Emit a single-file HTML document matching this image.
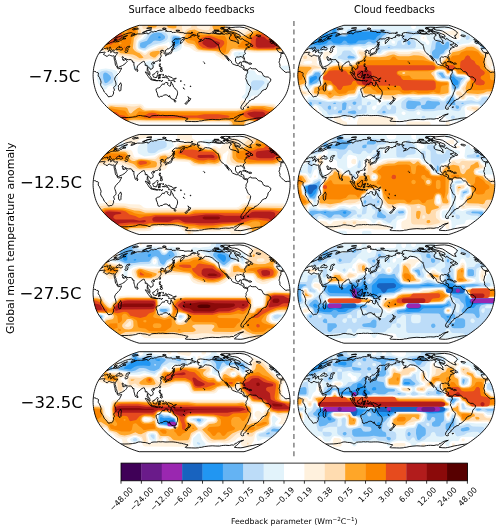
<!DOCTYPE html><html><head><meta charset="utf-8"><style>html,body{margin:0;padding:0;background:#fff;}svg{display:block;}text{font-family:"DejaVu Sans","Liberation Sans",sans-serif;fill:#000;}</style></head><body>
<svg width="500" height="530" viewBox="0 0 500 530">
<rect width="500" height="530" fill="#fff"/>
<defs>
<clipPath id="c00"><path d="M244,125.3 246.4,124.6 249,123.7 252,122.6 255.1,121.3 258.1,119.9 260.9,118.3 263.5,116.8 266,115.1 268.3,113.4 270.6,111.7 272.8,110 274.9,108.2 276.9,106.4 278.6,104.5 280.3,102.7 281.8,100.8 283.2,98.9 284.4,97.1 285.5,95.2 286.4,93.3 287.2,91.4 287.8,89.5 288.4,87.6 288.8,85.7 289.3,83.8 289.6,81.9 289.8,80 290,78.1 290.1,76.2 290.1,74.4 290,72.5 289.8,70.6 289.6,68.7 289.3,66.8 288.8,64.9 288.4,63 287.8,61.1 287.2,59.2 286.4,57.3 285.5,55.4 284.4,53.5 283.2,51.7 281.8,49.8 280.3,47.9 278.6,46.1 276.9,44.2 274.9,42.4 272.8,40.6 270.6,38.9 268.3,37.2 266,35.5 263.5,33.8 260.9,32.3 258.1,30.7 255.1,29.3 252,28 249,26.9 246.4,26 244,25.3 139.2,25.3 136.8,26 134.2,26.9 131.2,28 128.1,29.3 125.1,30.7 122.3,32.3 119.7,33.8 117.2,35.5 114.9,37.2 112.6,38.9 110.4,40.6 108.3,42.4 106.3,44.2 104.6,46.1 102.9,47.9 101.4,49.8 100,51.7 98.8,53.5 97.7,55.4 96.8,57.3 96,59.2 95.4,61.1 94.8,63 94.4,64.9 93.9,66.8 93.6,68.7 93.4,70.6 93.2,72.5 93.1,74.4 93.1,76.2 93.2,78.1 93.4,80 93.6,81.9 93.9,83.8 94.4,85.7 94.8,87.6 95.4,89.5 96,91.4 96.8,93.3 97.7,95.2 98.8,97.1 100,98.9 101.4,100.8 102.9,102.7 104.6,104.5 106.3,106.4 108.3,108.2 110.4,110 112.6,111.7 114.9,113.4 117.2,115.1 119.7,116.8 122.3,118.3 125.1,119.9 128.1,121.3 131.2,122.6 134.2,123.7 136.8,124.6 139.2,125.3Z"/></clipPath>
<clipPath id="c01"><path d="M244,234.5 246.4,233.8 249,232.9 252,231.8 255.1,230.5 258.1,229.1 260.9,227.5 263.5,226 266,224.3 268.3,222.6 270.6,220.9 272.8,219.2 274.9,217.4 276.9,215.6 278.6,213.7 280.3,211.9 281.8,210 283.2,208.1 284.4,206.3 285.5,204.4 286.4,202.5 287.2,200.6 287.8,198.7 288.4,196.8 288.8,194.9 289.3,193 289.6,191.1 289.8,189.2 290,187.3 290.1,185.4 290.1,183.6 290,181.7 289.8,179.8 289.6,177.9 289.3,176 288.8,174.1 288.4,172.2 287.8,170.3 287.2,168.4 286.4,166.5 285.5,164.6 284.4,162.7 283.2,160.9 281.8,159 280.3,157.1 278.6,155.3 276.9,153.4 274.9,151.6 272.8,149.8 270.6,148.1 268.3,146.4 266,144.7 263.5,143 260.9,141.5 258.1,139.9 255.1,138.5 252,137.2 249,136.1 246.4,135.2 244,134.5 139.2,134.5 136.8,135.2 134.2,136.1 131.2,137.2 128.1,138.5 125.1,139.9 122.3,141.5 119.7,143 117.2,144.7 114.9,146.4 112.6,148.1 110.4,149.8 108.3,151.6 106.3,153.4 104.6,155.3 102.9,157.1 101.4,159 100,160.9 98.8,162.7 97.7,164.6 96.8,166.5 96,168.4 95.4,170.3 94.8,172.2 94.4,174.1 93.9,176 93.6,177.9 93.4,179.8 93.2,181.7 93.1,183.6 93.1,185.4 93.2,187.3 93.4,189.2 93.6,191.1 93.9,193 94.4,194.9 94.8,196.8 95.4,198.7 96,200.6 96.8,202.5 97.7,204.4 98.8,206.3 100,208.1 101.4,210 102.9,211.9 104.6,213.7 106.3,215.6 108.3,217.4 110.4,219.2 112.6,220.9 114.9,222.6 117.2,224.3 119.7,226 122.3,227.5 125.1,229.1 128.1,230.5 131.2,231.8 134.2,232.9 136.8,233.8 139.2,234.5Z"/></clipPath>
<clipPath id="c02"><path d="M244,343.2 246.4,342.5 249,341.6 252,340.5 255.1,339.2 258.1,337.8 260.9,336.2 263.5,334.7 266,333 268.3,331.3 270.6,329.6 272.8,327.9 274.9,326.1 276.9,324.3 278.6,322.4 280.3,320.6 281.8,318.7 283.2,316.8 284.4,315 285.5,313.1 286.4,311.2 287.2,309.3 287.8,307.4 288.4,305.5 288.8,303.6 289.3,301.7 289.6,299.8 289.8,297.9 290,296 290.1,294.1 290.1,292.3 290,290.4 289.8,288.5 289.6,286.6 289.3,284.7 288.8,282.8 288.4,280.9 287.8,279 287.2,277.1 286.4,275.2 285.5,273.3 284.4,271.4 283.2,269.6 281.8,267.7 280.3,265.8 278.6,264 276.9,262.1 274.9,260.3 272.8,258.5 270.6,256.8 268.3,255.1 266,253.4 263.5,251.7 260.9,250.2 258.1,248.6 255.1,247.2 252,245.9 249,244.8 246.4,243.9 244,243.2 139.2,243.2 136.8,243.9 134.2,244.8 131.2,245.9 128.1,247.2 125.1,248.6 122.3,250.2 119.7,251.7 117.2,253.4 114.9,255.1 112.6,256.8 110.4,258.5 108.3,260.3 106.3,262.1 104.6,264 102.9,265.8 101.4,267.7 100,269.6 98.8,271.4 97.7,273.3 96.8,275.2 96,277.1 95.4,279 94.8,280.9 94.4,282.8 93.9,284.7 93.6,286.6 93.4,288.5 93.2,290.4 93.1,292.3 93.1,294.1 93.2,296 93.4,297.9 93.6,299.8 93.9,301.7 94.4,303.6 94.8,305.5 95.4,307.4 96,309.3 96.8,311.2 97.7,313.1 98.8,315 100,316.8 101.4,318.7 102.9,320.6 104.6,322.4 106.3,324.3 108.3,326.1 110.4,327.9 112.6,329.6 114.9,331.3 117.2,333 119.7,334.7 122.3,336.2 125.1,337.8 128.1,339.2 131.2,340.5 134.2,341.6 136.8,342.5 139.2,343.2Z"/></clipPath>
<clipPath id="c03"><path d="M244,451.7 246.4,451 249,450.1 252,449 255.1,447.7 258.1,446.3 260.9,444.7 263.5,443.2 266,441.5 268.3,439.8 270.6,438.1 272.8,436.4 274.9,434.6 276.9,432.8 278.6,430.9 280.3,429.1 281.8,427.2 283.2,425.3 284.4,423.5 285.5,421.6 286.4,419.7 287.2,417.8 287.8,415.9 288.4,414 288.8,412.1 289.3,410.2 289.6,408.3 289.8,406.4 290,404.5 290.1,402.6 290.1,400.8 290,398.9 289.8,397 289.6,395.1 289.3,393.2 288.8,391.3 288.4,389.4 287.8,387.5 287.2,385.6 286.4,383.7 285.5,381.8 284.4,379.9 283.2,378.1 281.8,376.2 280.3,374.3 278.6,372.5 276.9,370.6 274.9,368.8 272.8,367 270.6,365.3 268.3,363.6 266,361.9 263.5,360.2 260.9,358.7 258.1,357.1 255.1,355.7 252,354.4 249,353.3 246.4,352.4 244,351.7 139.2,351.7 136.8,352.4 134.2,353.3 131.2,354.4 128.1,355.7 125.1,357.1 122.3,358.7 119.7,360.2 117.2,361.9 114.9,363.6 112.6,365.3 110.4,367 108.3,368.8 106.3,370.6 104.6,372.5 102.9,374.3 101.4,376.2 100,378.1 98.8,379.9 97.7,381.8 96.8,383.7 96,385.6 95.4,387.5 94.8,389.4 94.4,391.3 93.9,393.2 93.6,395.1 93.4,397 93.2,398.9 93.1,400.8 93.1,402.6 93.2,404.5 93.4,406.4 93.6,408.3 93.9,410.2 94.4,412.1 94.8,414 95.4,415.9 96,417.8 96.8,419.7 97.7,421.6 98.8,423.5 100,425.3 101.4,427.2 102.9,429.1 104.6,430.9 106.3,432.8 108.3,434.6 110.4,436.4 112.6,438.1 114.9,439.8 117.2,441.5 119.7,443.2 122.3,444.7 125.1,446.3 128.1,447.7 131.2,449 134.2,450.1 136.8,451 139.2,451.7Z"/></clipPath>
<clipPath id="c10"><path d="M448.7,125.3 451.1,124.6 453.7,123.7 456.7,122.6 459.8,121.3 462.8,119.9 465.6,118.3 468.2,116.8 470.7,115.1 473,113.4 475.3,111.7 477.5,110 479.6,108.2 481.6,106.4 483.3,104.5 485,102.7 486.5,100.8 487.9,98.9 489.1,97.1 490.2,95.2 491.1,93.3 491.9,91.4 492.5,89.5 493.1,87.6 493.5,85.7 494,83.8 494.3,81.9 494.5,80 494.7,78.1 494.8,76.2 494.8,74.4 494.7,72.5 494.5,70.6 494.3,68.7 494,66.8 493.5,64.9 493.1,63 492.5,61.1 491.9,59.2 491.1,57.3 490.2,55.4 489.1,53.5 487.9,51.7 486.5,49.8 485,47.9 483.3,46.1 481.6,44.2 479.6,42.4 477.5,40.6 475.3,38.9 473,37.2 470.7,35.5 468.2,33.8 465.6,32.3 462.8,30.7 459.8,29.3 456.7,28 453.7,26.9 451.1,26 448.7,25.3 343.9,25.3 341.5,26 338.9,26.9 335.9,28 332.8,29.3 329.8,30.7 327,32.3 324.4,33.8 321.9,35.5 319.6,37.2 317.3,38.9 315.1,40.6 313,42.4 311,44.2 309.3,46.1 307.6,47.9 306.1,49.8 304.7,51.7 303.5,53.5 302.4,55.4 301.5,57.3 300.7,59.2 300.1,61.1 299.5,63 299.1,64.9 298.6,66.8 298.3,68.7 298.1,70.6 297.9,72.5 297.8,74.4 297.8,76.2 297.9,78.1 298.1,80 298.3,81.9 298.6,83.8 299.1,85.7 299.5,87.6 300.1,89.5 300.7,91.4 301.5,93.3 302.4,95.2 303.5,97.1 304.7,98.9 306.1,100.8 307.6,102.7 309.3,104.5 311,106.4 313,108.2 315.1,110 317.3,111.7 319.6,113.4 321.9,115.1 324.4,116.8 327,118.3 329.8,119.9 332.8,121.3 335.9,122.6 338.9,123.7 341.5,124.6 343.9,125.3Z"/></clipPath>
<clipPath id="c11"><path d="M448.7,234.5 451.1,233.8 453.7,232.9 456.7,231.8 459.8,230.5 462.8,229.1 465.6,227.5 468.2,226 470.7,224.3 473,222.6 475.3,220.9 477.5,219.2 479.6,217.4 481.6,215.6 483.3,213.7 485,211.9 486.5,210 487.9,208.1 489.1,206.3 490.2,204.4 491.1,202.5 491.9,200.6 492.5,198.7 493.1,196.8 493.5,194.9 494,193 494.3,191.1 494.5,189.2 494.7,187.3 494.8,185.4 494.8,183.6 494.7,181.7 494.5,179.8 494.3,177.9 494,176 493.5,174.1 493.1,172.2 492.5,170.3 491.9,168.4 491.1,166.5 490.2,164.6 489.1,162.7 487.9,160.9 486.5,159 485,157.1 483.3,155.3 481.6,153.4 479.6,151.6 477.5,149.8 475.3,148.1 473,146.4 470.7,144.7 468.2,143 465.6,141.5 462.8,139.9 459.8,138.5 456.7,137.2 453.7,136.1 451.1,135.2 448.7,134.5 343.9,134.5 341.5,135.2 338.9,136.1 335.9,137.2 332.8,138.5 329.8,139.9 327,141.5 324.4,143 321.9,144.7 319.6,146.4 317.3,148.1 315.1,149.8 313,151.6 311,153.4 309.3,155.3 307.6,157.1 306.1,159 304.7,160.9 303.5,162.7 302.4,164.6 301.5,166.5 300.7,168.4 300.1,170.3 299.5,172.2 299.1,174.1 298.6,176 298.3,177.9 298.1,179.8 297.9,181.7 297.8,183.6 297.8,185.4 297.9,187.3 298.1,189.2 298.3,191.1 298.6,193 299.1,194.9 299.5,196.8 300.1,198.7 300.7,200.6 301.5,202.5 302.4,204.4 303.5,206.3 304.7,208.1 306.1,210 307.6,211.9 309.3,213.7 311,215.6 313,217.4 315.1,219.2 317.3,220.9 319.6,222.6 321.9,224.3 324.4,226 327,227.5 329.8,229.1 332.8,230.5 335.9,231.8 338.9,232.9 341.5,233.8 343.9,234.5Z"/></clipPath>
<clipPath id="c12"><path d="M448.7,343.2 451.1,342.5 453.7,341.6 456.7,340.5 459.8,339.2 462.8,337.8 465.6,336.2 468.2,334.7 470.7,333 473,331.3 475.3,329.6 477.5,327.9 479.6,326.1 481.6,324.3 483.3,322.4 485,320.6 486.5,318.7 487.9,316.8 489.1,315 490.2,313.1 491.1,311.2 491.9,309.3 492.5,307.4 493.1,305.5 493.5,303.6 494,301.7 494.3,299.8 494.5,297.9 494.7,296 494.8,294.1 494.8,292.3 494.7,290.4 494.5,288.5 494.3,286.6 494,284.7 493.5,282.8 493.1,280.9 492.5,279 491.9,277.1 491.1,275.2 490.2,273.3 489.1,271.4 487.9,269.6 486.5,267.7 485,265.8 483.3,264 481.6,262.1 479.6,260.3 477.5,258.5 475.3,256.8 473,255.1 470.7,253.4 468.2,251.7 465.6,250.2 462.8,248.6 459.8,247.2 456.7,245.9 453.7,244.8 451.1,243.9 448.7,243.2 343.9,243.2 341.5,243.9 338.9,244.8 335.9,245.9 332.8,247.2 329.8,248.6 327,250.2 324.4,251.7 321.9,253.4 319.6,255.1 317.3,256.8 315.1,258.5 313,260.3 311,262.1 309.3,264 307.6,265.8 306.1,267.7 304.7,269.6 303.5,271.4 302.4,273.3 301.5,275.2 300.7,277.1 300.1,279 299.5,280.9 299.1,282.8 298.6,284.7 298.3,286.6 298.1,288.5 297.9,290.4 297.8,292.3 297.8,294.1 297.9,296 298.1,297.9 298.3,299.8 298.6,301.7 299.1,303.6 299.5,305.5 300.1,307.4 300.7,309.3 301.5,311.2 302.4,313.1 303.5,315 304.7,316.8 306.1,318.7 307.6,320.6 309.3,322.4 311,324.3 313,326.1 315.1,327.9 317.3,329.6 319.6,331.3 321.9,333 324.4,334.7 327,336.2 329.8,337.8 332.8,339.2 335.9,340.5 338.9,341.6 341.5,342.5 343.9,343.2Z"/></clipPath>
<clipPath id="c13"><path d="M448.7,451.7 451.1,451 453.7,450.1 456.7,449 459.8,447.7 462.8,446.3 465.6,444.7 468.2,443.2 470.7,441.5 473,439.8 475.3,438.1 477.5,436.4 479.6,434.6 481.6,432.8 483.3,430.9 485,429.1 486.5,427.2 487.9,425.3 489.1,423.5 490.2,421.6 491.1,419.7 491.9,417.8 492.5,415.9 493.1,414 493.5,412.1 494,410.2 494.3,408.3 494.5,406.4 494.7,404.5 494.8,402.6 494.8,400.8 494.7,398.9 494.5,397 494.3,395.1 494,393.2 493.5,391.3 493.1,389.4 492.5,387.5 491.9,385.6 491.1,383.7 490.2,381.8 489.1,379.9 487.9,378.1 486.5,376.2 485,374.3 483.3,372.5 481.6,370.6 479.6,368.8 477.5,367 475.3,365.3 473,363.6 470.7,361.9 468.2,360.2 465.6,358.7 462.8,357.1 459.8,355.7 456.7,354.4 453.7,353.3 451.1,352.4 448.7,351.7 343.9,351.7 341.5,352.4 338.9,353.3 335.9,354.4 332.8,355.7 329.8,357.1 327,358.7 324.4,360.2 321.9,361.9 319.6,363.6 317.3,365.3 315.1,367 313,368.8 311,370.6 309.3,372.5 307.6,374.3 306.1,376.2 304.7,378.1 303.5,379.9 302.4,381.8 301.5,383.7 300.7,385.6 300.1,387.5 299.5,389.4 299.1,391.3 298.6,393.2 298.3,395.1 298.1,397 297.9,398.9 297.8,400.8 297.8,402.6 297.9,404.5 298.1,406.4 298.3,408.3 298.6,410.2 299.1,412.1 299.5,414 300.1,415.9 300.7,417.8 301.5,419.7 302.4,421.6 303.5,423.5 304.7,425.3 306.1,427.2 307.6,429.1 309.3,430.9 311,432.8 313,434.6 315.1,436.4 317.3,438.1 319.6,439.8 321.9,441.5 324.4,443.2 327,444.7 329.8,446.3 332.8,447.7 335.9,449 338.9,450.1 341.5,451 343.9,451.7Z"/></clipPath>
</defs>
<g clip-path="url(#c00)">
<g transform="scale(0.1)" fill-rule="evenodd"><path fill="#fff1dd" d="M894 207l1416 0 1 50 8 17 20 8 90 16 16-7 10-17 3-67 488 0 0 270 -57 2 -9 3 -24 34 -33 10 -263 2 -74-5 -57-16 -82 2 -16 4 -9 7 -14 37 -10 9 -25 12 -25 18 -16 3 -33-25 -33-17 -26-25 -171-12 -32-16 -39-30 -52-11 -8-7 -6-16 -11-74 -8-13 -8-4 -30-9 -46-24 -88-19 -57-2 -107 10 -33 13 -33 55 -24 17 -15 17 -7 33 3 42 19 20 32 12 25 15 8 0 33-25 64-22 35-19 65-8 13 2 11 9 5 16 -5 17 -30 25 -18 33 -26 17 -21 25 -11 6 -24 2 -50-8 -98 20 -49-5 -50-12 -39-28 -59-5 -17-5 -32-36 -91-5 -24-5 -14-11 -19-29 -30-21 -19-28 -17-5 -49 0 0-217zM2421 1006l24 2 25 19 16 7 132-2 115 5 16 5 28 32 30 16 24 34 25 5 90 0 0 170 -415 0 -2-59 -10-9 -16-3 -17 2 -9 10 -2 59 -183 0 -2-59 -9-10 -16-3 -911-3 -33 1 -17 7 -4 17 -1 50 -339 0 0-117 6-25 10-14 29-19 20-31 29-19 21-31 16-8 156 0 74 6 82-4 25 12 17 25 24 6 903 2 49-8 0-8 -16-17 -5-17 4-16z"/><path fill="#e2f3fb" d="M1551 307l49-3 49 6 156 49 10 15 6 50 -1 42 -8 24 -15 13 -33 14 -24 2 -17-5 -17-24 -10-58 -6-11 -8 0 -25 13 -97 23 -67 30 -41 24 -16-1 -51-20 -9-16 -2-25 3-25 9-17 42-25 34-50 15-13 16-5zM2347 523l33-7 49 1 24 7 10 16 -11 17 -34 17 -22 21 -16 3 -17-11 -26-38 -1-17zM1477 614l24-3 21 5 37 15 2 9 -28 26 -23 29 -17 3 -13-8 -19-24 -26-26 2-8 7-4zM2823 657l123-4 0 50 -123-4 -12-9 -3-8 3-16zM1337 663l17-4 11 7 4 16 -7 12 -16 3 -12-7 -4-16zM1017 689l41-3 58 6 41 13 13 11 7 24 0 117 -3 25 -9 11 -16 0 -17-28 -25-9 -25 10 -24 28 -16 1 -56-55 -16-50 0-66 14-25zM2478 706l25-3 33 3 13 10 15 24 11 9 51 5 16 6 25 31 25 19 7 14 -7 22 -25 19 -18 25 -31 25 -25 31 -16 6 -51 5 -12 9 -15 24 -13 7 -58-15 -10-8 3-11 29-23 6-16 2-184 7-24z"/><path fill="#ffdcb0" d="M894 207l499 0 1 67 14 33 2 17 -7 21 -33 37 -13 25 -4 59 3 16 9 17 13 10 36 15 22 21 16 4 16-9 11-16 14-11 66-18 33-18 38-3 13 8 -18 25 -12 33 -29 22 -25 29 -16 3 -50-8 -90 16 -56-12 -43-24 -30-9 -76-7 -41-38 -107-6 -16-9 -21-31 -29-19 -16-27 -8-7 -17-3 -57-1 0-202zM1428 207l390 0 1 67 11 55 8 4 25-35 46-24 6-17 1-50 49 0 2 59 11 16 49 16 33 4 24-2 11-10 6-24 0-59 171 0 1 59 8 19 17 8 65 11 66 33 19-5 30-25 17-8 82-17 10-16 1-59 358 0 0 256 -68 3 -12 8 -18 29 -17 8 -16 1 -238 3 -82-5 -58-10 -98-1 -25 10 -15 31 -10 9 -41 16 -16 1 -25-11 -45-31 -20-7 -115-5 -49-7 -17-10 -26-29 -81-23 -8-7 -8-21 -8-82 -17 4 -24-2 -41-31 -115-22 -33-1 -49 9 -50 3 -65-5 -8-6 -5-16 0-59zM1116 1049l139 5 58 11 33-1 49-9 16 6 25 29 16 5 164 2 764 0 55-7 14-8 18-25 44-8 115-2 99 7 16 6 25 27 32 16 19 29 12 8 117 3 0 156 -402 0 -3-67 -13-14 -25-4 -25 2 -16 13 -4 70 -148 0 -3-67 -9-13 -17-5 -812-1 -123-4 -42 2 -14 13 -4 16 -1 59 -311 0 1-109 5-24 37-30 18-29 31-21 19-29 14-7z"/><path fill="#bcdcf8" d="M1551 315l57-1 49 14 19 21 4 17 -2 16 -11 17 -18 13 -41 18 -74 17 -41 20 -41 30 -41-5 -20-10 -5-8 -2-25 3-21 7-12 58-28 36-56 17-8zM1715 356l25-6 49 10 11 6 10 16 3 42 -4 25 -12 17 -41 32 -25-3 -12-21 -16-92 3-16zM2380 540l16-8 13 8 -21 5zM1034 707l32-2 50 16 11 11 11 34 -2 33 -9 25 -9 8 -60 26 -16-2 -16-16 -28-50 -5-16 0-34 5-16 11-9zM2528 806l32-3 66 3 16 10 4 16 -61 65 -16 5 -33 0 -21-12 -7-24 2-42z"/><path fill="#ffa628" d="M894 207l480 0 1 67 6 58 -10 17 -25 21 -7 12 -11 100 19 25 23 15 27 10 39 42 -17 8 -24 0 -35-25 -31-11 -123-13 -41-32 -107-6 -16-9 -18-29 -31-20 -12-21 -13-13 -25-6 -57 0 0-190zM1477 207l94 0 0 42 -5 17 -11 8 -21 3 -33 1 -17-4 -10-17 -1-50zM1674 207l94 0 -4 68 -8 7 -25 2 -33-3 -18-7 -7-8 -3-17 0-42zM2125 207l124 0 1 75 15 24 16 7 41-3 25 3 17 11 24 27 16 8 25 4 55-23 44-24 65-21 11-21 1-67 341 0 0 246 -74 3 -13 10 -20 29 -24 8 -238 3 -246-22 -25 10 -25 40 -41 16 -16-4 -33-25 -33-11 -123-7 -49-9 -17-12 -24-34 -17-7 -46-9 -22-16 -14-26 0-19 28-55 21-13 50-8 90 39 140 3 23-5 5-8 -1-8 -10-9 -50-6 -11-11 -6-24zM1526 514l58-6 13 8 1 8 -4 8 -42 42 -18 2 -31-19 -9-17 10-16zM1099 1064l17-2 41 7 103 5 13 8 18 42 13 10 10-2 23-23 38-27 20-6 33 25 24 6 74-4 90 6 747 0 74-8 17-7 32-25 33-8 123 0 87 13 28 21 33 15 20 30 13 10 123 3 0 146 -394 0 -4-75 -12-13 -41-7 -29 3 -20 17 -5 16 -1 59 -112 0 -2-67 -12-18 -25-10 -221 3 -99-4 -500 0 -132-6 -41 4 -15 15 -5 24 0 59 -290 0 0-100 4-25 7-8 27-17 18-30 31-20 18-29z"/><path fill="#64b3f3" d="M1543 331l41-5 31 6 31 25 5 9 -1 16 -22 17 -28 11 -49-4 -17 4 -23 22 -34 17 -21 25 -12 7 -16 0 -22-7 -7-17 4-26 11-7 55-17 31-50 21-17zM1731 365l25-3 33 8 8 6 6 14 1 34 -7 21 -49 32 -8-3 -6-8 -8-34 -4-50zM1042 728l16-3 16 7 28 25 9 17 -2 16 -7 9 -27 25 -17 9 -13-9 -13-42 -1-33 3-12z"/><path fill="#fb8600" d="M894 207l301 0 3 69 32 31 17 33 8 5 11-5 8-16 2-117 81 0 1 117 -4 9 -25 16 -12 17 -7 66 -19 34 -12 33 -16 11 -24 2 -25-6 -49-22 -99-3 -12-7 -20-30 -30-20 -15-25 -13-11 -24-5 -66-1 0-175zM1195 424l-8 8 3 9 8 4 13-5 5-8 -3-8zM2626 207l320 0 0 236 -57 1 -25 4 -12 9 -15 25 -14 9 -98 8 -156-1 -107-18 -74-6 -13-8 4-9 22-17 20-30 24-13 25-24 140-66 11-25 1-75zM1895 324l33-6 17 2 33 27 16 5 98-4 91 14 49-5 16 4 15 21 9 42 -14 92 -6 8 -12 5 -8-2 -25-19 -16-4 -115-6 -56-8 -27-8 -15-16 -33-56 -17-6 -33-4 -16-10 -4-8 0-16 12-34zM2322 329l17 0 8 6 20 39 -4 23 -16 14 -25 0 -20-21 -3-16 5-25 10-16zM2528 1074l98-1 49 16 50 5 57 24 21 31 20 12 123 2 0 136 -386 0 -1-67 -7-19 -16-11 -50-8 -98 9 -41-1 -66-9 -197 6 -115-6 -500 0 -74-10 -74-5 -25 6 -23 23 -6 25 -1 67 -266 0 1-100 5-17 28-20 20-30 29-20 24-30 91 19 49 6 10 9 23 34 16 12 17 3 46-16 28-33 8-4 49 9 82-8 90 10 756 1 73-15 41-21z"/><path fill="#2196f2" d="M1584 364l16-1 8 11 -8 9 -13-1 -6-8zM1748 379l24 0 17 11 0 34 -8 10 -17 7 -16-1 -7-16 -2-25 1-10z"/><path fill="#e64b1e" d="M894 207l283 0 2 75 7 17 28 33 7 34 -3 16 -78 38 -24 24 -17 4 -8-4 -25-34 -29-20 -20-30 -30-20 -19-29 -25-8 -57 0 0-96zM2659 207l287 0 0 222 -82 4 -24 16 -17 25 -90 16 -148 0 -45-8 -21-8 -8-8 -4-17 0-50 5-17 16-14 41-20 57-8 21-8 7-16 1-109zM2060 364l24-4 25 3 40 11 34 16 41 10 18 16 1 24 -29 34 -23 11 -99 5 -65-13 -36-28 -9-17 0-16 4-9 33-29zM1247 465l9 9 -9 7 -8-7zM2511 1098l33-5 82 1 49 18 50 5 41 10 8 5 24 34 17 7 131 4 0 122 -378 0 0-67 -8-25 -16-12 -84-21 -34-25 -5-9 4-8 33-16zM1140 1121l25 2 30 26 52 8 16 14 2 11 -12 50 -1 67 -222 0 1-59 6-24 29-20 25-36 25-14zM1485 1132l25-5 41 2 41 22 24 3 353 0 74-11 140 0 98 13 16 10 -8 8 -123 16 -123 0 -74-13 -459 2 -66-5 -6-8 6-9z"/><path fill="#b21c1c" d="M1034 207l126 0 1 75 16 67 -2 17 -10 16 -16 4 -13-4 -20-22 -30-20 -20-30 -29-20 -7-24 0-59zM2856 207l90 0 0 146 -57 0 -25 8 -19 29 -35 26 -20 29 -51 29 -146 3 -20-3 -12-8 -4-17 1-59 10-16 9-4 24-5 33 3 14 6 19 22 16 6 42 0 16-7 19-29 30-20 20-30 34-26 7-24 1-59zM2076 380l25 0 33 22 57 18 10 12 -3 8 -48 34 -41 3 -33-4 -49-33 -4-16 12-16zM2544 1115l82 2 16 7 8 8 5 25 0 142 -73 0 -2-75 -9-25 -19-16 -46-17 -33-26 0-8 12-8z"/></g>
<path transform="translate(191.6,75.3) scale(0.1)" d="M56 -414l11-9 24-5 18 2 28 4 17 2 21 4 22-6 24 3 30 3 31 5 18-3 31 4 7-6 22 2 16-5 25 16 -10 3 -2 8 -10 11 0 19 14 12 24 6 29 6 11 14 15 6 -9-17 4-12 -15-12 -6-11 -11-11 18 1 23 7 12 13 15-4 0-5 31 22 26 12 18 11 -6 12 -22 2 -11 5 15 5 7 12 21 6 -21 7 -18 4 4 12 -14 8 -2 12 1 10 7 11 -7 4 -8 8 -7 11 8 18 6 16 -4 5 -11-14 -6-13 -11-2 -16-3 -7 7 -8-1 -16-2 -13 12 0 17 1 17 12 20 9 5 16-2 3-15 16-3 2 18 -3 16 13 0 12 6 4 19 1 9 10 9 13-3 11 6 1 3 -3 5 -11-1 -3-5 -14 0 -15-11 -1-7 -11-12 -19-5 -18-13 -13 2 -20-8 -20-8 -12-11 0-11 -8-11 -15-14 -13-14 -13-19 -11-4 7 11 9 9 7 13 7 12 5 10 -14-13 -12-19 -12-14 -10-14 -9-9 -11-4 -9-12 -8-9 -6-11 -6-13 -5-26 -8-13 7-4 -11-6 -14-6 -5-9 -15-11 -16-15 -16-9 -20-7 -18-1 -16-3 -16 7 -8 13 -17 6 -18 6 -11 3 19-12 10-12 -20 0 -13-11 -5-8 4-7 13-7 -21-1 -8-5 15-5 -9-11M376 -461l2-11 17-5 42-4 45-2 45 6 33 12 29 18 17 15 7 10 -12 9 -5 13 -14 5 17 28 -28-6 -29-17 -25-16 -22-16 -32-20 -35-9 -22 0 -30-10M483 -403l5 19 -10 3 -27-11 -23 0 6-11 3-5 -36-14 -30-2 -25-15 29-1 21 6 34 10 26 10 27 11M247 -416l31 0 34-3 -5-8 -27-10 -27 0 -15 5 9 16M342 -454l22-2 -1-9 19-10 3-4 -45-2 -44 4 8 5 38 18M211 -431l20 7 16-5 -10-10 -21-4 -5 12M326 -444l45 0 -8-7 -39-3 2 10M227 -449l49 2 -8-5 -44 0 3 3M299 -461l25-2 -16-10 -21 1 12 11M316 -434l17 2 5-7 -24-3 2 8M559 -50l10-15 13-6 7-6 4 9 17 3 22 0 13 0 9 12 18 16 22 3 11 9 6 16 8 15 22 10 25 1 15 13 11 7 -2 19 -12 15 -13 13 -4 24 -9 16 -8 16 -17 3 -25 15 -7 16 -16 15 -20 19 -14 9 -14 3 -1 6 -7 11 -25 5 -7 11 -14 1 -3 9 -12 16 -16 9 2 9 -20 15 -10 10 0 5 3 11 -11 3 -12-3 -6-11 4-18 12-18 16-22 10-15 9-22 12-15 11-19 7-24 10-19 7-31 0-10 -9-9 -17-18 -7-16 -9-25 -8-12 5-12 2-6 -4-10 4-9 3-6 5-7 5-9 0-15 -1-10M894 -222l-2 30 2 9 -11 11 -3 23 -6 19 6 12 4 19 -3 8 6 13 11 10 11 12 13 13 21 15 19-4 16 1 5-3M-983 -34l11-5 16 4 8 8 11-1 6 6 -2 16 -1 12 13 17 5 14 7 16 4 16 -5 21 2 15 14 22 9 13 12 27 11 10 18 21 8 14 10 4 11-5 17-1 9-8 5-13 5-12 -3-16 11-12 -4-13 -5-12 8-12 13-10 4-12 -4-22 -7-18 -4-10 2-12 8-16 13-15 14-13 12-12 9-18 10-19 2-8 -13 4 -22 4 -8-7 -2-12 -7-7 -8-7 -3-14 -3-18 0-6 -5-12 -2-13 -2-13 0-11 2-8 -5-3 -13 4 -18-5 -13-6 -12 3 -8 11 -16-4 -10-10 -7-3 -6-2 10-14 7-7 -6-2 -14 2 -22 1 -19 6M925 -222l-7 4 -16 0 -8-4M-710 74l9 22 -3 12 -2 19 -1 22 -8 9 -9-3 -8-19 3-12 -5-19 9-7 8-11 7-13M848 -266l16 24 11 13 12 0 9 6 2-5 13 0 1-9 -2-8M-910 -245l12-9 16-6 6-8 8-1 8 2 8-4 13-3 -2 8 3 9 9 9 -7 12 6-3 6-5 1-6 9 1 -4-5 0-6 -7-4 -1-10 6-7 8-1 1 2 0 8 5 6 5 7 -8 9 1 6 -1 9 0 9 8-6 3-7 4 2 2-13 9-3 10 0 0 4 -4 4 -2 9 1 8 11 3 10 1 12-4 7 2 -6 9 -8 12 -8 10 -2 1 -1 11 -5 9 4 4 3 15 5 9 0 13 6 12 3 13 4 12 1 15 9 2 17-8 17-7 8-4 16-10 10-7 8-8 5-7 9-10 -6-7 -9-7 1-8 -5 4 -10 8 -13 0 2-10 -5 6 -1-8 -2-6 -3-9 0-8 8-1 4 5 3 8 11 8 13-3 4 9 20 3 17-1 10 0 3 5 5 8 8 4 -6 0 6 11 12-3 -1 14 0 16 5 15 2 9 4 16 4 11 6-4 8-9 3-10 5-22 8-6 6-5 12-11 12-7 4-8 11-2 8-5 7 2 2 11 7 10 -1 18 7 1 11-4 4 21 -1 19 -3 11 9 11 2 15 6 8 11 9 3-1 -3-16 -2-10 -6-3 -8-10 -2-10 -4-7 6-14 3-5 6 5 4 5 2 6 8 3 2 9 10-8 12-7 3-13 -1-12 -11-12 -4-10 6-8 8-8 9 1 4 7 3-7 11-5 9-2 11-3 9-9 9-9 7-13 9-12 -1-6 1-8 -4-8 -4-9 8-7 11-5 -5-3 -10 1 -2-5 -3-6 5-2 13-9 6 2 -7 9 7-5 9 0 3 8 5 7 -4 15 6 2 10-4 3-10 -4-11 -3-6 13-8 7-8 7-6 7 3 11-7 12-10 19-18 3-15 6-7 -1-6 -15-5 1-2 22-24 12-5 20 1 13-2 14 2 7-4 8-9 13-1 16-3 -9 18 -22 9 -9 15 0 23 10-10 8-9 11-11 7-11 6-10 9-4 17 3 12-9 17-5 9 0 -6-12 14-5 13 2 14 4 2-6 9-3 -18-5 -24-9 -16-6 -21-1 -18 2 -20 0 -3-6 -19-1 -19-2 -18-4 -18-1 -10 5 -19 0 -13 2 -2-7 -7-5 -16 2 -14-2 -18-1 -10-2 12-7 -17-9 -22 4 -10 4 -18-1 -23 4 -10 5 -3 5 -20-2 -9 5 -15 0 -6-2 -17 9 -11 13 -12-1 -2-9 -33 8 -23 2 -12 0 -28 0 -5 1 -15 5 -18 9 -23 9 -7-2 10-8 -2-6 13 1 26-5 -5-5 -16-4 -12-3 -8-5 -27 5 -31 8 -19 8 -14 8 -19 8 -24 8 -18 6 -18 14 -2 6 9 0 21-8 0 2 -7 9 -5 8 1 4 13-4 11-8 7-6 15-5 4-6 4-6 8-5 13-6 16-5 14-7 9 0 -2 4 -8 4 -19 7 -17 11 0 6 17-3 14 2 -11 4 -19 1 -7 4 -4 6 -16 3 -9 8 -15 7 -9-2 -18 5 -8-2 -8 2 1-5 13-9 10-8 -13 3 -13 10 -8 9 -10 2 -12 3 -12 8 -14 4 -8 5 -11 4M857 -306l-7-1 3 6 -12 2 17 7 13 7 8 10 3 6 -11 0 -21-2 -2 5M-757 -255l10 0 16-5 8 0 4 4 6 3 11-1 9-3 5-7 -5-5 -5-6 -2-5 -3 0 -9 3 -9 2 -1-6 8-4 -5-3 -5 0 -9 6 -4 3 -8 5 -9 8 -4 6 1 5M-634 -288l9-3 9 2 -5 9 -12 5 -7 9 6 6 -5 9 1 9 -5 10 -17 4 -6-4 0-7 9-10 4-1 -4-9 0-7 5-9 2-7 16-6M-261 -194l6-1 6-15 8 3 8-1 3-6 7 1 2-2 9-1 6-2 5-4 2-10 4-7 3-6 -1-10 -6 0 -3 7 -2 8 -7 6 -9 5 -1-2 -5 8 -3 3 -13 0 -9 6 -4 3 -6 5 1 8 -1 4M-200 -257l5-1 11-2 13-8 -4-4 -11-9 -2 2 -3 10 -5 1 -3 5 -1 6M-185 -285l8-3 0-15 7 0 -4-15 4-16 -2 0 -6 10 -1 9 -4 18 -2 12M-320 -140l3 4 7-16 -1-5 -6 5 -3 12M-384 -115l7 2 6-9 -4-3 -7 2 -2 8M-546 -50l2 13 8-8 -5-14 -4-1 -1 10M-463 -34l12 2 14 16 18 19 6 9 8 7 1 17 -8 1 -13-12 -8-13 -10-15 -7-11 -9-10 -4-10M-408 42l4-5 14 3 11 2 11 1 11 5 -1 6 -18-3 -17-3 -14-5 -1-1M-388 -9l3-3 8 2 11-9 8-10 6-4 8-10 12 10 -7 6 -1 16 6 5 -8 5 -5 10 0 11 -9 5 -10-5 -7 0 -9-2 -1-9 -5-6 0-12M-331 35l1-13 -4-10 5-12 2-5 14-1 11-3 -10 7 -14-1 5 9 11 0 -10 5 8 16 -6 4 -6-14 -2 18 -5 0M-268 8l8-6 9 4 5 14 14-11 16 7 22 8 7 9 10 6 1 11 12 14 -10-1 -11-13 -11-2 -4 8 -13 0 -11-6 -5 2 -3-4 6-5 -4-10 -15-6 -9-3 -3 1 -5-7 -6-10M-320 -115l9 0 -2 10 -4 7 1 10 12 7 -8-4 -10-3 2-8 -5-5 3-7 2-7M-317 -43l9-5 11-13 6 16 -4 6 -3 4 -8-5 -11-3M-316 -65l11-6 9-7 -4 16 -11 3 -5-6M-305 63l17-11 -12 5 -5 6M-356 136l2 19 11 25 4 18 3 15 16 5 9-7 18-1 12-10 15-4 12-1 16 7 9 14 1-8 8-6 0 12 6 0 -2 7 9 4 6 11 16 4 14 2 7-8 11-2 0-12 4-12 6-10 2-12 1-12 -3-14 -4-8 -9-12 -7-2 -6-12 -12-9 -3-12 -3-12 -9-4 -2-10 -6-13 -5 14 1 16 -5 12 -8-1 -12-8 -8-7 6-16 -7-2 -16-3 -6 5 -7 5 -3 11 -11-5 -8 1 -5 8 -7 9 -7 8 -5 8 -12 5 -12 2 -9 7 -6 1M-177 252l18 1 1 8 -5 8 -9-6 -5-11M-38 214l9 7 8 8 13 5 -5 10 -3 1 -7 13 -4-2 2-9 -6-4 4-7 -1-10 -10-12M-37 251l9 7 -6 8 -2 5 -7 4 -3 9 -7 4 -13-3 1-5 7-8 11-6 5-7 5-8M828 -309l9-3 11-3M-848 -315l7-1 12-9 -2-4 1-2M830 -331l-7-4 -12-7 -6-3 -7-1 -3-7 -13-6 -7 0 8 9 7 6 9 4 10 2 2 4 10 6 -9 0 8 4 -1 5 11 2 -2 8M813 -322l-12-11 -3-3 -11-4 -2 3 -3 3 4 4 7 9 6 3 7-1 7-3M660 -391l-15-7 2-5 22 1 13 3 9 3 0 5 -9 5 -19-2 -3-3M-589 -463l0 7 6 2 20-4 32-6 -6-6 -15-1 -27 4 -10 4M-491 -428l17 3 5-12 25-11 39-7 4 1 -37 7 -25 10 -9 1 -19 8M-290 -465l23 4 13-6 -14-6 -19 1 -3 7M-449 -470l27-2 26-1 -8-3 -31 3 -14 3M-157 -449l15 7 24-5 -6-3 -21-1 -12 2M-6 -427l10 1 8-3 -12-1 -6 3M509 -136l12-7 13 0 15 8 19 10 -18 2 -4-6 -18-6 -19-1M569 -115l7-8 16 1 10 7 -9 2 -8 4 -16-6M584 -294l7-12 -6-12 20 12 9 12 -8 5 -22-5M-173 34l9-2 8-6 4 2 -6 6 -6 4 -9-2 0-2M-111 58l6 2 0 1 -6 0 0-3M-106 52l5 5 -1 2 -4-4 0-3M-85 125l10 8 5 5 -2 0 -11-9 -2-4M-15 108l7-1 0 6 -7-1 0-4M130 -118l4-2 0-3 -5-2 0 3 1 4M117 -132l3 0 -2-3 -1 1 0 2M-328 53l17-2 -1 3 -15 1 -1-2M-345 53l12-2 0 3 -10 2 -2-3M-358 51l7 1 5 0 0 3 -11-1 -1-3M-287 -11l5 2 -3 6 5 3 -5 4 -3-7 1-8M-284 20l15 1 -2 3 -12-2 -1-2M-295 19l6 1 -2 4 -4-2 0-3M-73 92l4 2 -1 5 -3-3 0-4M559 317l14 0 -6 5 -8-1 0-4M-705 423l38 0 38-1 36-3 16-3 17-2 14-6 14-5 20-1 25 5 22 1 25 6 14 7 11-2 7-5 9-8 23-3 28 0 19-3 21 2 20-2 22 3 21 0 20-1 20 0 20 0 22 3 21 3 22 6 21 2 20 6 13 2 12 5 15 0 3 5 -9 8 -13 7 -6 7 8 4 10 1 11 0 35 1 35 1 35-2 8-4 22-1 28-7 39-5 39-3 36 2 36 1 23-5 21-2 19-1 36 2 25-6 17 2 19-18 2 6 20-16 22-11 38-9 -14 6 -17 8 -14 11 -7 11 -18 15 -15 10 0 4 -7 5 30 4 34 1 22-3 30-7 35-9 34-5 35-8 33-3 24-3" fill="none" stroke="#000" stroke-width="9" stroke-linejoin="round"/>
</g>
<path d="M244,125.3 246.4,124.6 249,123.7 252,122.6 255.1,121.3 258.1,119.9 260.9,118.3 263.5,116.8 266,115.1 268.3,113.4 270.6,111.7 272.8,110 274.9,108.2 276.9,106.4 278.6,104.5 280.3,102.7 281.8,100.8 283.2,98.9 284.4,97.1 285.5,95.2 286.4,93.3 287.2,91.4 287.8,89.5 288.4,87.6 288.8,85.7 289.3,83.8 289.6,81.9 289.8,80 290,78.1 290.1,76.2 290.1,74.4 290,72.5 289.8,70.6 289.6,68.7 289.3,66.8 288.8,64.9 288.4,63 287.8,61.1 287.2,59.2 286.4,57.3 285.5,55.4 284.4,53.5 283.2,51.7 281.8,49.8 280.3,47.9 278.6,46.1 276.9,44.2 274.9,42.4 272.8,40.6 270.6,38.9 268.3,37.2 266,35.5 263.5,33.8 260.9,32.3 258.1,30.7 255.1,29.3 252,28 249,26.9 246.4,26 244,25.3 139.2,25.3 136.8,26 134.2,26.9 131.2,28 128.1,29.3 125.1,30.7 122.3,32.3 119.7,33.8 117.2,35.5 114.9,37.2 112.6,38.9 110.4,40.6 108.3,42.4 106.3,44.2 104.6,46.1 102.9,47.9 101.4,49.8 100,51.7 98.8,53.5 97.7,55.4 96.8,57.3 96,59.2 95.4,61.1 94.8,63 94.4,64.9 93.9,66.8 93.6,68.7 93.4,70.6 93.2,72.5 93.1,74.4 93.1,76.2 93.2,78.1 93.4,80 93.6,81.9 93.9,83.8 94.4,85.7 94.8,87.6 95.4,89.5 96,91.4 96.8,93.3 97.7,95.2 98.8,97.1 100,98.9 101.4,100.8 102.9,102.7 104.6,104.5 106.3,106.4 108.3,108.2 110.4,110 112.6,111.7 114.9,113.4 117.2,115.1 119.7,116.8 122.3,118.3 125.1,119.9 128.1,121.3 131.2,122.6 134.2,123.7 136.8,124.6 139.2,125.3Z" fill="none" stroke="#000" stroke-width="0.9"/>
<g clip-path="url(#c01)">
<g transform="scale(0.1)" fill-rule="evenodd"><path fill="#fff1dd" d="M894 1299l628 0 -1 50 -6 17 -14 9 -73 11 -33 11 -15 11 -18 25 -16 10 -42 0 -49-18 -24-34 -17-9 -16 4 -8 7 -11 23 0 50 11 21 24 7 90 3 17 14 16 47 9 12 8 4 41-2 57 7 91-3 49-35 49-13 49-1 25-29 41-24 15-33 10-9 70-16 3-8 -9-9 -48-5 -21-12 -7-24 -1-59 148 0 4 77 8 11 25 14 25 20 98 57 25 0 41-19 16 4 33 23 12-4 21-30 24-14 25-37 33-17 33-5 65 16 33-6 9-7 9-16 3-67 488 0 0 270 -49 0 -17 5 -24 34 -30 16 -28 32 -16 6 -82 4 -328-4 -66-10 -25-9 -13-11 -4-16 9-58 13-34 -5-16 -8-1 -16 19 -25 15 -7 25 1 66 -10 17 -25 13 -49 3 -197-2 -25-7 -28-32 -13-5 -172-8 -17 11 -26 60 -15 12 -24 8 -74 10 -173 2 -82-20 -33-29 -57-17 -90-2 -58 10 -49 1 -25-8 -21-25 -11-5 -66-3 0-317zM2470 1954l16-3 12 7 4 16 -7 12 -17 4 -11-8 -4-16zM1091 2003l8-3 17 3 21 21 20 7 98 3 49 9 91 3 16 6 25 23 33 8 402 0 82-9 410 0 25-6 33-31 49-10 74 6 287 1 17 7 23 25 9 3 66 2 0 320 -457 0 -3-69 -15-14 -34-9 -16 5 -9 12 -4 75 -98 0 -4-69 -17-12 -32-3 -115 9 -197 0 -8 4 -7 12 -2 59 -73 0 -1-59 -7-16 -25-17 -25-25 -41-5 -197 2 -16 4 -25 24 -25 8 -41 5 -139 3 -9 4 -6 13 -2 59 -410 0 0-308 66-3 9-6 24-33 16-6 57-6 11-5z"/><path fill="#e2f3fb" d="M1526 1389l33-6 74 0 33 3 24 7 22 15 27 41 1 13 -58 35 -49 13 -49 20 -41 23 -99 12 -57-28 -9-13 -3-25 2-25 9-16 58-49zM2035 1399l25-4 74 2 16 7 5 12 -5 10 -33 15 -17 17 -16 4 -24-21 -29-17 -6-8 0-8zM1198 1405l8-3 12 6 21 30 35 20 4 8 -2 8 -13 8 -16 2 -33 0 -16-5 -8-11 -3-19 3-30z"/><path fill="#ffdcb0" d="M894 1299l295 0 -1 59 -19 58 -1 42 5 24 8 13 17 7 57 4 25 9 41 63 16 12 17 2 49-8 148 8 16-10 19-24 20-9 43-8 41 10 8-2 9-8 15-33 41-26 26-33 98-20 33-1 25 2 49 17 42 27 32 13 24 2 42-9 24 7 52 54 5 33 -4 42 -12 22 -33 10 -180 2 -49-8 -33-30 -17-6 -106-6 -83-12 -17 11 -24 46 -60 37 -46 12 -148 6 -40-9 -59-33 -98-41 -99-1 -56 16 -42 0 -36-24 -13-5 -74-2 0-302zM2552 1299l394 0 0 256 -68 3 -12 8 -18 29 -33 16 -25 27 -41 11 -271 1 -106-7 -39-11 -15-8 -11-16 -6-26 7-58 -10-66 6-42 18-16 17-2 21 10 28 33 25 4 24-6 41-38 41-7 17-10 8-26 0-59zM1091 2049l66 6 90 2 49 19 99 8 49 19 33 3 394-1 82-16 419 0 29-7 36-26 41-10 66 9 279 3 49 25 74 2 0 306 -439 0 -1-67 -8-25 -12-11 -32-16 -33-6 -82 4 -50 13 -49 2 -98 15 -205-2 -21 10 -11 16 -3 67 -21 0 -3-67 -14-25 -59-39 -41-5 -213 3 -25 6 -33 20 -33 9 -156 4 -15 11 -4 8 -3 75 -396 0 0-284 74-2 16-7 23-32 10-6z"/><path fill="#bcdcf8" d="M1559 1407l74 1 24 7 11 17 -2 34 -17 14 -63 19 -30 25 -13 6 -33 2 -25-5 -9-11 -3-17 0-58 7-17 21-10zM1206 1443l8 1 13 14 2 8 -18 0 -6-8z"/><path fill="#ffa628" d="M894 1299l271 0 0 59 -10 58 -1 42 6 33 13 16 17 7 57 4 16 6 19 25 15 42 16 13 16 5 17 1 41-16 24-2 76 7 73 17 10 16 -3 29 -8 9 -16 6 -148 11 -17-6 -32-34 -17-9 -33-10 -24-13 -50-11 -106-3 -91 5 -65-16 -74-1 0-290zM2569 1299l377 0 0 246 -76 4 -11 9 -20 30 -32 15 -33 25 -33 9 -255 2 -57-10 -49-3 -17-8 -30-27 -8-17 -2-125 7-25 9 0 7 8 19 42 23 8 49-2 41-30 58-11 16-15 13-33zM1863 1449l82-2 41 14 34 21 25 9 39 7 50-6 16 5 54 61 2 24 -7 27 -16 19 -33 9 -66-5 -49 7 -49-1 -41-10 -41-29 -58-9 -74-4 -37-12 -9-8 -3-17 4-25 13-16 30-17 27-28 25-9zM1625 1557l32-1 14 10 2 8 -16 34 -16 18 -16-3 -31-32 1-17 8-8zM2470 2066l16-2 58 12 271 3 57 15 74 1 0 296 -421 0 -1-75 -10-34 -11-16 -8-6 -33-7 -123 2 -99 10 -106 24 -140 0 -57-8 -42 8 -88-40 -43-4 -221 5 -37 8 -54 19 -131 2 -25 4 -16 13 -8 20 -2 75 -384 0 0-217 49 0 17-5 19-28 35-25 15-25 21-12 57-4 140 3 107 26 49 4 57 20 411-2 25-2 40-19 25-4 435-2 31-8z"/><path fill="#fb8600" d="M894 1299l86 0 0 100 4 27 9 12 29 20 20 30 24 14 19 22 22 8 140 5 16 11 6 10 0 24 -10 9 -12 2 -156-5 -131-13 -74-1 0-275zM2651 1299l295 0 0 236 -57 1 -25 4 -12 9 -15 25 -10 8 -78 37 -24 6 -239-1 -24-8 -33-19 -41-5 -16-9 -10-17 -2-17 2-25 10-11 65-9 49-19 50-5 41-30 41-7 16-9 8-26 1-109zM1846 1465l91-2 90 36 49 7 66 0 24 31 25 21 5 16 -3 17 -18 19 -33 13 -58-10 -41 11 -49 1 -25-6 -65-31 -58-11 -57-4 -18-7 -19-17 -7-17 8-16 60-39zM1378 1607l33-7 58 5 29 11 11 8 2 8 -6 9 -28 14 -66 17 -16-1 -17-13 -13-26 3-16zM1058 2090l132-1 49 5 73 22 34 16 49 11 33 2 131-6 320 0 25-4 33-17 24-4 427 0 41-7 57-21 239 4 98 6 49 8 74 1 0 286 -341 0 -2-159 -4-8 -13-8 -34-3 -27 3 -30 14 -25 6 -82 8 -156 8 -107 24 -139-2 -41-11 -58-3 -82-21 -33-4 -82 6 -164 1 -33 4 -49 14 -140 2 -16 3 -14 9 -15 25 -4 92 -369 0 0-202 57-1 17-3 26-36 31-20 17-28z"/><path fill="#e64b1e" d="M2667 1299l279 0 0 222 -66 1 -24 6 -16 13 -17 26 -98 37 -148 1 -91-13 -16-9 -10-17 -2-17 2-17 10-16 16-7 50-5 41-18 57-6 20-14 12-42zM1838 1498l90-2 99 18 98 3 17 8 36 41 2 8 -12 17 -26 11 -58-6 -49 9 -49-2 -58-24 -51-13 -31-19 -49-5 -13-10 -2-8 7-9zM1116 1564l106-2 19 4 -10 4 -122-4zM1387 1616l16-6 33 0 27 6 8 8 -1 8 -12 9 -55 10 -16-10 -5-9zM1050 2105l41-4 131 4 36 11 38 28 58 15 33 18 16 2 41-15 49-2 58-11 336-1 58-14 98-6 378 3 24-5 39-20 44-7 197 0 65 12 156 6 0 272 -144 0 0-59 -7-16 -38-17 -21-33 -28-17 -25-35 -16-6 -33-2 -41-9 -41-2 -44 4 -70 25 -42 9 -172 7 -99 15 -131 0 -49-9 -91-6 -57-15 -25-2 -90 10 -181-4 -57 15 -148 2 -49 10 -33 2 -18 8 -15 25 -32 23 -6 10 -3 67 -254 0 0-190 57 0 25-6 29-37 28-19 17-27z"/><path fill="#b21c1c" d="M2856 1299l90 0 0 146 -57 0 -25 8 -19 29 -35 26 -20 30 -24 13 -33 28 -25 4 -107 0 -34-9 -9-16 0-26 10-16 9-4 148-18 16-7 19-29 30-20 20-30 34-26 7-24 1-59zM1986 1549l131-2 17 5 12 14 -2 8 -10 5 -50-2 -82 4 -22-7 -5-8 1-8zM1058 2121l17-5 32 0 83 3 20 5 4 8 -9 9 -48 5 -20 12 -4 16 4 8 20 12 180 2 58 12 49-8 16 7 0 9 -24 9 -140 1 -106 10 -17 13 -14 25 -27 17 -12 17 -4 83 -230 0 0-175 66-1 24-5 14-11 19-29 30-21zM2519 2121l33-5 148 0 41 7 9 9 3 17 -4 73 -8 6 -16-3 -17-26 -25-14 -106-8 -58 1 -57 7 -33 11 -31 20 -18 4 -156 5 -99 8 -123 0 -148-9 -24-7 -33-20 -16-3 -41 3 -36 19 -30 3 -123-1 -17-4 -11-15 2-17 7-8 27-8 336-1 165-20 123 1 65 11 181 0 25-2 32-11zM2774 2255l8-3 9 6 3 8 -4 7 -8 2 -8-6z"/><path fill="#8b0a0a" d="M2043 2165l140 0 17 9 0 8 -9 8 -16 4 -124 0 -16-3 -9-9 0-8z"/></g>
<path transform="translate(191.6,184.5) scale(0.1)" d="M56 -414l11-9 24-5 18 2 28 4 17 2 21 4 22-6 24 3 30 3 31 5 18-3 31 4 7-6 22 2 16-5 25 16 -10 3 -2 8 -10 11 0 19 14 12 24 6 29 6 11 14 15 6 -9-17 4-12 -15-12 -6-11 -11-11 18 1 23 7 12 13 15-4 0-5 31 22 26 12 18 11 -6 12 -22 2 -11 5 15 5 7 12 21 6 -21 7 -18 4 4 12 -14 8 -2 12 1 10 7 11 -7 4 -8 8 -7 11 8 18 6 16 -4 5 -11-14 -6-13 -11-2 -16-3 -7 7 -8-1 -16-2 -13 12 0 17 1 17 12 20 9 5 16-2 3-15 16-3 2 18 -3 16 13 0 12 6 4 19 1 9 10 9 13-3 11 6 1 3 -3 5 -11-1 -3-5 -14 0 -15-11 -1-7 -11-12 -19-5 -18-13 -13 2 -20-8 -20-8 -12-11 0-11 -8-11 -15-14 -13-14 -13-19 -11-4 7 11 9 9 7 13 7 12 5 10 -14-13 -12-19 -12-14 -10-14 -9-9 -11-4 -9-12 -8-9 -6-11 -6-13 -5-26 -8-13 7-4 -11-6 -14-6 -5-9 -15-11 -16-15 -16-9 -20-7 -18-1 -16-3 -16 7 -8 13 -17 6 -18 6 -11 3 19-12 10-12 -20 0 -13-11 -5-8 4-7 13-7 -21-1 -8-5 15-5 -9-11M376 -461l2-11 17-5 42-4 45-2 45 6 33 12 29 18 17 15 7 10 -12 9 -5 13 -14 5 17 28 -28-6 -29-17 -25-16 -22-16 -32-20 -35-9 -22 0 -30-10M483 -403l5 19 -10 3 -27-11 -23 0 6-11 3-5 -36-14 -30-2 -25-15 29-1 21 6 34 10 26 10 27 11M247 -416l31 0 34-3 -5-8 -27-10 -27 0 -15 5 9 16M342 -454l22-2 -1-9 19-10 3-4 -45-2 -44 4 8 5 38 18M211 -431l20 7 16-5 -10-10 -21-4 -5 12M326 -444l45 0 -8-7 -39-3 2 10M227 -449l49 2 -8-5 -44 0 3 3M299 -461l25-2 -16-10 -21 1 12 11M316 -434l17 2 5-7 -24-3 2 8M559 -50l10-15 13-6 7-6 4 9 17 3 22 0 13 0 9 12 18 16 22 3 11 9 6 16 8 15 22 10 25 1 15 13 11 7 -2 19 -12 15 -13 13 -4 24 -9 16 -8 16 -17 3 -25 15 -7 16 -16 15 -20 19 -14 9 -14 3 -1 6 -7 11 -25 5 -7 11 -14 1 -3 9 -12 16 -16 9 2 9 -20 15 -10 10 0 5 3 11 -11 3 -12-3 -6-11 4-18 12-18 16-22 10-15 9-22 12-15 11-19 7-24 10-19 7-31 0-10 -9-9 -17-18 -7-16 -9-25 -8-12 5-12 2-6 -4-10 4-9 3-6 5-7 5-9 0-15 -1-10M894 -222l-2 30 2 9 -11 11 -3 23 -6 19 6 12 4 19 -3 8 6 13 11 10 11 12 13 13 21 15 19-4 16 1 5-3M-983 -34l11-5 16 4 8 8 11-1 6 6 -2 16 -1 12 13 17 5 14 7 16 4 16 -5 21 2 15 14 22 9 13 12 27 11 10 18 21 8 14 10 4 11-5 17-1 9-8 5-13 5-12 -3-16 11-12 -4-13 -5-12 8-12 13-10 4-12 -4-22 -7-18 -4-10 2-12 8-16 13-15 14-13 12-12 9-18 10-19 2-8 -13 4 -22 4 -8-7 -2-12 -7-7 -8-7 -3-14 -3-18 0-6 -5-12 -2-13 -2-13 0-11 2-8 -5-3 -13 4 -18-5 -13-6 -12 3 -8 11 -16-4 -10-10 -7-3 -6-2 10-14 7-7 -6-2 -14 2 -22 1 -19 6M925 -222l-7 4 -16 0 -8-4M-710 74l9 22 -3 12 -2 19 -1 22 -8 9 -9-3 -8-19 3-12 -5-19 9-7 8-11 7-13M848 -266l16 24 11 13 12 0 9 6 2-5 13 0 1-9 -2-8M-910 -245l12-9 16-6 6-8 8-1 8 2 8-4 13-3 -2 8 3 9 9 9 -7 12 6-3 6-5 1-6 9 1 -4-5 0-6 -7-4 -1-10 6-7 8-1 1 2 0 8 5 6 5 7 -8 9 1 6 -1 9 0 9 8-6 3-7 4 2 2-13 9-3 10 0 0 4 -4 4 -2 9 1 8 11 3 10 1 12-4 7 2 -6 9 -8 12 -8 10 -2 1 -1 11 -5 9 4 4 3 15 5 9 0 13 6 12 3 13 4 12 1 15 9 2 17-8 17-7 8-4 16-10 10-7 8-8 5-7 9-10 -6-7 -9-7 1-8 -5 4 -10 8 -13 0 2-10 -5 6 -1-8 -2-6 -3-9 0-8 8-1 4 5 3 8 11 8 13-3 4 9 20 3 17-1 10 0 3 5 5 8 8 4 -6 0 6 11 12-3 -1 14 0 16 5 15 2 9 4 16 4 11 6-4 8-9 3-10 5-22 8-6 6-5 12-11 12-7 4-8 11-2 8-5 7 2 2 11 7 10 -1 18 7 1 11-4 4 21 -1 19 -3 11 9 11 2 15 6 8 11 9 3-1 -3-16 -2-10 -6-3 -8-10 -2-10 -4-7 6-14 3-5 6 5 4 5 2 6 8 3 2 9 10-8 12-7 3-13 -1-12 -11-12 -4-10 6-8 8-8 9 1 4 7 3-7 11-5 9-2 11-3 9-9 9-9 7-13 9-12 -1-6 1-8 -4-8 -4-9 8-7 11-5 -5-3 -10 1 -2-5 -3-6 5-2 13-9 6 2 -7 9 7-5 9 0 3 8 5 7 -4 15 6 2 10-4 3-10 -4-11 -3-6 13-8 7-8 7-6 7 3 11-7 12-10 19-18 3-15 6-7 -1-6 -15-5 1-2 22-24 12-5 20 1 13-2 14 2 7-4 8-9 13-1 16-3 -9 18 -22 9 -9 15 0 23 10-10 8-9 11-11 7-11 6-10 9-4 17 3 12-9 17-5 9 0 -6-12 14-5 13 2 14 4 2-6 9-3 -18-5 -24-9 -16-6 -21-1 -18 2 -20 0 -3-6 -19-1 -19-2 -18-4 -18-1 -10 5 -19 0 -13 2 -2-7 -7-5 -16 2 -14-2 -18-1 -10-2 12-7 -17-9 -22 4 -10 4 -18-1 -23 4 -10 5 -3 5 -20-2 -9 5 -15 0 -6-2 -17 9 -11 13 -12-1 -2-9 -33 8 -23 2 -12 0 -28 0 -5 1 -15 5 -18 9 -23 9 -7-2 10-8 -2-6 13 1 26-5 -5-5 -16-4 -12-3 -8-5 -27 5 -31 8 -19 8 -14 8 -19 8 -24 8 -18 6 -18 14 -2 6 9 0 21-8 0 2 -7 9 -5 8 1 4 13-4 11-8 7-6 15-5 4-6 4-6 8-5 13-6 16-5 14-7 9 0 -2 4 -8 4 -19 7 -17 11 0 6 17-3 14 2 -11 4 -19 1 -7 4 -4 6 -16 3 -9 8 -15 7 -9-2 -18 5 -8-2 -8 2 1-5 13-9 10-8 -13 3 -13 10 -8 9 -10 2 -12 3 -12 8 -14 4 -8 5 -11 4M857 -306l-7-1 3 6 -12 2 17 7 13 7 8 10 3 6 -11 0 -21-2 -2 5M-757 -255l10 0 16-5 8 0 4 4 6 3 11-1 9-3 5-7 -5-5 -5-6 -2-5 -3 0 -9 3 -9 2 -1-6 8-4 -5-3 -5 0 -9 6 -4 3 -8 5 -9 8 -4 6 1 5M-634 -288l9-3 9 2 -5 9 -12 5 -7 9 6 6 -5 9 1 9 -5 10 -17 4 -6-4 0-7 9-10 4-1 -4-9 0-7 5-9 2-7 16-6M-261 -194l6-1 6-15 8 3 8-1 3-6 7 1 2-2 9-1 6-2 5-4 2-10 4-7 3-6 -1-10 -6 0 -3 7 -2 8 -7 6 -9 5 -1-2 -5 8 -3 3 -13 0 -9 6 -4 3 -6 5 1 8 -1 4M-200 -257l5-1 11-2 13-8 -4-4 -11-9 -2 2 -3 10 -5 1 -3 5 -1 6M-185 -285l8-3 0-15 7 0 -4-15 4-16 -2 0 -6 10 -1 9 -4 18 -2 12M-320 -140l3 4 7-16 -1-5 -6 5 -3 12M-384 -115l7 2 6-9 -4-3 -7 2 -2 8M-546 -50l2 13 8-8 -5-14 -4-1 -1 10M-463 -34l12 2 14 16 18 19 6 9 8 7 1 17 -8 1 -13-12 -8-13 -10-15 -7-11 -9-10 -4-10M-408 42l4-5 14 3 11 2 11 1 11 5 -1 6 -18-3 -17-3 -14-5 -1-1M-388 -9l3-3 8 2 11-9 8-10 6-4 8-10 12 10 -7 6 -1 16 6 5 -8 5 -5 10 0 11 -9 5 -10-5 -7 0 -9-2 -1-9 -5-6 0-12M-331 35l1-13 -4-10 5-12 2-5 14-1 11-3 -10 7 -14-1 5 9 11 0 -10 5 8 16 -6 4 -6-14 -2 18 -5 0M-268 8l8-6 9 4 5 14 14-11 16 7 22 8 7 9 10 6 1 11 12 14 -10-1 -11-13 -11-2 -4 8 -13 0 -11-6 -5 2 -3-4 6-5 -4-10 -15-6 -9-3 -3 1 -5-7 -6-10M-320 -115l9 0 -2 10 -4 7 1 10 12 7 -8-4 -10-3 2-8 -5-5 3-7 2-7M-317 -43l9-5 11-13 6 16 -4 6 -3 4 -8-5 -11-3M-316 -65l11-6 9-7 -4 16 -11 3 -5-6M-305 63l17-11 -12 5 -5 6M-356 136l2 19 11 25 4 18 3 15 16 5 9-7 18-1 12-10 15-4 12-1 16 7 9 14 1-8 8-6 0 12 6 0 -2 7 9 4 6 11 16 4 14 2 7-8 11-2 0-12 4-12 6-10 2-12 1-12 -3-14 -4-8 -9-12 -7-2 -6-12 -12-9 -3-12 -3-12 -9-4 -2-10 -6-13 -5 14 1 16 -5 12 -8-1 -12-8 -8-7 6-16 -7-2 -16-3 -6 5 -7 5 -3 11 -11-5 -8 1 -5 8 -7 9 -7 8 -5 8 -12 5 -12 2 -9 7 -6 1M-177 252l18 1 1 8 -5 8 -9-6 -5-11M-38 214l9 7 8 8 13 5 -5 10 -3 1 -7 13 -4-2 2-9 -6-4 4-7 -1-10 -10-12M-37 251l9 7 -6 8 -2 5 -7 4 -3 9 -7 4 -13-3 1-5 7-8 11-6 5-7 5-8M828 -309l9-3 11-3M-848 -315l7-1 12-9 -2-4 1-2M830 -331l-7-4 -12-7 -6-3 -7-1 -3-7 -13-6 -7 0 8 9 7 6 9 4 10 2 2 4 10 6 -9 0 8 4 -1 5 11 2 -2 8M813 -322l-12-11 -3-3 -11-4 -2 3 -3 3 4 4 7 9 6 3 7-1 7-3M660 -391l-15-7 2-5 22 1 13 3 9 3 0 5 -9 5 -19-2 -3-3M-589 -463l0 7 6 2 20-4 32-6 -6-6 -15-1 -27 4 -10 4M-491 -428l17 3 5-12 25-11 39-7 4 1 -37 7 -25 10 -9 1 -19 8M-290 -465l23 4 13-6 -14-6 -19 1 -3 7M-449 -470l27-2 26-1 -8-3 -31 3 -14 3M-157 -449l15 7 24-5 -6-3 -21-1 -12 2M-6 -427l10 1 8-3 -12-1 -6 3M509 -136l12-7 13 0 15 8 19 10 -18 2 -4-6 -18-6 -19-1M569 -115l7-8 16 1 10 7 -9 2 -8 4 -16-6M584 -294l7-12 -6-12 20 12 9 12 -8 5 -22-5M-173 34l9-2 8-6 4 2 -6 6 -6 4 -9-2 0-2M-111 58l6 2 0 1 -6 0 0-3M-106 52l5 5 -1 2 -4-4 0-3M-85 125l10 8 5 5 -2 0 -11-9 -2-4M-15 108l7-1 0 6 -7-1 0-4M130 -118l4-2 0-3 -5-2 0 3 1 4M117 -132l3 0 -2-3 -1 1 0 2M-328 53l17-2 -1 3 -15 1 -1-2M-345 53l12-2 0 3 -10 2 -2-3M-358 51l7 1 5 0 0 3 -11-1 -1-3M-287 -11l5 2 -3 6 5 3 -5 4 -3-7 1-8M-284 20l15 1 -2 3 -12-2 -1-2M-295 19l6 1 -2 4 -4-2 0-3M-73 92l4 2 -1 5 -3-3 0-4M559 317l14 0 -6 5 -8-1 0-4M-705 423l38 0 38-1 36-3 16-3 17-2 14-6 14-5 20-1 25 5 22 1 25 6 14 7 11-2 7-5 9-8 23-3 28 0 19-3 21 2 20-2 22 3 21 0 20-1 20 0 20 0 22 3 21 3 22 6 21 2 20 6 13 2 12 5 15 0 3 5 -9 8 -13 7 -6 7 8 4 10 1 11 0 35 1 35 1 35-2 8-4 22-1 28-7 39-5 39-3 36 2 36 1 23-5 21-2 19-1 36 2 25-6 17 2 19-18 2 6 20-16 22-11 38-9 -14 6 -17 8 -14 11 -7 11 -18 15 -15 10 0 4 -7 5 30 4 34 1 22-3 30-7 35-9 34-5 35-8 33-3 24-3" fill="none" stroke="#000" stroke-width="9" stroke-linejoin="round"/>
</g>
<path d="M244,234.5 246.4,233.8 249,232.9 252,231.8 255.1,230.5 258.1,229.1 260.9,227.5 263.5,226 266,224.3 268.3,222.6 270.6,220.9 272.8,219.2 274.9,217.4 276.9,215.6 278.6,213.7 280.3,211.9 281.8,210 283.2,208.1 284.4,206.3 285.5,204.4 286.4,202.5 287.2,200.6 287.8,198.7 288.4,196.8 288.8,194.9 289.3,193 289.6,191.1 289.8,189.2 290,187.3 290.1,185.4 290.1,183.6 290,181.7 289.8,179.8 289.6,177.9 289.3,176 288.8,174.1 288.4,172.2 287.8,170.3 287.2,168.4 286.4,166.5 285.5,164.6 284.4,162.7 283.2,160.9 281.8,159 280.3,157.1 278.6,155.3 276.9,153.4 274.9,151.6 272.8,149.8 270.6,148.1 268.3,146.4 266,144.7 263.5,143 260.9,141.5 258.1,139.9 255.1,138.5 252,137.2 249,136.1 246.4,135.2 244,134.5 139.2,134.5 136.8,135.2 134.2,136.1 131.2,137.2 128.1,138.5 125.1,139.9 122.3,141.5 119.7,143 117.2,144.7 114.9,146.4 112.6,148.1 110.4,149.8 108.3,151.6 106.3,153.4 104.6,155.3 102.9,157.1 101.4,159 100,160.9 98.8,162.7 97.7,164.6 96.8,166.5 96,168.4 95.4,170.3 94.8,172.2 94.4,174.1 93.9,176 93.6,177.9 93.4,179.8 93.2,181.7 93.1,183.6 93.1,185.4 93.2,187.3 93.4,189.2 93.6,191.1 93.9,193 94.4,194.9 94.8,196.8 95.4,198.7 96,200.6 96.8,202.5 97.7,204.4 98.8,206.3 100,208.1 101.4,210 102.9,211.9 104.6,213.7 106.3,215.6 108.3,217.4 110.4,219.2 112.6,220.9 114.9,222.6 117.2,224.3 119.7,226 122.3,227.5 125.1,229.1 128.1,230.5 131.2,231.8 134.2,232.9 136.8,233.8 139.2,234.5Z" fill="none" stroke="#000" stroke-width="0.9"/>
<g clip-path="url(#c02)">
<g transform="scale(0.1)" fill-rule="evenodd"><path fill="#fff1dd" d="M1025 2386l148 0 0 152 -8 32 -16 8 -17-6 -20-28 -29-18 -21-32 -28-18 -9-23zM1395 2386l28 0 -1 50 -11 18 -8 1 -9-11zM2552 2386l394 0 0 136 -66 1 -24 9 -18 29 -31 25 -17 33 -34 25 -1 17 3 9 16 13 27 11 9 9 8 17 -5 41 -15 25 -82 25 -41 23 -33 8 -24 0 -49-16 -17-20 -21-45 -12-6 -123-3 -16 4 -17 22 -16 12 -66 10 -33 28 -41 18 -49 6 -74 1 -106-10 -41-12 -22-20 -25-50 -19-7 -181-7 -49 11 -25 28 -16 7 -99 12 -65 1 -41-1 -25-7 -32-20 -15-25 -6-25 0-17 11-17 18-10 32-11 25-2 98 11 148-2 15-10 12-26 14-12 50-18 41-31 69-22 29-22 16-4 91-1 16 4 33 24 58 24 27 25 38 20 44 39 55 16 24 15 8 1 5-8 20-48 25-13 49-3 16 11 17 21 16 4 8-5 9-16 22-101 22-50 13-16 25-15 5-10 3-67zM894 2476l58 1 22 9 19 29 31 21 18 29 31 21 26 36 50 14 57 3 16 11 7 20 -15 45 -41 55 -16 11 -33 10 -25 1 -16-6 -21-25 -42-25 -10-25 -2-50 -32-25 -16-26 -17-9 -57-1 0-124zM1641 2480l8 0 7 14 -7 17 -8 0 -6-8 0-9zM1543 2606l8-1 0 13 -8 1zM2683 2911l58-5 205 2 0 218 -172-1 -58 17 -11 11 -4 17 2 24 8 17 14 9 32 4 25-2 25-28 24-11 115-1 0 296 -402 0 -1-58 -7-19 -50-16 -49-5 -33-35 -16-4 -25 6 -29 31 -28 4 -837 0 -28-4 -38-26 -49-1 -17 5 -54 38 -7 26 0 58 -390 0 0-189 57-1 25-5 8-6 22-33 27-17 25-44 43-22 -7-8 -70-17 -130-2 0-176 82 1 49 5 22 14 19 32 41 29 25-23 25-14 24-33 25-9 82-4 279 3 16 8 11 11 10 33 0 33 -20 50 0 26 16 16 57 13 49-17 12-12 3-26 -15-50 4-41 13-25 25-13 106-9 640 2 25 9 15 19 5 17 5 73 24-12 58-9 8-7 6-20 3-75 5-17 19-19zM1790 3136l-9 5 -9 12 0 41 9 21 8 6 16 0 41-28 11-15 2-17 -13-17 -33-8z"/><path fill="#e2f3fb" d="M894 2386l115 0 4 92 12 15 28 18 22 32 24 15 15 20 18 11 17 1 16-6 14-23 2-175 193 0 2 67 11 21 24 4 49-14 132 1 16 6 6 7 11 35 16 13 19-6 14-37 8-12 25-6 41 6 24 15 16 34 19 24 -2 9 -10 8 -47 32 -29 18 -37 15 -10 10 -15 28 -16 9 -57-2 -41-9 -50 3 -90-5 -66 11 -55 32 -6 17 -4 42 -9 11 -16 4 -8-4 -8-12 13-83 -1-17 -11-17 -26-14 -57-6 -38-13 -21-33 -32-22 -17-28 -32-22 -18-28 -15-11 -24-5 -66-1 0-75zM1532 2594l-7 17 1 19 8 13 9 3 8-2 14-16 2-25 -8-12 -8-3zM2117 2386l144 0 1 58 5 17 54 50 59 17 49-6 16 6 10 16 1 26 -7 50 -12 24 -8 1 -33-26 -24-4 -58 17 -13 12 -20 30 -49-1 -26-12 -40-34 -37-24 -28-28 -91-50 -24-8 -49 7 -16-4 -9-9 -3-8 3-14 16-15 25-2 41 7 33-7 57-4 17-6 11-18 1-58zM2872 2535l74-3 0 118 -66 3 -24 33 -17 9 -16-2 -49-20 -10-12 4-17 25-16 22-37 24-16 20-31zM1600 3068l25-7 57 4 21 21 3 25 -16 16 -41 12 -57-11 -9-8 -3-17 5-17zM2766 3135l180 4 0 33 -115 1 -24 9 -33 27 -17 2 -24-4 -8-4 -9-15 -2-27 5-8 14-8zM894 3139l115 2 25 7 16 13 -28 59 -29 19 -25 35 -25 8 -57 0 0-143zM1797 3142l33 6 12 5 5 8 -1 10 -8 10 -33 22 -8 2 -12-11 -7-24 3-17z"/><path fill="#ffdcb0" d="M1042 2386l123 0 -1 150 -7 26 -8 2 -9-3 -18-25 -31-21 -18-29 -31-21 -6-21 -1-41 0-17zM2569 2386l377 0 0 122 -66 1 -32 10 -24 34 -26 21 -15 37 -34 27 -4 15 4 17 17 17 26 16 7 17 -11 41 -31 23 -115 33 -16 1 -57-27 -25-41 -16-10 -140-6 -25 7 -32 27 -33 2 -17 7 -82 51 -49 9 -66 0 -57-7 -49-13 -50-27 -24-40 -9-7 -16-4 -189-14 -65 19 -31 26 -27 8 -66 13 -90 0 -24-3 -18-10 -12-17 -15-41 4-17 9-9 40-14 131 18 131-12 13-8 10-25 10-12 58-17 41-32 76-14 63-24 50-4 16 3 33 23 57 22 30 22 36 15 33 35 70 24 28 38 17 3 9-15 11-59 17-17 28-4 25 3 22 27 14 8 13 1 17-9 47-126 17-33 10-12 24-13 12-16zM2582 2586l-12 8 -3 9 3 8 15 6 41 0 16-6 4-8 -1-9 -11-8 -24-3zM894 2488l49 1 20 5 21 32 29 18 21 32 28 18 29 38 49 15 50 0 19 6 6 8 -1 11 -29 56 -20 18 -58 20 -71-38 -11-25 0-51 -8-13 -30-19 -14-26 -21-11 -66-1 0-94zM2683 2926l58-6 205 2 0 191 -172 2 -66 22 -16 16 -6 25 4 25 11 17 24 10 41 6 24-4 25-30 16-9 115-1 0 286 -378 0 -1-75 -15-24 -66-32 -57-16 -33-4 -24 2 -58 15 -172-1 -58-10 -65-1 -74 11 -148 5 -82-4 -74 5 -140 0 -98-16 -57 0 -50 10 -41 3 -16 7 -7 8 -5 25 -1 92 -340 0 0-181 66-1 24-7 26-36 32-22 20-37 53-15 12-9 2-9 -5-12 -17-9 -98-10 -115 0 0-158 82 1 49 9 13 12 14 26 22 18 20 23 13 7 12-7 21-33 25-14 24-32 17-8 65-4 288 2 24 14 8 25 1 42 -15 50 3 25 12 13 49 20 16 2 49-21 16-14 6-25 -9-59 7-33 13-22 33-12 90-7 632 2 17 6 12 16 4 59 -7 50 3 8 13 6 12-6 16-25 13-9 49-7 18-9 10-33 5-75 10-17zM1775 3136l-10 17 -3 17 1 33 9 23 17 9 16 0 41-17 13-15 8-25 1-17 -9-17 -16-8 -38-7 -16 0zM1287 3220l-36 33 4 11 25 5 25-8 6-17 -2-24 -5-7 -8-2z"/><path fill="#bcdcf8" d="M1190 2386l167 0 4 84 10 16 16 9 16 1 57-14 124 1 16 5 21 40 20 10 16-3 10-7 23-39 25-3 25 8 12 9 18 33 2 17 -16 20 -82 47 -25 39 -8 5 -38-3 -20-8 -7-59 -9-11 -16-7 -17 4 -9 6 -10 17 -6 25 -16 13 -115 3 -41 7 -33 14 -16 1 -66-39 -55-16 -3-8 19-25 6-25zM2166 2386l45 0 1 58 11 26 47 41 69 35 17 15 2 25 -10 17 -42 21 -49 39 -17 2 -16-4 -99-81 -33-44 -58-25 -1-8 10-5 66-7 25-9 16-11 10-18 3-67zM2880 2544l66-2 0 90 -74 3 -13 9 -15 26 -13 8 -16-1 -33-12 -5-12 29-25 17-30 25-16 18-29zM2421 2554l8-1 8 15 -2 26 -6 16 -13-7 -6-17 3-23zM1616 3077l66 5 13 12 0 17 -13 10 -33 9 -49-7 -12-12 1-17 11-13zM894 3144l107 1 24 7 8 9 -16 53 -32 22 -25 35 -17 4 -57 0 0-131zM2774 3144l33 6 7 3 0 8 -40 27 -25-1 -13-9 -4-8 2-9 11-8zM1797 3152l15 1 10 5 4 3 -2 9 -11 8 -16 3 -9-11 1-9z"/><path fill="#ffa628" d="M1058 2386l94 0 -3 138 -9 3 -33-20 -19-29 -33-25 -4-17 -1-50zM894 2503l41 0 17 5 24 35 25 15 18 28 31 22 19 28 10 8 61 20 39 6 5 8 -2 16 -9 28 -24 15 -42 4 -60-21 -9-17 6-59 -9-16 -26-17 -23-33 -18-11 -82-3 0-61zM2536 2542l8 2 5 9 -5 13 -8 5 -8-3 -3-7 3-11zM1928 2577l25-5 33 1 156 66 38 39 68 26 21 40 1 17 -14 17 -73 39 -41 8 -66-1 -49-11 -90-35 -25-37 -17-11 -155-17 -50-21 -4-6 1-25 11-13 58-15 41-30 90-10zM2725 2585l32-1 9 3 3 7 -2 9 -30 25 -5 25 12 25 27 25 9 17 -16 41 -23 17 -115 20 -49-20 -25-37 -16-11 -107-6 -49-8 -41 7 -8-9 0-38 7-15 9-4 33 1 24 27 33 5 26-12 23-36 9-7 33-2 57 10 66-3 41-15 19-31zM1378 2694l17-6 24 3 140 41 8 4 0 8 -13 17 -44 18 -115 0 -17-9 -6-9 -8-33 -1-17zM1616 2702l33-3 22 4 -2 8 -20 12 -70 5 0-8 8-9zM2692 2935l49-7 205 4 0 165 -131 1 -49 7 -58 22 -26 17 -14 17 -8 33 4 17 24 17 28 11 58 12 16-1 17-8 23-31 9-4 107-1 0 272 -291 0 -1-108 -7-17 -13-6 -106-6 -58-26 -25-21 -16-6 -41 21 -57 10 -189-1 -16-7 -5-8 1-9 22-24 -3-17 -24-8 -74-1 -90 1 -25 7 -5 9 2 9 28 21 4 12 -5 8 -24 8 -82 2 -49 9 -57-9 -33-1 -50 10 -41 2 -123-1 -98-16 -140 5 -65 29 -25 26 -29 19 -8 26 0 58 -242 0 0-169 74-1 24-9 29-38 29-19 17-31 13-8 52-11 8-6 8-16 -4-17 -6-9 -14-10 -17-5 -41 2 -57-6 -115 0 0-143 82 1 41 9 8 6 25 37 34 35 23 12 17-8 21-38 29-16 24-31 16-6 66-5 279 3 18 13 6 26 1 33 -14 58 5 30 8 9 50 24 24 5 17-5 41-24 13-14 7-25 -6-58 9-33 18-23 33-13 73-6 624 1 17 5 8 8 7 19 0 50 -16 50 1 16 24 4 25-7 19-30 11-8 52-9 16-8 8-16 7-33 8-67 10-12zM1773 3128l-14 16 -6 26 -3 41 9 25 13 10 25 5 33-4 33-11 12-16 3-17 -1-42 -8-17 -15-10 -49-12 -16-1zM2474 3153l4 3 3-3 -3-5zM1267 3194l-9 17 -34 33 -3 17 3 9 15 16 16 7 33 3 25-5 15-13 7-17 -2-50 -12-14 -17-7 -24-1z"/><path fill="#64b3f3" d="M1206 2386l119 0 1 117 7 17 13 9 32 3 25-3 33-22 16-6 123 0 17 6 24 38 25 7 25-9 28-32 13-4 10 4 23 21 8 21 -17 17 -63 33 -27 41 -8 3 -11-3 -20-16 -18-50 -17-14 -16-2 -25 9 -33 43 -8 4 -82 3 -57 10 -74 1 -25-4 -49-24 -5-10 8-41 2-167zM2175 2494l8-4 16 4 25 21 62 29 19 17 4 25 -6 17 -55 45 -8 3 -16-7 -91-83 -2-17 3-8zM2880 2561l17-5 49 0 0 58 -82 3 -19 11 -15 25 -15 3 -4-3 20-39 27-20zM1608 3091l49 0 13 3 8 9 -5 8 -16 7 -32 1 -25-8 0-14zM894 3151l115 3 10 7 3 9 -9 33 -5 8 -27 17 -21 31 -8 5 -66 3 0-116z"/><path fill="#fb8600" d="M1961 2594l33 4 40 22 108 30 33 35 47 18 18 11 15 30 -2 17 -13 12 -41 21 -41 14 -24 5 -50-1 -129-42 -13-9 -26-33 -21-13 -57-5 -121-40 -1-9 40-13 41-24 98-5 42-21zM2593 2669l90-4 25 3 17 7 32 36 1 17 -7 25 -10 12 -16 7 -42 9 -57 4 -37-15 -29-39 -16-13 -16-7 -61-8 28-18zM1075 2684l81 2 9 8 0 17 -8 9 -17 4 -68-13 -12-8 -1-9zM1387 2702l16-4 16 4 33 20 58 15 10 7 3 9 -5 9 -25 9 -94-1 -13-9 -6-17 -3-24zM2741 2936l205 6 0 140 -115 0 -57 7 -105 47 -20 17 -32 41 -3 17 4 9 24 16 91 25 6 9 -14 10 -50 5 -27 26 -14 6 -82 3 -33-8 -55-51 -6-25 4-28 8-9 26-13 16-33 7-7 33-14 25-35 70-19 10-17 13-50 7-50 19-17zM1255 2986l263 0 33 4 8 6 8 15 3 42 -19 78 -17 22 -2 17 19 11 41 4 49 14 57-14 17 1 3 58 -7 26 -62 42 -156 0 -41-27 -49-5 -16-6 -9-13 -5-41 -8-17 -29-17 -48-15 -20-27 -13-7 -16 0 -12 7 -10 17 4 33 -4 17 -19 16 -17 3 -8-69 -66-46 -49 9 -172-4 0-128 74 0 41 10 49 61 49 35 17-8 25-46 32-20 25-28zM1438 3203l-6 8 4 10 16 5 10-6 3-9 -4-8 -9-3zM1541 3236l-10 8 -4 17 4 9 12 9 49 2 16-7 7-13 -3-17 -12-9 -33-3zM1846 2986l624 0 16 4 13 13 4 50 -7 25 -10 14 -32 37 -17 11 -16 2 -41-6 -82 14 -107 2 -16 9 0 10 16 9 181 2 24 8 8 13 -4 17 -28 19 -20 31 -13 9 -140 2 -16-7 -17-38 -24-14 -189-3 -25-4 -12-12 -43-67 -19-10 -49-13 -24 0 -17 10 -21 21 -12 24 -2-7 6-41 -4-67 9-23 26-27 15-8zM1099 3236l74-3 3 45 -36 12 -24 35 -30 19 -20 31 -29 19 -7 26 0 58 -144 0 0-96 57 0 25-8 19-30 30-19 20-31 29-19 20-31zM1181 3285l25 8 6 10 -4 8 -20 0 -6-8zM1789 3289l16 5 -1 9 -15 4 -8-4 0-9z"/><path fill="#2196f2" d="M1239 2541l16-4 8 4 9 12 2 41 -11 13 -16 1 -16-14 -2-33zM1485 2542l16-4 10 6 -4 17 -14 10 -8-1 -6-9 -1-8zM2183 2540l16-2 50 15 10 17 1 16 -3 17 -9 12 -16 4 -54-49 -6-17zM1690 2551l8-4 6 6 -6 8 -8 1zM1337 2594l17-5 8 5 -1 9 -15 4 -9-4zM894 3162l99 2 10 6 1 16 -8 17 -26 17 -26 33 -58 2 0-93z"/><path fill="#e64b1e" d="M1994 2636l116 17 24 7 32 33 53 27 15 16 3 17 -15 17 -23 12 -74 15 -49-4 -93-32 -55-50 -9-25 34-12 20-30zM1797 2649l33-4 65 3 12 5 5 8 2 17 -35 3 -45-3 -45-15 1-10zM2610 2686l73-3 39 11 11 10 5 16 -5 30 -14 11 -27 9 -50 5 -27-5 -18-17 -27-42 1-8 6-5zM1403 2719l36 25 5 9 -25 3 -16-3 -7-17zM2741 2944l82 1 57 8 66 1 0 111 -115 1 -74 14 -49 19 -86 45 -41 34 -29 3 -16-6 -1-14 27-17 23-35 16-8 50-11 8-7 27-72 12-50 18-12zM1255 2994l279 1 17 6 6 10 5 50 -19 49 -9 9 -45 17 -29 29 -57 14 -99-21 -24-30 -17-9 -24-1 -58 14 -24-2 -21-10 -9-17 22-53 32-21 25-24zM1846 2994l617 0 25 9 6 17 1 24 -9 29 -41 35 -16 7 -33-14 -16-2 -42 21 -49 11 -98 2 -66 17 -188-1 -33-6 -33-19 -44-13 -30-15 -16-1 -25 9 -8-8 -2-43 28-33 26-17zM894 3004l66 2 33 13 24 20 19 31 33 24 4 9 -5 8 -18 4 -164-2 0-109zM2569 3242l8-3 16 7 6 15 -6 11 -16 4 -11-6 -4-17z"/><path fill="#b21c1c" d="M2035 2685l33-3 57 3 41 28 33 16 14 15 0 9 -14 17 -49 10 -58 1 -40-11 -30-17 -7-17 3-33zM2626 2703l41-3 25 7 9 13 -2 24 -8 9 -24 5 -25 1 -16-5 -8-10 -6-24 2-9zM2725 2960l24-4 74 2 14 3 43 21 66 1 0 48 -107 1 -16 5 -41 23 -90 14 -8-13 2-8 14-26 10-49zM1239 3010l41-4 254 2 9 4 8 13 2 36 -10 22 -9 7 -16 3 -296 1 -24 1 -33 13 -15-5 -2-17 9-25 49-37zM1830 3010l164-5 460 2 16 2 8 7 4 28 -4 15 -8 9 -33 19 -16 0 -41-13 -91 39 -98 3 -66 16 -180 0 -27-4 -80-26 -57-40 -2-9 10-14zM894 3033l58 1 41 10 16 14 18 36 -26 7 -115 1 0-69z"/><path fill="#8b0a0a" d="M2092 2734l50 1 28 9 8 9 -22 8 -66 0 -14-8 -1-9zM2741 2985l41 1 11 8 2 17 -5 9 -16 9 -39-1 -8-8 -2-17 8-13zM1961 3027l33-5 82 0 74 11 172 1 17 2 10 8 1 9 -11 12 -45 13 -103 5 -16 5 -33 23 -41 4 -164-3 -38-26 -53-8 -18-17 3-17 15-9 82-2zM1247 3035l271-1 16 6 5 13 -5 10 -24 6 -279 0 -25-3 -10-5 4-8 14-8zM2421 3043l16-4 9 5 0 9 -9 8 -10 0 -8-8z"/><path fill="#570000" d="M1986 3049l24-4 66 1 24 7 5 8 -4 11 -17 8 -82 1 -16-3 -11-8 -1-9z"/></g>
<path transform="translate(191.6,293.2) scale(0.1)" d="M56 -414l11-9 24-5 18 2 28 4 17 2 21 4 22-6 24 3 30 3 31 5 18-3 31 4 7-6 22 2 16-5 25 16 -10 3 -2 8 -10 11 0 19 14 12 24 6 29 6 11 14 15 6 -9-17 4-12 -15-12 -6-11 -11-11 18 1 23 7 12 13 15-4 0-5 31 22 26 12 18 11 -6 12 -22 2 -11 5 15 5 7 12 21 6 -21 7 -18 4 4 12 -14 8 -2 12 1 10 7 11 -7 4 -8 8 -7 11 8 18 6 16 -4 5 -11-14 -6-13 -11-2 -16-3 -7 7 -8-1 -16-2 -13 12 0 17 1 17 12 20 9 5 16-2 3-15 16-3 2 18 -3 16 13 0 12 6 4 19 1 9 10 9 13-3 11 6 1 3 -3 5 -11-1 -3-5 -14 0 -15-11 -1-7 -11-12 -19-5 -18-13 -13 2 -20-8 -20-8 -12-11 0-11 -8-11 -15-14 -13-14 -13-19 -11-4 7 11 9 9 7 13 7 12 5 10 -14-13 -12-19 -12-14 -10-14 -9-9 -11-4 -9-12 -8-9 -6-11 -6-13 -5-26 -8-13 7-4 -11-6 -14-6 -5-9 -15-11 -16-15 -16-9 -20-7 -18-1 -16-3 -16 7 -8 13 -17 6 -18 6 -11 3 19-12 10-12 -20 0 -13-11 -5-8 4-7 13-7 -21-1 -8-5 15-5 -9-11M376 -461l2-11 17-5 42-4 45-2 45 6 33 12 29 18 17 15 7 10 -12 9 -5 13 -14 5 17 28 -28-6 -29-17 -25-16 -22-16 -32-20 -35-9 -22 0 -30-10M483 -403l5 19 -10 3 -27-11 -23 0 6-11 3-5 -36-14 -30-2 -25-15 29-1 21 6 34 10 26 10 27 11M247 -416l31 0 34-3 -5-8 -27-10 -27 0 -15 5 9 16M342 -454l22-2 -1-9 19-10 3-4 -45-2 -44 4 8 5 38 18M211 -431l20 7 16-5 -10-10 -21-4 -5 12M326 -444l45 0 -8-7 -39-3 2 10M227 -449l49 2 -8-5 -44 0 3 3M299 -461l25-2 -16-10 -21 1 12 11M316 -434l17 2 5-7 -24-3 2 8M559 -50l10-15 13-6 7-6 4 9 17 3 22 0 13 0 9 12 18 16 22 3 11 9 6 16 8 15 22 10 25 1 15 13 11 7 -2 19 -12 15 -13 13 -4 24 -9 16 -8 16 -17 3 -25 15 -7 16 -16 15 -20 19 -14 9 -14 3 -1 6 -7 11 -25 5 -7 11 -14 1 -3 9 -12 16 -16 9 2 9 -20 15 -10 10 0 5 3 11 -11 3 -12-3 -6-11 4-18 12-18 16-22 10-15 9-22 12-15 11-19 7-24 10-19 7-31 0-10 -9-9 -17-18 -7-16 -9-25 -8-12 5-12 2-6 -4-10 4-9 3-6 5-7 5-9 0-15 -1-10M894 -222l-2 30 2 9 -11 11 -3 23 -6 19 6 12 4 19 -3 8 6 13 11 10 11 12 13 13 21 15 19-4 16 1 5-3M-983 -34l11-5 16 4 8 8 11-1 6 6 -2 16 -1 12 13 17 5 14 7 16 4 16 -5 21 2 15 14 22 9 13 12 27 11 10 18 21 8 14 10 4 11-5 17-1 9-8 5-13 5-12 -3-16 11-12 -4-13 -5-12 8-12 13-10 4-12 -4-22 -7-18 -4-10 2-12 8-16 13-15 14-13 12-12 9-18 10-19 2-8 -13 4 -22 4 -8-7 -2-12 -7-7 -8-7 -3-14 -3-18 0-6 -5-12 -2-13 -2-13 0-11 2-8 -5-3 -13 4 -18-5 -13-6 -12 3 -8 11 -16-4 -10-10 -7-3 -6-2 10-14 7-7 -6-2 -14 2 -22 1 -19 6M925 -222l-7 4 -16 0 -8-4M-710 74l9 22 -3 12 -2 19 -1 22 -8 9 -9-3 -8-19 3-12 -5-19 9-7 8-11 7-13M848 -266l16 24 11 13 12 0 9 6 2-5 13 0 1-9 -2-8M-910 -245l12-9 16-6 6-8 8-1 8 2 8-4 13-3 -2 8 3 9 9 9 -7 12 6-3 6-5 1-6 9 1 -4-5 0-6 -7-4 -1-10 6-7 8-1 1 2 0 8 5 6 5 7 -8 9 1 6 -1 9 0 9 8-6 3-7 4 2 2-13 9-3 10 0 0 4 -4 4 -2 9 1 8 11 3 10 1 12-4 7 2 -6 9 -8 12 -8 10 -2 1 -1 11 -5 9 4 4 3 15 5 9 0 13 6 12 3 13 4 12 1 15 9 2 17-8 17-7 8-4 16-10 10-7 8-8 5-7 9-10 -6-7 -9-7 1-8 -5 4 -10 8 -13 0 2-10 -5 6 -1-8 -2-6 -3-9 0-8 8-1 4 5 3 8 11 8 13-3 4 9 20 3 17-1 10 0 3 5 5 8 8 4 -6 0 6 11 12-3 -1 14 0 16 5 15 2 9 4 16 4 11 6-4 8-9 3-10 5-22 8-6 6-5 12-11 12-7 4-8 11-2 8-5 7 2 2 11 7 10 -1 18 7 1 11-4 4 21 -1 19 -3 11 9 11 2 15 6 8 11 9 3-1 -3-16 -2-10 -6-3 -8-10 -2-10 -4-7 6-14 3-5 6 5 4 5 2 6 8 3 2 9 10-8 12-7 3-13 -1-12 -11-12 -4-10 6-8 8-8 9 1 4 7 3-7 11-5 9-2 11-3 9-9 9-9 7-13 9-12 -1-6 1-8 -4-8 -4-9 8-7 11-5 -5-3 -10 1 -2-5 -3-6 5-2 13-9 6 2 -7 9 7-5 9 0 3 8 5 7 -4 15 6 2 10-4 3-10 -4-11 -3-6 13-8 7-8 7-6 7 3 11-7 12-10 19-18 3-15 6-7 -1-6 -15-5 1-2 22-24 12-5 20 1 13-2 14 2 7-4 8-9 13-1 16-3 -9 18 -22 9 -9 15 0 23 10-10 8-9 11-11 7-11 6-10 9-4 17 3 12-9 17-5 9 0 -6-12 14-5 13 2 14 4 2-6 9-3 -18-5 -24-9 -16-6 -21-1 -18 2 -20 0 -3-6 -19-1 -19-2 -18-4 -18-1 -10 5 -19 0 -13 2 -2-7 -7-5 -16 2 -14-2 -18-1 -10-2 12-7 -17-9 -22 4 -10 4 -18-1 -23 4 -10 5 -3 5 -20-2 -9 5 -15 0 -6-2 -17 9 -11 13 -12-1 -2-9 -33 8 -23 2 -12 0 -28 0 -5 1 -15 5 -18 9 -23 9 -7-2 10-8 -2-6 13 1 26-5 -5-5 -16-4 -12-3 -8-5 -27 5 -31 8 -19 8 -14 8 -19 8 -24 8 -18 6 -18 14 -2 6 9 0 21-8 0 2 -7 9 -5 8 1 4 13-4 11-8 7-6 15-5 4-6 4-6 8-5 13-6 16-5 14-7 9 0 -2 4 -8 4 -19 7 -17 11 0 6 17-3 14 2 -11 4 -19 1 -7 4 -4 6 -16 3 -9 8 -15 7 -9-2 -18 5 -8-2 -8 2 1-5 13-9 10-8 -13 3 -13 10 -8 9 -10 2 -12 3 -12 8 -14 4 -8 5 -11 4M857 -306l-7-1 3 6 -12 2 17 7 13 7 8 10 3 6 -11 0 -21-2 -2 5M-757 -255l10 0 16-5 8 0 4 4 6 3 11-1 9-3 5-7 -5-5 -5-6 -2-5 -3 0 -9 3 -9 2 -1-6 8-4 -5-3 -5 0 -9 6 -4 3 -8 5 -9 8 -4 6 1 5M-634 -288l9-3 9 2 -5 9 -12 5 -7 9 6 6 -5 9 1 9 -5 10 -17 4 -6-4 0-7 9-10 4-1 -4-9 0-7 5-9 2-7 16-6M-261 -194l6-1 6-15 8 3 8-1 3-6 7 1 2-2 9-1 6-2 5-4 2-10 4-7 3-6 -1-10 -6 0 -3 7 -2 8 -7 6 -9 5 -1-2 -5 8 -3 3 -13 0 -9 6 -4 3 -6 5 1 8 -1 4M-200 -257l5-1 11-2 13-8 -4-4 -11-9 -2 2 -3 10 -5 1 -3 5 -1 6M-185 -285l8-3 0-15 7 0 -4-15 4-16 -2 0 -6 10 -1 9 -4 18 -2 12M-320 -140l3 4 7-16 -1-5 -6 5 -3 12M-384 -115l7 2 6-9 -4-3 -7 2 -2 8M-546 -50l2 13 8-8 -5-14 -4-1 -1 10M-463 -34l12 2 14 16 18 19 6 9 8 7 1 17 -8 1 -13-12 -8-13 -10-15 -7-11 -9-10 -4-10M-408 42l4-5 14 3 11 2 11 1 11 5 -1 6 -18-3 -17-3 -14-5 -1-1M-388 -9l3-3 8 2 11-9 8-10 6-4 8-10 12 10 -7 6 -1 16 6 5 -8 5 -5 10 0 11 -9 5 -10-5 -7 0 -9-2 -1-9 -5-6 0-12M-331 35l1-13 -4-10 5-12 2-5 14-1 11-3 -10 7 -14-1 5 9 11 0 -10 5 8 16 -6 4 -6-14 -2 18 -5 0M-268 8l8-6 9 4 5 14 14-11 16 7 22 8 7 9 10 6 1 11 12 14 -10-1 -11-13 -11-2 -4 8 -13 0 -11-6 -5 2 -3-4 6-5 -4-10 -15-6 -9-3 -3 1 -5-7 -6-10M-320 -115l9 0 -2 10 -4 7 1 10 12 7 -8-4 -10-3 2-8 -5-5 3-7 2-7M-317 -43l9-5 11-13 6 16 -4 6 -3 4 -8-5 -11-3M-316 -65l11-6 9-7 -4 16 -11 3 -5-6M-305 63l17-11 -12 5 -5 6M-356 136l2 19 11 25 4 18 3 15 16 5 9-7 18-1 12-10 15-4 12-1 16 7 9 14 1-8 8-6 0 12 6 0 -2 7 9 4 6 11 16 4 14 2 7-8 11-2 0-12 4-12 6-10 2-12 1-12 -3-14 -4-8 -9-12 -7-2 -6-12 -12-9 -3-12 -3-12 -9-4 -2-10 -6-13 -5 14 1 16 -5 12 -8-1 -12-8 -8-7 6-16 -7-2 -16-3 -6 5 -7 5 -3 11 -11-5 -8 1 -5 8 -7 9 -7 8 -5 8 -12 5 -12 2 -9 7 -6 1M-177 252l18 1 1 8 -5 8 -9-6 -5-11M-38 214l9 7 8 8 13 5 -5 10 -3 1 -7 13 -4-2 2-9 -6-4 4-7 -1-10 -10-12M-37 251l9 7 -6 8 -2 5 -7 4 -3 9 -7 4 -13-3 1-5 7-8 11-6 5-7 5-8M828 -309l9-3 11-3M-848 -315l7-1 12-9 -2-4 1-2M830 -331l-7-4 -12-7 -6-3 -7-1 -3-7 -13-6 -7 0 8 9 7 6 9 4 10 2 2 4 10 6 -9 0 8 4 -1 5 11 2 -2 8M813 -322l-12-11 -3-3 -11-4 -2 3 -3 3 4 4 7 9 6 3 7-1 7-3M660 -391l-15-7 2-5 22 1 13 3 9 3 0 5 -9 5 -19-2 -3-3M-589 -463l0 7 6 2 20-4 32-6 -6-6 -15-1 -27 4 -10 4M-491 -428l17 3 5-12 25-11 39-7 4 1 -37 7 -25 10 -9 1 -19 8M-290 -465l23 4 13-6 -14-6 -19 1 -3 7M-449 -470l27-2 26-1 -8-3 -31 3 -14 3M-157 -449l15 7 24-5 -6-3 -21-1 -12 2M-6 -427l10 1 8-3 -12-1 -6 3M509 -136l12-7 13 0 15 8 19 10 -18 2 -4-6 -18-6 -19-1M569 -115l7-8 16 1 10 7 -9 2 -8 4 -16-6M584 -294l7-12 -6-12 20 12 9 12 -8 5 -22-5M-173 34l9-2 8-6 4 2 -6 6 -6 4 -9-2 0-2M-111 58l6 2 0 1 -6 0 0-3M-106 52l5 5 -1 2 -4-4 0-3M-85 125l10 8 5 5 -2 0 -11-9 -2-4M-15 108l7-1 0 6 -7-1 0-4M130 -118l4-2 0-3 -5-2 0 3 1 4M117 -132l3 0 -2-3 -1 1 0 2M-328 53l17-2 -1 3 -15 1 -1-2M-345 53l12-2 0 3 -10 2 -2-3M-358 51l7 1 5 0 0 3 -11-1 -1-3M-287 -11l5 2 -3 6 5 3 -5 4 -3-7 1-8M-284 20l15 1 -2 3 -12-2 -1-2M-295 19l6 1 -2 4 -4-2 0-3M-73 92l4 2 -1 5 -3-3 0-4M559 317l14 0 -6 5 -8-1 0-4M-705 423l38 0 38-1 36-3 16-3 17-2 14-6 14-5 20-1 25 5 22 1 25 6 14 7 11-2 7-5 9-8 23-3 28 0 19-3 21 2 20-2 22 3 21 0 20-1 20 0 20 0 22 3 21 3 22 6 21 2 20 6 13 2 12 5 15 0 3 5 -9 8 -13 7 -6 7 8 4 10 1 11 0 35 1 35 1 35-2 8-4 22-1 28-7 39-5 39-3 36 2 36 1 23-5 21-2 19-1 36 2 25-6 17 2 19-18 2 6 20-16 22-11 38-9 -14 6 -17 8 -14 11 -7 11 -18 15 -15 10 0 4 -7 5 30 4 34 1 22-3 30-7 35-9 34-5 35-8 33-3 24-3" fill="none" stroke="#000" stroke-width="9" stroke-linejoin="round"/>
</g>
<path d="M244,343.2 246.4,342.5 249,341.6 252,340.5 255.1,339.2 258.1,337.8 260.9,336.2 263.5,334.7 266,333 268.3,331.3 270.6,329.6 272.8,327.9 274.9,326.1 276.9,324.3 278.6,322.4 280.3,320.6 281.8,318.7 283.2,316.8 284.4,315 285.5,313.1 286.4,311.2 287.2,309.3 287.8,307.4 288.4,305.5 288.8,303.6 289.3,301.7 289.6,299.8 289.8,297.9 290,296 290.1,294.1 290.1,292.3 290,290.4 289.8,288.5 289.6,286.6 289.3,284.7 288.8,282.8 288.4,280.9 287.8,279 287.2,277.1 286.4,275.2 285.5,273.3 284.4,271.4 283.2,269.6 281.8,267.7 280.3,265.8 278.6,264 276.9,262.1 274.9,260.3 272.8,258.5 270.6,256.8 268.3,255.1 266,253.4 263.5,251.7 260.9,250.2 258.1,248.6 255.1,247.2 252,245.9 249,244.8 246.4,243.9 244,243.2 139.2,243.2 136.8,243.9 134.2,244.8 131.2,245.9 128.1,247.2 125.1,248.6 122.3,250.2 119.7,251.7 117.2,253.4 114.9,255.1 112.6,256.8 110.4,258.5 108.3,260.3 106.3,262.1 104.6,264 102.9,265.8 101.4,267.7 100,269.6 98.8,271.4 97.7,273.3 96.8,275.2 96,277.1 95.4,279 94.8,280.9 94.4,282.8 93.9,284.7 93.6,286.6 93.4,288.5 93.2,290.4 93.1,292.3 93.1,294.1 93.2,296 93.4,297.9 93.6,299.8 93.9,301.7 94.4,303.6 94.8,305.5 95.4,307.4 96,309.3 96.8,311.2 97.7,313.1 98.8,315 100,316.8 101.4,318.7 102.9,320.6 104.6,322.4 106.3,324.3 108.3,326.1 110.4,327.9 112.6,329.6 114.9,331.3 117.2,333 119.7,334.7 122.3,336.2 125.1,337.8 128.1,339.2 131.2,340.5 134.2,341.6 136.8,342.5 139.2,343.2Z" fill="none" stroke="#000" stroke-width="0.9"/>
<g clip-path="url(#c03)">
<g transform="scale(0.1)" fill-rule="evenodd"><path fill="#fff1dd" d="M1042 3471l222 0 -1 83 -4 26 -12 7 -25-23 -16-3 -8 4 -13 23 -8 58 -12 12 -16 1 -9-7 -16-31 -27-17 -22-33 -34-25 -4-16 -1-59zM1674 3471l45 0 -1 50 -11 20 -17 3 -12-6 -5-8 -3-59zM1772 3471l144 0 -4 67 -12 16 -13 5 -106-20 -12-18 -1-50zM2019 3471l44 0 -2 59 -4 8 -14 8 -19 0 -8-8 -1-67zM1986 3561l16 0 4 10 -2 25 -10 12 -8 1 -11-13 1-25zM894 3574l49 0 18 6 23 33 28 17 22 33 27 17 22 32 8 6 16 5 91 1 46 6 20 8 16 19 16 4 99 4 49-12 25-1 41 4 49 15 15-8 10-26 32-24 25-32 16 2 17 17 16 6 17-4 22-31 19-8 90 1 90-7 107 9 49-9 17 8 9 23 -3 25 -16 25 2 8 57 16 12 9 21 25 8 0 8-9 8-41 7-16 33-26 18-21 24-9 33-5 25 4 15 15 10 19 24 15 25 32 8 3 13-3 27-33 26-13 12-12 4-16 -4-59 3-33 9-13 17-3 37 24 61 10 17 7 41 52 16 43 30 22 28 35 16 6 49 4 23 13 4 8 -3 17 -24 21 -7 20 -1 121 8 12 8 2 107 4 0 253 -123 0 -33-5 -5-3 4-8 21-26 1-16 -4-8 -41-21 -25-21 -16 0 -9 11 -9 31 4 58 -7 16 -12 11 -31 15 -27 24 -57 16 -16 10 -9 16 -12 58 -17 26 -12 32 -16 13 -17 3 -41-9 -21-15 -6-16 -2-58 -4-10 -24 4 -33 37 -41 15 -58 8 -65-9 -66 8 -33-7 -16-12 -41-50 -16-34 -17-9 -16 2 -13 7 -37 34 -8 16 -8 41 -12 33 -13 11 -16 2 -419-1 -16-6 -11-14 -8-50 -9-16 -46-19 -25 0 -49 16 -14 11 -5 8 4 17 36 25 6 8 0 8 -27 20 -9 14 -3 75 -49 0 -1-142 -6-25 -12-8 -43-14 -16-12 -20-24 -46-21 -25-36 -16-1 -25 30 -30 20 -14 24 -11 9 -76 4 0-321 115 1 24 5 14 11 8 17 11 63 41 30 5-27 -2-66 8-50 9-17 13-11 33-7 1272 2 25 8 29 33 18 0 -18-17 -15-25 -22-14 -24-36 -34-25 -16-39 -8 3 -17 19 -16 9 -17-2 -33-18 -65-6 -38 9 -20 26 -24 12 -173 4 -41-3 -16-9 -11-13 -12-33 -10-14 -21-20 -28-8 -82 2 -20 6 -30 20 -49 12 -106 7 -115 0 -41-2 -41-12 -50 6 -16-6 -13-17 2-66 -6-16 -8-3 -24 5 -22 14 -1 8 29 34 7 16 -3 58 -19 24 -16 4 -16-1 -23-18 -6-17 -3-42 -9-10 -107-11 -49-15 -107-1 0-243zM2324 3721l-13 9 -4 8 6 16 18 9 16-4 13-21 -5-17zM2509 4046l14 17 8 25 -1 100 12 8 18-1 13-7 -26-34 -2-16 7-17 17-12 16-1 16 6 17 17 8 2 29-37 -1-8 -28-39 -8-5 -107-4zM1583 4130l-10 16 -8 50 6 50 12 17 17 6 98 8 42-3 24-11 8-17 1-25 -6-33 -11-14 -33-16 -18-20 -15-8 -41 1 -49-7zM1924 4171l-37 9 -6 8 3 16 15 9 46 11 9 6 24 28 16 6 37-10 45-37 58-9 8-4 5-8 -5-10 -17-5 -131-13zM1443 4180l-8 8 -1 8 5 8 13 6 41-4 12-10 -1-8 -17-8 -27-4zM1512 4321l-27 6 -11 11 -3 16 12 59 10 13 8 3 50 4 16-9 8-20 -5-58 -10-16 -9-6zM2420 4346l-5 8 2 9 12-2 6-7 -2-8zM1629 4388l-5 16 9 17 16 4 8-4 9-17 -5-16 -20-6z"/><path fill="#e2f3fb" d="M894 3471l136 0 0 59 7 24 35 26 19 30 30 20 19 35 17 6 16-7 17-18 16-50 25 11 16 2 18-5 18-16 3-25 1-92 97 0 2 67 9 15 8 3 16-6 12-12 4-17 1-50 86 0 3 59 6 8 12 5 90 6 57 15 58-11 90 14 25 9 24 26 8 1 25-32 17-10 8 1 10 9 12 50 11 13 8 2 24-19 15-37 8-9 55-17 20-16 5-17 0-50 49 0 1 50 3 12 9 9 16 6 57 2 58 8 33 10 41 26 82 12 16 10 8 11 11 44 0 17 -11 13 -24 15 -25 29 -8 1 -25-30 -49-47 -24-7 -58 7 -23 11 -42 41 -25 42 -58-25 -4-8 -3-59 -9-19 -17-16 -8-1 -33 18 -16 2 -16-2 -33-13 -82 3 -66 14 -98-7 -17 6 -7 7 -18 31 -8 1 -8-4 -15-20 -10-5 -24 5 -22 33 -36 25 -16 23 -8 4 -17-1 -82-23 -16 1 -41 15 -91-1 -32-19 -25-7 -90-9 -50 3 -16-6 -25-35 -29-20 -20-30 -30-20 -19-29 -25-8 -57 0 0-96zM2848 3471l98 0 0 308 -57 0 -50-15 -65-8 -25-33 -34-27 -2-16 3-14 19-20 14-25 35-25 23-33 26-17 6-16 1-59zM2331 3729l9 1 8 8 -1 8 -8 7 -8 0 -11-7 0-8zM1600 4129l49 10 41-1 30 25 36 17 8 14 4 19 1 25 -5 16 -16 12 -50 5 -98-8 -16-8 -10-25 0-59 8-33zM2733 4154l8 3 37 31 2 8 -23 25 -8 17 13 16 28 7 156 0 0 302 -205 0 -3-67 -5-10 -25-15 -12-17 -6-50 -7-13 -16-5 -41 1 -41 23 -8-3 -7-11 -6-33 5-25 16-11 57-15 25-24 33-18 16-16 8-16 -8-53 9-24zM1920 4179l82-5 63 14 10 8 -58 50 -23 7 -15-7 -26-27 -50-15 -10-8 2-9zM1460 4188l8 8 -15 0zM1050 4307l25 23 33 16 10 17 6 33 -8 13 -30 21 -20 30 -29 20 -7 24 0 59 -144 0 0-178 66-1 24-6 32-40zM1493 4334l33-4 28 8 7 16 3 34 -5 16 -8 8 -17 2 -16-3 -22-15 -13-42 2-11zM1978 4336l16-2 8 5 16 57 37 42 0 16 -12 11 -33 11 -32 1 -33-10 -13-13 -5-33 2-33 8-13 17-12zM1337 4371l25 0 33 17 4 16 -4 12 -17 12 -24 4 -17-4 -25-15 -13-17 5-8zM2183 4446l9 0 5 8 -14 5 -6-5z"/><path fill="#ffdcb0" d="M1050 3471l139 0 -2 67 -13 42 -4 50 -11 16 -10-2 -17-27 -32-21 -17-28 -33-24 -5-14 -1-42 0-17zM894 3582l49 1 15 5 18 28 32 22 17 28 32 22 18 28 16 11 58 8 57-1 21 4 11 8 -6 8 -34 17 -9 17 4 25 24 17 8 16 0 42 -7 16 -12 8 -20-8 -7-16 -4-50 -9-8 -108-13 -29-13 -9-16 -4-34 -5-16 -35-25 -16-27 -17-6 -57-1 0-97zM2544 3618l49 1 35 11 48 50 24 37 26 21 27 33 21 12 33 6 16 7 -14 42 -1 150 15 11 25 5 98 3 0 134 -107 0 -49 8 -16-3 -33-18 -25 1 -8 14 -9 37 2 58 -9 16 -35 17 -31 24 -66 22 -13 13 -19 30 -9 5 -33 0 -8-5 -24-31 -17-8 -16-1 -49 16 -69 60 -16 8 -47 12 -49-4 -66 3 -41-15 -41-46 -23-33 -18-10 -16-1 -25 9 -33 22 -14 22 -15 50 -12 12 -24 4 -115-1 -25-2 -25-10 -22-36 -19-10 -32 3 -25 19 -8-7 -14-47 -11-15 -16-8 -41-2 -33 7 -17 18 -3 16 8 42 -5 19 -8 6 -8-2 -8-8 -17-42 -57-20 -25 0 -90 26 -57-12 -45-33 -54-21 -25-38 -24-7 -19 7 -21 25 -26 17 -24 33 -66 3 0-288 107 0 24 6 16 21 11 66 28 26 19 24 16 1 9-6 4-11 -5-100 9-50 16-21 41-8 698 2 82 6 476-3 17 9 17 23 32 17 12 17 3 24 -9 84 4 16 6 7 17 4 49-7 15-12 14-25 25-17 16-33 28-22 -1-11 -23-17 -23-33 -10-6 -90-6 -25-9 -25-35 -28-19 -15-25 -34-25 -8-17 -6-42 -7-16 -11 0 -21 33 -17 12 -107-14 -50 11 -13 8 -19 22 -16 7 -50 6 -123 0 -24-3 -15-7 -35-73 -41-15 -98-1 -99 30 -49 1 -49 11 -132 1 -32-5 -30-24 -11-4 -33 14 -17-1 -8-11 -5-23 2-25 11-12 50-2 57 7 49-15 41-4 33 9 27 17 31 32 16 1 6-8 3-17 -12-50 44-46 8-2 33 16 16 0 17-8 22-26 11-6 164-7 115 9 57-4 11 8 4 16 -7 14 -27 20 -4 8 7 16 24 12 50 4 13 10 19 24 17 5 11-5 6-8 16-60 33-21 19-27 25-8 38-1 11 9 3 8 -6 10 -33 9 -18 15 -1 16 19 20 17 5 16-3 16-14 17-23 8 1 33 32 24-1 26-33 34-17 16-17 7-63 8-12zM1588 4121l-18 17 -12 50 6 58 11 20 25 9 98 9 50-6 24-15 6-17 -1-33 -5-25 -11-17 -34-17 -29-28 -90-7zM1970 4163l-83 8 -15 17 2 16 13 13 58 17 24 30 25 11 49-11 41-38 58-6 13-7 6-9 0-16 -19-14zM1441 4171l-12 9 -5 16 10 17 10 5 25 1 32-5 16-10 4-8 -8-16 -12-6 -32-5zM2470 4429l8-3 7 4 1 10 -8 6 -8-4z"/><path fill="#bcdcf8" d="M894 3471l129 0 0 59 5 24 6 9 32 22 17 28 33 22 16 35 17 16 16-3 60-53 47-15 30-19 7-25 0-100 65 0 3 75 9 17 9 5 16 0 49-17 74 9 91 4 65 18 50-13 57 5 49 14 14 16 10 26 -3 8 -12 8 -25 3 -90-21 -33-6 -17 2 -24 18 -33 13 -9 8 -24 38 -25 13 -32 26 -99-32 -82 18 -49 5 -50-15 -73-8 -33-11 -50 10 -16-9 -17-27 -27-17 -22-33 -27-17 -22-32 -8-6 -25-5 -57-1 0-89zM2864 3471l82 0 0 284 -57-1 -99-10 -12-6 -15-25 -26-25 35-50 26-17 23-33 35-26 7-24zM2125 3561l17-3 41 8 65 3 41 11 50 25 106 16 20 17 14 33 0 17 -42 37 -8 1 -33-38 -49-31 -16-3 -74 7 -25 10 -41 48 -16 6 -17-3 -16-10 -20-74 -21-24 -25-5 -33 26 -8 1 -6-6 6-27 8-13 49-13zM1592 4138l16-3 41 16 41-2 25 18 33 13 8 8 7 25 1 25 -7 16 -17 9 -42 3 -106-14 -10-14 -3-42 3-42zM1978 4179l24 2 23 7 12 8 -1 8 -26 27 -16 7 -41-30 -29-12 6-8zM2716 4271l17-8 49 9 164 1 0 290 -181 0 -4-83 -12-17 -26-17 -14-66 -17-11 -91-3 -16-9 0-11 10-8 56-18 26-24zM1510 4346l24-1 9 5 4 21 -4 18 -14-1 -19-20 -6-14zM1337 4384l17-3 15 7 5 8 -3 8 -17 9 -17-4 -10-13zM1978 4420l21 10 4 8 -5 8 -12 2 -14-10 -3-13z"/><path fill="#ffa628" d="M1058 3471l107 0 -1 67 -9 58 -6 12 -37-20 -21-31 -33-27zM894 3594l41 1 17 7 16 26 26 18 23 33 26 17 17 25 15 13 98 24 4 13 -4 34 -8 8 -25 2 -57-8 -31-11 -9-16 -3-42 -6-17 -35-25 -22-33 -25-8 -66 0 0-61zM2569 3641l16-2 16 7 39 34 27 33 71 67 52 36 7 38 -4 134 14 15 16 6 57 7 66 1 0 110 -115 0 -49 5 -41-12 -41-6 -8-32 -28-19 -22-33 -8-5 -33-6 -65-3 -17-7 -24-34 -30-21 -20-29 -29-21 -7-16 -7-50 -6-11 -8-5 -16 2 -25 39 -16 7 -50-4 -49-11 -59 16 -32 25 -32 12 -148 3 -16-1 -17-9 -25-63 -8-10 -16-7 -41-9 -82 0 -58 13 -49 6 -16-4 -11-23 -6-58 11-16 14-12 8-3 41 7 17-3 41-31 24-7 66-5 90 1 139 19 -32 25 -5 17 10 16 44 26 51 0 13 8 21 25 14 5 16 0 12-5 6-9 15-53 16-10 17 4 37 26 20 7 25-2 33-24 8-1 33 23 24-1 14-10 19-27 41-19 29-21 8-16 3-26zM2306 3694l16-6 9 8 -25 4 -8-4zM1477 3771l24-1 23 10 14 16 19 42 -14 9 -50 4 -82-4 -17-9 1-17 44-33zM1313 3794l35 2 -14 8 -21 3 -5-3 0-8zM1173 4020l205-3 91 6 410 0 90 9 394 0 66-7 16 8 20 21 32 17 11 17 0 25 -19 91 -19 28 0 14 16 3 25-11 90-23 47-44 15-41 12-9 17-3 7 3 0 9 -3 24 -11 34 5 50 -15 15 -106 47 -50 27 -33 0 -57-26 -33 2 -74 31 -62 54 -15 8 -103 2 -28-10 -93-92 39-25 32-31 50-4 24-10 12-22 -8-24 -12-9 -24-7 -148-7 -91 4 -16 6 -12 13 -3 16 5 17 18 14 39 11 14 8 38 42 -1 8 -67 34 -19 58 -12 14 -90 3 -49-4 -12-5 -23-25 -23-10 -74-2 -8-4 -25-39 -16-8 -16-3 -66 5 -66 33 -24-4 -33-17 -56 24 -51 8 -33-4 -16-5 -33-24 -66-19 -24-41 -66-40 -49 7 -74 1 0-156 98 0 25 4 14 19 9 67 10 16 30 34 11 6 24 2 17-7 6-10 2-16 -10-92 5-33 13-30 9-7zM1577 4121l-13 17 -13 39 -8 11 -24-17 -18-6 -57-2 -16 7 -9 10 -4 16 5 17 24 14 41 0 29-6 29-18 19 60 13 13 17 6 57 3 49 9 58-11 18-12 9-17 2-16 -10-58 -11-13 -33-16 -24-28 -17-5 -82-4z"/><path fill="#64b3f3" d="M894 3471l121 0 1 67 7 25 35 26 21 32 28 19 17 40 0 10 -8 7 -17-4 -20-30 -29-18 -21-32 -28-18 -14-24 -11-11 -24-7 -66-1 0-81zM1329 3471l35 0 4 83 10 18 17 10 16 0 41-13 49 8 99-3 49 14 8 8 -1 8 -42 42 -22 42 -49 23 -42-7 -41-20 -24-5 -41 2 -41 23 -41 10 -124-18 -5-8 14-15 49-34 57-24 14-11 7-24 0-109zM1549 3638l-8 8 3 8 7 4 9-4 1-8zM2134 3586l16-4 82 5 99 42 49-5 35 6 20 8 7 8 8 25 -2 17 -11 10 -8-2 -25-25 -65-32 -41 10 -25 0 -11-3 -22-23 -8-1 -16 12 -21 54 -12 9 -8-2 -11-15 -2-34 -6-16 -30-34zM1748 3592l41 0 15 4 6 8 -3 9 -18 0 -47-17zM1600 4145l12 1 29 18 49-1 58 24 10 26 -2 34 -16 11 -33 3 -109-15 -10-16 -2-34 5-42zM1986 4188l24 8 1 8 -9 11 -16 1 -17-12 -5-8zM2725 4288l16-3 41 4 164-1 0 129 -57 0 -25-8 -25-35 -29-20 -20-30 -16-6 -64-5 5-17zM2675 4328l17-6 8 8 -8 12 -26 4 -7-8z"/><path fill="#fb8600" d="M1805 3688l49-4 99 10 41 27 25 43 49 31 24 8 42-8 32 28 44 15 -3 8 -15 8 -26 8 -74 33 -131 3 -16-3 -9-7 -32-68 -50-19 -98-3 -49 15 -33 4 -25-2 -13-11 -5-41 10-25 16-7 50-4 49-27zM2577 3720l16 4 33 27 57 20 33 25 33 14 25 18 8 18 1 75 -12 67 18 16 26 10 65 12 66 1 0 90 -164 4 -66-15 -16-28 -33-24 -25-35 -41-9 -65-5 -15-9 -17-25 -26-18 -23-32 -32-25 -13-66 -12-17 -18-4 -17 4 -24 41 -17 5 -41-4 -16-6 -13-11 -14-25 0-25 10-12 83 15 24-6 25-16 8 0 33 17 16 0 25-12 23-28 10-5zM1107 3769l45 2 9 9 0 16 -21 8 -32-8 -15-8 -2-8zM1485 3778l25 3 13 15 0 17 -13 15 -25 1 -15-8 -7-8 -1-17 5-8zM1181 4029l197-3 91 9 410 1 82 12 411 0 49-7 16 4 23 18 33 17 7 24 -22 57 -26 35 -15 13 -16-1 -20-28 -13-9 -41-3 -25 11 -11 25 2 42 9 14 25 16 3 12 -11 12 -63 21 -28 33 -16 7 -12-7 -16-24 -13-8 -16 3 -25 33 -16 1 -9-5 -24-31 -24-19 -3-8 8-16 13-9 88-5 21-12 7-24 -3-34 -27-25 -23-11 -24-4 -156-6 -74 3 -25 5 -21 22 -2 24 15 25 26 17 12 17 -22 15 -12 26 -12 17 -39 17 -19 21 -16 3 -13-8 -15-24 -20-17 -1-9 32-15 20-26 3-25 -10-50 -17-25 -33-17 -21-25 -24-8 -98-3 -25 12 -24 42 -42-8 -49-2 -24 5 -16 12 -8 17 -1 16 5 17 11 12 17 7 24 2 74-8 9 10 15 44 -65 4 -41 8 -16-1 -25-25 -24-14 -20-22 -13-5 -17 4 -8 9 -10 50 -6 9 -17 9 -82 2 -106-28 -15-34 1-8 5-4 25 3 25 17 16-4 7-12 -3-16 -14-17 -6-16 -18-84 -1-25 6-25 13-20zM1247 4188l-11 8 2 8 9 4 7-4 2-8zM960 4088l33 1 16 11 10 38 -2 21 -6 12 -51 31 -74 3 0-117zM2675 4138l8 1 2 7 -2 9 -8 7 -5-8zM2634 4221l29 0 7 9 -3 8 -47 16 -35 9 -20 0 -2-9 7-8zM2528 4271l21 0 -3 17 -10 9 -33 6 -26-7 -2-8 3-3zM1920 4279l8-5 11 6 3 8 -14 2zM1625 4296l16 0 21 8 6 17 -9 17 -30 0 -35-34 6-4z"/><path fill="#2196f2" d="M894 3471l109 0 -2 83 -41-13 -74-1 0-69zM1354 3571l24 33 17 9 16-2 33-21 16 2 42 29 5 17 -4 16 -10 7 -57-6 -58 3 -32 10 -42 28 -61-8 -6-8 51-38 42-21 10-17 6-29zM1551 3595l41-3 10 4 1 8 -19 6 -22-6 -15-8zM1608 4170l33 13 49-2 50 10 8 9 4 13 1 17 -5 16 -17 8 -41 1 -41-13 -41-7 -8-11 -2-20 2-24z"/><path fill="#e64b1e" d="M1838 3696l16 1 41 19 50 7 38 40 44 36 57 27 50-1 20 13 -1 8 -93 29 -58 6 -33-1 -16-3 -16-11 -18-45 -15-17 -50-24 -106-1 -41 23 -17 4 -24-3 -17-10 1-22 24-23 41-13 33-16zM2503 3762l33-6 49 2 57 26 33 20 58 16 16 9 8 9 4 16 -16 117 6 25 30 17 91 23 74 3 0 68 -164 3 -49-8 -11-6 -22-30 -27-20 -23-33 -16-7 -90-13 -12-5 -21-25 -30-25 -19-25 -29-25 -10-34 -1-24 4-17 32-17zM1485 3794l8-6 8 3 5 5 -1 8 -12 6 -8-5zM2298 3819l25 2 6 9 -3 8 -12 4 -26-4 -5-8 6-8zM1181 4044l33-6 164 0 91 14 402 0 90 9 460-2 57 23 12 14 -4 17 -16 14 -139 9 -42 26 -16 4 -33 0 -106-22 -148-3 -99 4 -24 13 -19 30 0 25 16 41 -8 34 -6 8 -8 3 -11-3 -6-8 -4-50 -30-67 -15-14 -32-17 -17-20 -16-10 -123-4 -17 8 -33 34 -74-5 -32 4 -32 16 -34 37 -58 12 -10-8 -15-33 -16-11 -24-2 -58 9 -16-4 -8-7 -18-43 0-33 18-25z"/><path fill="#1863bf" d="M1707 4203l16-3 17 7 5 23 -5 12 -9 4 -33 1 -26-9 -5-8 7-15z"/><path fill="#b21c1c" d="M1805 3729l25-6 16 2 11 13 -2 8 -33 7 -66-2 -14-5 11-8zM1928 3777l9-3 16 5 25 23 59 28 10 8 1 8 -11 8 -35 10 -24 0 -25-7 -10-11 -17-50 -2-8zM2552 3779l33 4 49 35 25 8 64 12 9 8 -1 8 -6 8 -50 8 -12 10 -3 8 3 16 29 20 8 12 6 52 10 13 41 17 88 20 35 28 66 3 0 22 -164 5 -41-5 -9-3 -49-49 -13-26 -11-12 -40-13 -34-19 -41-5 -16-9 -66-67 -17-21 -7-21 7-15 47-18 27-27zM1181 4062l33-5 164 0 82 10 920 7 47 6 33 16 -64 19 -65 3 -58 10 -378-1 -24 8 -41 29 -17 2 -65-32 -33-29 -25-6 -106-1 -58 29 -353 1 -16-7 -6-8 -5-25 11-17z"/><path fill="#8b0a0a" d="M2569 3827l16-2 8 6 6 15 -6 11 -16 4 -11-7 -4-16zM2725 4035l16-1 74 12 11 8 -11 10 -66 1 -16-6 -8-9 -4-12zM1173 4087l41-6 173 0 57 6 92 1 9 8 -27 5 -320 2 -25-3 -6-4zM1740 4087l131 0 82 7 345 2 -361 3 -50 4 -49 12 -49 1 -25-1 -16-7 -14-12z"/><path fill="#9a27b0" d="M1690 4219l41-2 21 4 13 17 -3 16 -10 9 -12 3 -54-3 -10-9 -3-16 3-8z"/></g>
<path transform="translate(191.6,401.7) scale(0.1)" d="M56 -414l11-9 24-5 18 2 28 4 17 2 21 4 22-6 24 3 30 3 31 5 18-3 31 4 7-6 22 2 16-5 25 16 -10 3 -2 8 -10 11 0 19 14 12 24 6 29 6 11 14 15 6 -9-17 4-12 -15-12 -6-11 -11-11 18 1 23 7 12 13 15-4 0-5 31 22 26 12 18 11 -6 12 -22 2 -11 5 15 5 7 12 21 6 -21 7 -18 4 4 12 -14 8 -2 12 1 10 7 11 -7 4 -8 8 -7 11 8 18 6 16 -4 5 -11-14 -6-13 -11-2 -16-3 -7 7 -8-1 -16-2 -13 12 0 17 1 17 12 20 9 5 16-2 3-15 16-3 2 18 -3 16 13 0 12 6 4 19 1 9 10 9 13-3 11 6 1 3 -3 5 -11-1 -3-5 -14 0 -15-11 -1-7 -11-12 -19-5 -18-13 -13 2 -20-8 -20-8 -12-11 0-11 -8-11 -15-14 -13-14 -13-19 -11-4 7 11 9 9 7 13 7 12 5 10 -14-13 -12-19 -12-14 -10-14 -9-9 -11-4 -9-12 -8-9 -6-11 -6-13 -5-26 -8-13 7-4 -11-6 -14-6 -5-9 -15-11 -16-15 -16-9 -20-7 -18-1 -16-3 -16 7 -8 13 -17 6 -18 6 -11 3 19-12 10-12 -20 0 -13-11 -5-8 4-7 13-7 -21-1 -8-5 15-5 -9-11M376 -461l2-11 17-5 42-4 45-2 45 6 33 12 29 18 17 15 7 10 -12 9 -5 13 -14 5 17 28 -28-6 -29-17 -25-16 -22-16 -32-20 -35-9 -22 0 -30-10M483 -403l5 19 -10 3 -27-11 -23 0 6-11 3-5 -36-14 -30-2 -25-15 29-1 21 6 34 10 26 10 27 11M247 -416l31 0 34-3 -5-8 -27-10 -27 0 -15 5 9 16M342 -454l22-2 -1-9 19-10 3-4 -45-2 -44 4 8 5 38 18M211 -431l20 7 16-5 -10-10 -21-4 -5 12M326 -444l45 0 -8-7 -39-3 2 10M227 -449l49 2 -8-5 -44 0 3 3M299 -461l25-2 -16-10 -21 1 12 11M316 -434l17 2 5-7 -24-3 2 8M559 -50l10-15 13-6 7-6 4 9 17 3 22 0 13 0 9 12 18 16 22 3 11 9 6 16 8 15 22 10 25 1 15 13 11 7 -2 19 -12 15 -13 13 -4 24 -9 16 -8 16 -17 3 -25 15 -7 16 -16 15 -20 19 -14 9 -14 3 -1 6 -7 11 -25 5 -7 11 -14 1 -3 9 -12 16 -16 9 2 9 -20 15 -10 10 0 5 3 11 -11 3 -12-3 -6-11 4-18 12-18 16-22 10-15 9-22 12-15 11-19 7-24 10-19 7-31 0-10 -9-9 -17-18 -7-16 -9-25 -8-12 5-12 2-6 -4-10 4-9 3-6 5-7 5-9 0-15 -1-10M894 -222l-2 30 2 9 -11 11 -3 23 -6 19 6 12 4 19 -3 8 6 13 11 10 11 12 13 13 21 15 19-4 16 1 5-3M-983 -34l11-5 16 4 8 8 11-1 6 6 -2 16 -1 12 13 17 5 14 7 16 4 16 -5 21 2 15 14 22 9 13 12 27 11 10 18 21 8 14 10 4 11-5 17-1 9-8 5-13 5-12 -3-16 11-12 -4-13 -5-12 8-12 13-10 4-12 -4-22 -7-18 -4-10 2-12 8-16 13-15 14-13 12-12 9-18 10-19 2-8 -13 4 -22 4 -8-7 -2-12 -7-7 -8-7 -3-14 -3-18 0-6 -5-12 -2-13 -2-13 0-11 2-8 -5-3 -13 4 -18-5 -13-6 -12 3 -8 11 -16-4 -10-10 -7-3 -6-2 10-14 7-7 -6-2 -14 2 -22 1 -19 6M925 -222l-7 4 -16 0 -8-4M-710 74l9 22 -3 12 -2 19 -1 22 -8 9 -9-3 -8-19 3-12 -5-19 9-7 8-11 7-13M848 -266l16 24 11 13 12 0 9 6 2-5 13 0 1-9 -2-8M-910 -245l12-9 16-6 6-8 8-1 8 2 8-4 13-3 -2 8 3 9 9 9 -7 12 6-3 6-5 1-6 9 1 -4-5 0-6 -7-4 -1-10 6-7 8-1 1 2 0 8 5 6 5 7 -8 9 1 6 -1 9 0 9 8-6 3-7 4 2 2-13 9-3 10 0 0 4 -4 4 -2 9 1 8 11 3 10 1 12-4 7 2 -6 9 -8 12 -8 10 -2 1 -1 11 -5 9 4 4 3 15 5 9 0 13 6 12 3 13 4 12 1 15 9 2 17-8 17-7 8-4 16-10 10-7 8-8 5-7 9-10 -6-7 -9-7 1-8 -5 4 -10 8 -13 0 2-10 -5 6 -1-8 -2-6 -3-9 0-8 8-1 4 5 3 8 11 8 13-3 4 9 20 3 17-1 10 0 3 5 5 8 8 4 -6 0 6 11 12-3 -1 14 0 16 5 15 2 9 4 16 4 11 6-4 8-9 3-10 5-22 8-6 6-5 12-11 12-7 4-8 11-2 8-5 7 2 2 11 7 10 -1 18 7 1 11-4 4 21 -1 19 -3 11 9 11 2 15 6 8 11 9 3-1 -3-16 -2-10 -6-3 -8-10 -2-10 -4-7 6-14 3-5 6 5 4 5 2 6 8 3 2 9 10-8 12-7 3-13 -1-12 -11-12 -4-10 6-8 8-8 9 1 4 7 3-7 11-5 9-2 11-3 9-9 9-9 7-13 9-12 -1-6 1-8 -4-8 -4-9 8-7 11-5 -5-3 -10 1 -2-5 -3-6 5-2 13-9 6 2 -7 9 7-5 9 0 3 8 5 7 -4 15 6 2 10-4 3-10 -4-11 -3-6 13-8 7-8 7-6 7 3 11-7 12-10 19-18 3-15 6-7 -1-6 -15-5 1-2 22-24 12-5 20 1 13-2 14 2 7-4 8-9 13-1 16-3 -9 18 -22 9 -9 15 0 23 10-10 8-9 11-11 7-11 6-10 9-4 17 3 12-9 17-5 9 0 -6-12 14-5 13 2 14 4 2-6 9-3 -18-5 -24-9 -16-6 -21-1 -18 2 -20 0 -3-6 -19-1 -19-2 -18-4 -18-1 -10 5 -19 0 -13 2 -2-7 -7-5 -16 2 -14-2 -18-1 -10-2 12-7 -17-9 -22 4 -10 4 -18-1 -23 4 -10 5 -3 5 -20-2 -9 5 -15 0 -6-2 -17 9 -11 13 -12-1 -2-9 -33 8 -23 2 -12 0 -28 0 -5 1 -15 5 -18 9 -23 9 -7-2 10-8 -2-6 13 1 26-5 -5-5 -16-4 -12-3 -8-5 -27 5 -31 8 -19 8 -14 8 -19 8 -24 8 -18 6 -18 14 -2 6 9 0 21-8 0 2 -7 9 -5 8 1 4 13-4 11-8 7-6 15-5 4-6 4-6 8-5 13-6 16-5 14-7 9 0 -2 4 -8 4 -19 7 -17 11 0 6 17-3 14 2 -11 4 -19 1 -7 4 -4 6 -16 3 -9 8 -15 7 -9-2 -18 5 -8-2 -8 2 1-5 13-9 10-8 -13 3 -13 10 -8 9 -10 2 -12 3 -12 8 -14 4 -8 5 -11 4M857 -306l-7-1 3 6 -12 2 17 7 13 7 8 10 3 6 -11 0 -21-2 -2 5M-757 -255l10 0 16-5 8 0 4 4 6 3 11-1 9-3 5-7 -5-5 -5-6 -2-5 -3 0 -9 3 -9 2 -1-6 8-4 -5-3 -5 0 -9 6 -4 3 -8 5 -9 8 -4 6 1 5M-634 -288l9-3 9 2 -5 9 -12 5 -7 9 6 6 -5 9 1 9 -5 10 -17 4 -6-4 0-7 9-10 4-1 -4-9 0-7 5-9 2-7 16-6M-261 -194l6-1 6-15 8 3 8-1 3-6 7 1 2-2 9-1 6-2 5-4 2-10 4-7 3-6 -1-10 -6 0 -3 7 -2 8 -7 6 -9 5 -1-2 -5 8 -3 3 -13 0 -9 6 -4 3 -6 5 1 8 -1 4M-200 -257l5-1 11-2 13-8 -4-4 -11-9 -2 2 -3 10 -5 1 -3 5 -1 6M-185 -285l8-3 0-15 7 0 -4-15 4-16 -2 0 -6 10 -1 9 -4 18 -2 12M-320 -140l3 4 7-16 -1-5 -6 5 -3 12M-384 -115l7 2 6-9 -4-3 -7 2 -2 8M-546 -50l2 13 8-8 -5-14 -4-1 -1 10M-463 -34l12 2 14 16 18 19 6 9 8 7 1 17 -8 1 -13-12 -8-13 -10-15 -7-11 -9-10 -4-10M-408 42l4-5 14 3 11 2 11 1 11 5 -1 6 -18-3 -17-3 -14-5 -1-1M-388 -9l3-3 8 2 11-9 8-10 6-4 8-10 12 10 -7 6 -1 16 6 5 -8 5 -5 10 0 11 -9 5 -10-5 -7 0 -9-2 -1-9 -5-6 0-12M-331 35l1-13 -4-10 5-12 2-5 14-1 11-3 -10 7 -14-1 5 9 11 0 -10 5 8 16 -6 4 -6-14 -2 18 -5 0M-268 8l8-6 9 4 5 14 14-11 16 7 22 8 7 9 10 6 1 11 12 14 -10-1 -11-13 -11-2 -4 8 -13 0 -11-6 -5 2 -3-4 6-5 -4-10 -15-6 -9-3 -3 1 -5-7 -6-10M-320 -115l9 0 -2 10 -4 7 1 10 12 7 -8-4 -10-3 2-8 -5-5 3-7 2-7M-317 -43l9-5 11-13 6 16 -4 6 -3 4 -8-5 -11-3M-316 -65l11-6 9-7 -4 16 -11 3 -5-6M-305 63l17-11 -12 5 -5 6M-356 136l2 19 11 25 4 18 3 15 16 5 9-7 18-1 12-10 15-4 12-1 16 7 9 14 1-8 8-6 0 12 6 0 -2 7 9 4 6 11 16 4 14 2 7-8 11-2 0-12 4-12 6-10 2-12 1-12 -3-14 -4-8 -9-12 -7-2 -6-12 -12-9 -3-12 -3-12 -9-4 -2-10 -6-13 -5 14 1 16 -5 12 -8-1 -12-8 -8-7 6-16 -7-2 -16-3 -6 5 -7 5 -3 11 -11-5 -8 1 -5 8 -7 9 -7 8 -5 8 -12 5 -12 2 -9 7 -6 1M-177 252l18 1 1 8 -5 8 -9-6 -5-11M-38 214l9 7 8 8 13 5 -5 10 -3 1 -7 13 -4-2 2-9 -6-4 4-7 -1-10 -10-12M-37 251l9 7 -6 8 -2 5 -7 4 -3 9 -7 4 -13-3 1-5 7-8 11-6 5-7 5-8M828 -309l9-3 11-3M-848 -315l7-1 12-9 -2-4 1-2M830 -331l-7-4 -12-7 -6-3 -7-1 -3-7 -13-6 -7 0 8 9 7 6 9 4 10 2 2 4 10 6 -9 0 8 4 -1 5 11 2 -2 8M813 -322l-12-11 -3-3 -11-4 -2 3 -3 3 4 4 7 9 6 3 7-1 7-3M660 -391l-15-7 2-5 22 1 13 3 9 3 0 5 -9 5 -19-2 -3-3M-589 -463l0 7 6 2 20-4 32-6 -6-6 -15-1 -27 4 -10 4M-491 -428l17 3 5-12 25-11 39-7 4 1 -37 7 -25 10 -9 1 -19 8M-290 -465l23 4 13-6 -14-6 -19 1 -3 7M-449 -470l27-2 26-1 -8-3 -31 3 -14 3M-157 -449l15 7 24-5 -6-3 -21-1 -12 2M-6 -427l10 1 8-3 -12-1 -6 3M509 -136l12-7 13 0 15 8 19 10 -18 2 -4-6 -18-6 -19-1M569 -115l7-8 16 1 10 7 -9 2 -8 4 -16-6M584 -294l7-12 -6-12 20 12 9 12 -8 5 -22-5M-173 34l9-2 8-6 4 2 -6 6 -6 4 -9-2 0-2M-111 58l6 2 0 1 -6 0 0-3M-106 52l5 5 -1 2 -4-4 0-3M-85 125l10 8 5 5 -2 0 -11-9 -2-4M-15 108l7-1 0 6 -7-1 0-4M130 -118l4-2 0-3 -5-2 0 3 1 4M117 -132l3 0 -2-3 -1 1 0 2M-328 53l17-2 -1 3 -15 1 -1-2M-345 53l12-2 0 3 -10 2 -2-3M-358 51l7 1 5 0 0 3 -11-1 -1-3M-287 -11l5 2 -3 6 5 3 -5 4 -3-7 1-8M-284 20l15 1 -2 3 -12-2 -1-2M-295 19l6 1 -2 4 -4-2 0-3M-73 92l4 2 -1 5 -3-3 0-4M559 317l14 0 -6 5 -8-1 0-4M-705 423l38 0 38-1 36-3 16-3 17-2 14-6 14-5 20-1 25 5 22 1 25 6 14 7 11-2 7-5 9-8 23-3 28 0 19-3 21 2 20-2 22 3 21 0 20-1 20 0 20 0 22 3 21 3 22 6 21 2 20 6 13 2 12 5 15 0 3 5 -9 8 -13 7 -6 7 8 4 10 1 11 0 35 1 35 1 35-2 8-4 22-1 28-7 39-5 39-3 36 2 36 1 23-5 21-2 19-1 36 2 25-6 17 2 19-18 2 6 20-16 22-11 38-9 -14 6 -17 8 -14 11 -7 11 -18 15 -15 10 0 4 -7 5 30 4 34 1 22-3 30-7 35-9 34-5 35-8 33-3 24-3" fill="none" stroke="#000" stroke-width="9" stroke-linejoin="round"/>
</g>
<path d="M244,451.7 246.4,451 249,450.1 252,449 255.1,447.7 258.1,446.3 260.9,444.7 263.5,443.2 266,441.5 268.3,439.8 270.6,438.1 272.8,436.4 274.9,434.6 276.9,432.8 278.6,430.9 280.3,429.1 281.8,427.2 283.2,425.3 284.4,423.5 285.5,421.6 286.4,419.7 287.2,417.8 287.8,415.9 288.4,414 288.8,412.1 289.3,410.2 289.6,408.3 289.8,406.4 290,404.5 290.1,402.6 290.1,400.8 290,398.9 289.8,397 289.6,395.1 289.3,393.2 288.8,391.3 288.4,389.4 287.8,387.5 287.2,385.6 286.4,383.7 285.5,381.8 284.4,379.9 283.2,378.1 281.8,376.2 280.3,374.3 278.6,372.5 276.9,370.6 274.9,368.8 272.8,367 270.6,365.3 268.3,363.6 266,361.9 263.5,360.2 260.9,358.7 258.1,357.1 255.1,355.7 252,354.4 249,353.3 246.4,352.4 244,351.7 139.2,351.7 136.8,352.4 134.2,353.3 131.2,354.4 128.1,355.7 125.1,357.1 122.3,358.7 119.7,360.2 117.2,361.9 114.9,363.6 112.6,365.3 110.4,367 108.3,368.8 106.3,370.6 104.6,372.5 102.9,374.3 101.4,376.2 100,378.1 98.8,379.9 97.7,381.8 96.8,383.7 96,385.6 95.4,387.5 94.8,389.4 94.4,391.3 93.9,393.2 93.6,395.1 93.4,397 93.2,398.9 93.1,400.8 93.1,402.6 93.2,404.5 93.4,406.4 93.6,408.3 93.9,410.2 94.4,412.1 94.8,414 95.4,415.9 96,417.8 96.8,419.7 97.7,421.6 98.8,423.5 100,425.3 101.4,427.2 102.9,429.1 104.6,430.9 106.3,432.8 108.3,434.6 110.4,436.4 112.6,438.1 114.9,439.8 117.2,441.5 119.7,443.2 122.3,444.7 125.1,446.3 128.1,447.7 131.2,449 134.2,450.1 136.8,451 139.2,451.7Z" fill="none" stroke="#000" stroke-width="0.9"/>
<g clip-path="url(#c10)">
<g transform="scale(0.1)" fill-rule="evenodd"><path fill="#fff1dd" d="M4517 306l41-3 25 5 10 24 0 34 -6 16 -12 4 -14-4 -11-17 -17-11 -41-10 -57-2 -14-10 0-8 9-8 62-4zM4230 369l8 0 5 5 0 8 -5 6 -13-6zM2941 421l61 3 21 36 33 18 16 32 17 9 25 5 24 25 25 12 10 21 -7 42 7 17 14 9 34 7 16 21 8 5 8-3 14-23 11-6 82-9 33-21 14 3 27 20 16 3 57-12 50-23 41-30 2-8 -29-42 2-25 17-12 73 12 25 28 49 4 50 13 24-2 25-10 33-24 16-4 57-4 50 9 82 0 98-13 33 2 33 10 20 24 37 25 17 30 41 16 16 24 17 7 13-10 28-58 57-38 23-29 18-15 41-22 50-15 114-14 57 25 17 33 17 10 65 3 41 8 66 1 0 132 -66 1 -8 3 -7 17 4 8 11 5 66 1 0 310 -74-2 -9-6 -15-33 -25-8 -57 7 -18 10 -15 17 -8 1 -33-23 -66-2 -11 7 -12 24 -10 7 -16 2 -17-4 -48-46 -6-25 13-14 38-11 12-33 24-21 17-34 28-21 3-16 -8-8 -32-10 -79-7 -10-9 -11-24 -15-9 -16 3 -8 9 -9 21 -11 9 -13 2 -16-11 -9-23 -8-9 -24-5 -41 1 -21 12 -6 16 10 42 8 14 17 7 33 7 57 2 16 5 9 15 7 100 -7 19 -41 16 -25 24 -13-1 -28-19 -49-4 -107-3 -57 5 -99-5 -90 11 -14 7 -19 22 -17 6 -57-3 -41 3 -16-5 -15-31 -18-9 -82 10 -74-11 -17-14 -10-35 -14-13 -8 0 -14 13 -10 33 -9 12 -17 5 -57 4 -33 23 -49 13 -50-2 -65 6 -49-16 -25-14 -82-17 -25-8 -16 1 -41 16 -115 0 0-542zM3086 607l-43 9 -9 8 4 8 18 5 41 1 20-6 5-10 -9-14zM3140 699l-12 8 -15 27 -35 23 -6 17 -4 66 -7 9 -30 13 -6 12 1 16 14 14 49 7 16-3 8-7 17-35 16-9 58-9 11-8 4-8 5-100 -4-30 -8-5 -16-2zM3293 866l-8 8 0 8 7 8 10 1 8-7 1-10 -9-9zM3278 515l32 2 8 7 1 8 -9 13 -32 21 -17 29 -16 4 -17-17 7-50 10-11zM4689 1065l33-7 58 2 9 6 15 33 34 17 16 33 33 17 16 33 24 8 66 1 0 91 -154 0 -3-75 -39-25 -10-25 -7-8 -24-9 -8-8 -10-25 -8-8 -57-17 -7-17 3-8zM3154 1073l9 9 9 34 -1 23 -8 9 -24 9 -9 9 -8 24 -9 8 -23 9 -9 9 -4 16 0 67 -144 0 0-78 74-1 24-10 17-32 33-18 16-32 33-18 16-32zM3672 1165l65-2 91 7 90-2 24 3 10 11 10 42 1 75 -394 0 1-75 16-50 12-5zM3343 1172l17-3 41 4 24 33 41 14 4 12 0 67 -98 0 -2-75 -10-17 -17-9 -5-8 -2-8zM3491 1175l8 0 6 7 -6 16 -8 1 -8-9 1-8zM4082 1215l208 1 13 8 3 8 2 67 -246 0 1-67 3-8zM4476 1215l16 4 11 13 2 67 -49 0 0-67 4-9z"/><path fill="#e2f3fb" d="M2941 207l727 0 0 59 4 9 16 9 16-2 9-8 4-67 394 0 1 67 11 14 16 3 16-9 4-8 1-67 345 0 -1 59 -4 16 -16 9 -57 3 -17 6 -11 16 0 24 4 9 16 11 69 6 37 33 33 4 41-4 13-17 1-58 -9-50 -1-67 390 0 0 301 -172-7 -15-11 -13-33 -38-17 -17-24 -8-8 -8-1 -33 26 -57 5 -41 12 -61 7 -20 33 -34 30 -16 20 -43 26 -15 36 -16 24 -8 0 -25-23 -36-13 -22-42 -21-16 -20-32 -16-6 -49-5 -99 14 -98 0 -50-4 -65 5 -41 11 -25 24 -24 5 -25-12 -6-16 -1-34 -10-12 -57-5 -25 18 -16 4 -16-2 -25-14 -25-3 -41 4 -14 10 2 8 20 18 31 66 -8 16 -14 12 -74 18 -33 14 -10-2 -28-25 -19-3 -17 3 -28 25 -54 2 -10-2 -5-8 3-8 28-17 20-33 30-21 9-13 3-25 -3-25 -10-8 -24-1 -25 17 -73 17 -13 9 -20 31 -8 2 -33-28 -66-14 -16-8 -16-33 -34-17 -15-33 -9-6 -74-2 0-201zM3427 316l0 8 7 6 8 2 8-8 0-9 -8-8zM4222 349l-11 8 -9 17 4 25 16 12 32 9 9 20 8 8 16-1 8-13 0-15 -7-12 -17-14 -9-36 -16-11zM3893 366l-14 8 -2 17 8 10 25 2 3-4 -3-25zM3914 407l2 17 10 12 16 2 7-6 0-16 -7-9 -24-4zM3836 416l-13 8 0 8 5 5 16 3 13-8 3-8 -7-8zM3196 609l8-1 12 8 3 8 -3 8 -12 4 -11-4 -4-8zM3146 705l50-2 13 4 7 9 0 74 -5 42 -9 8 -72 17 -33 35 -25 5 -24-1 -9-6 -3-16 7-8 21-8 9-9 7-83 9-11 30-15 12-24zM4369 714l25-5 41 2 8 5 16 33 17 8 24-8 17-31 16-5 9 4 11 23 13 14 74 7 32 13 2 8 -25 25 -17 27 -22 23 -12 33 -43 17 -14 17 2 16 26 42 22 17 25 6 24-1 17-6 19-24 30-4 24 3 25 23 25 5 16-11 17-25 57-6 17 7 10 24 14 14 82 4 0 190 -66 0 -16-7 -16-34 -34-17 -16-33 -33-17 -16-33 -16-8 -58 0 -57 8 -12 9 -9 16 8 58 0 159 -49 0 0-67 -4-16 -8-8 -16-3 -42 7 -16-3 -49-19 -9-8 -8-17 -16-10 -41-2 -23 4 -9 9 -10 24 -16 11 -49-7 -57 8 -49-9 -83 0 -90 10 -24-5 -15-32 -18-11 -123 2 -107-14 -140 14 -12 9 -21 31 -8 1 -23-32 -18-7 -29 7 -20 23 -8 0 -21-23 -12-6 -49-6 -25 2 -15 10 -6 16 8 50 1 67 -148 0 2-75 10-16 24-9 9-9 4-16 -1-42 -7-16 -21-17 -20-33 -21-11 -16 7 -16 37 -34 17 -16 33 -33 17 -16 33 -24 8 -66 1 0-120 57 0 17-5 18-34 32-17 19-50 5-8 16-9 66 8 24 13 99 24 57-6 58 3 65-14 25-20 49-3 17-5 14-16 11-33 8-7 8-1 8 8 16 42 34 16 24 17 65 10 25-32 17-4 16 5 6 12 -2 25 -37 13 -4 20 4 13 26-4 11-9 9-16 12-6 57-9 49 7 25-2 33-13 33-26 49-11 98 8 58-8 65 0 91 10 33 25 16 1 15-9 17-25 34-13 18-21 -10-46 -3-62 -8-17 -14-8 -65-3 -39-14 -11-15 -9-27 0-16zM3735 1057l-10 9 -6 16 10 16 16 1 18-17 3-25 -4-4zM4029 1116l-13 8 1 16 16 11 16-3 8-13 -3-11 -13-8zM4167 1124l-2 16 16 10 16-6 7-12 -2-8 -13-8 -8 0z"/><path fill="#ffdcb0" d="M4689 457l50 0 38 17 19 27 25 18 57 5 14 8 1 8 -23 19 -5 15 0 50 5 21 16 20 13 25 12 9 82 4 0 282 -66-1 -8-6 -16-32 -25-9 -65 10 -41 13 -42-11 -73 1 -7 7 -10 29 -8 5 -16-3 -8-6 -12-25 -30-15 -2-18 11-9 24 0 8 3 17 22 9 0 7-7 -3-17 -13-22 0-13 27-32 14-33 26-17 6-17 -5-16 -11-8 -41-9 -65-4 -9-5 -16-32 -17-6 -21 5 -20 33 -16 4 -8-4 -17-33 -16-8 -16-1 -41 1 -17 5 -14 12 -7 16 14 50 15 17 50 9 57 1 14 7 5 8 1 108 -12 11 -49 16 -107-10 -336 4 -25 7 -25 25 -90 2 -16-5 -17-24 -16-6 -107 1 -57-8 -11-13 -14-43 -16-16 -8 1 -9 8 -14 25 -10 31 -9 7 -65 6 -82 34 -50-1 -41 9 -24-1 -33-26 -41-12 -74-9 -17-13 0-17 17-45 8-5 66-13 12-12 6-116 7-21 27-13 16-24 14-7 66-8 33-9 41 13 32 1 41-5 41-16 25-25 33-16 9-12 -1-25 -26-25 2-12 8-5 49 5 18 20 15 10 107 10 65-10 25-21 16-6 49-2 50 21 82 1 24-4 33-18 58-2 90 49 26 31 40 14 24 34 17 4 16-7 25-45 32-33 33-19 21-31 10-9 63-17 38-21zM3288 857l-12 17 2 16 16 11 16-2 11-17 -4-16 -15-10zM3048 555l16 3 8 12 -1 12 -13 8 -14 0 -13-8 1-16zM2941 643l58 0 49 9 98 2 59 20 -9 8 -50 3 -16 8 -25 33 -24 16 -12 15 -7 75 -6 9 -34 16 -11 25 4 17 8 11 41 17 3 5 -11 8 -123 3 0-300zM4722 1073l53 1 18 33 32 17 17 33 32 17 18 33 11 8 24 5 66 1 0 78 -133 0 -1-67 -6-25 -40-25 -9-24 -8-9 -24-9 -8-8 -9-24 -8-9 -33-13 -3-4z"/><path fill="#bcdcf8" d="M2941 207l446 0 1 117 3 8 10 6 33 9 24-6 15-42 10-7 16-3 140 0 49 8 57-8 58 0 49 5 41 10 16 12 2 8 -1 8 -9 8 -32 15 -24 35 -58 26 -9 12 -2 21 -6 4 -82-8 -41 16 -57-7 -99 13 -41-3 -49 3 -41-8 -33 0 -36 7 -30 19 -65 26 -91-13 -16-7 -17-34 -32-15 -11-26 -14-14 -82-4 0-191zM4903 207l90 0 0 291 -172-6 -10-10 -9-33 -14-11 -17-6 -6-8 5-17 26-17 9-24 8-9 24-9 8-8 9-24 40-26 4-16 1-67zM4082 305l57 8 50-8 15 11 1 16 -16 17 -58 6 -16 13 -1 14 5 8 29 17 10 17 1 42 -11 16 -66 6 -140-3 -49 9 -57 0 -17 6 -16 24 -8 6 -16-6 -1-71 58 9 57-17 41 17 17-1 15-12 9-31 8-11 25-4 4-4 5-33 9-9 23-9 8-8 9-24zM4012 407l5 33 8 8 16 1 8-12 -1-21 -15-12 -17-1zM4673 355l16 3 10 16 -5 16 -21 10 -8-2 -10-16 2-16zM4353 398l33-5 49 8 33-7 16 1 19 12 9 17 -8 50 -7 16 -29 17 -22 33 -36 17 -16 40 -8 8 -8 1 -58-23 -21-59 22-108 7-10zM4566 423l17-3 10 4 -2 8 -16 3 -10-3zM3442 505l49-1 16 7 17 22 33 22 8 15 -1 12 -7 10 -17 6 -65 5 -33-3 -63-18 -2-8 3-8 29-17 8-9 9-24zM3146 714l50-2 9 4 5 8 1 58 -7 41 -9 9 -57 14 -33 17 -16 1 -6-15 1-75 13-16 25-9 16-29zM4394 715l41 4 16 32 9 8 16 5 25-7 21-33 11-2 17 27 16 12 66 5 19 8 3 8 -36 42 -27 61 -8 6 -50 16 -8-3 -8-14 -6-66 -10-23 -17-9 -65-4 -14-6 -27-26 -10-16 1-15 9-7zM3590 937l8 0 19 45 1 67 4 4 41 0 4 4 0 59 -2 8 -10 10 -65 6 -42 20 -49-11 -57 3 -99-13 -49 12 -16-11 -12-24 -29-21 -25-29 -49-23 -17-2 -16 11 -17 39 -32 16 -17 35 -33 15 -16 34 -16 7 -66 0 0-95 66 0 16-5 25-40 23-9 9-9 11-33 14-11 107 8 74 17 24 0 49-9 50 7 33-9 49-5 74-15 16-16zM3588 1057l-11 9 -4 16 17 17 16-1 11-16 1-25 -4-4zM3349 1066l-13 8 -1 8 8 16 8 1 17-17 -1-8 -7-7zM3486 1066l-2 16 7 7 8 1 15-8 1-8 -8-12 -8-4zM4517 953l16-3 9 7 19 42 22 14 57 0 41-9 33-1 49 14 17 0 23-10 14-25 10-8 35-3 16 7 14 29 19 12 82 2 0 164 -69-3 -18-33 -32-17 -17-33 -33-17 -17-33 -27-14 -74 1 -41 7 -43 23 -7 8 -8 25 -8 7 -16 6 -25-1 -40-12 -18-25 -16-9 -16 1 -9 8 -8 16 -16 11 -49 2 -58 10 -90 0 -49-18 -17 2 -33 15 -49 1 -65-23 -12-16 0-42 7-16 44-34 18-7 16 2 33 15 41 1 25-2 33-16 54-1 39 16 55 4 41 19 16 2 16-8 25-32zM3688 1015l16 3 8 14 -16 18 -24 3 -4-4 3-25zM3885 1023l14 1 11 8 3 17 -3 4 -41 0 -4-4 3-17zM3836 1056l24-3 13 37 20 10 16-10 5-33 4-4 33 5 7 8 5 16 -4 47 -17 8 -49 1 -49 9 -25-2 -43-13 -5-8 3-8 29-21 20-29zM4230 1157l13 0 10 9 1 8 -5 8 -11 4 -19-4 -4-8 3-8zM4525 1155l17 3 8 12 -2 12 -14 8 -17-3 -9-13 2-8z"/><path fill="#ffa628" d="M4665 473l49-5 25 4 49 34 32 34 19 9 9 17 4 83 10 32 8 9 49 26 74 2 0 195 -123 1 -37 18 -53 9 -107-8 -9-9 -9-42 18-55 28-28 2-25 -8-17 -55-14 -57-3 -13-8 -12-25 -25-10 -24 5 -21 30 -12 3 -17-28 -16-12 -49-4 -25 3 -16 8 -37 22 -4 8 1 8 23 26 11 24 22 17 41 7 62 2 12 4 6 20 -5 34 1 42 -2 10 -8 7 -74 11 -74-7 -41 5 -106 2 -50-7 -90 8 -57-6 -50 13 -82 1 -41-9 -164-10 -8-9 -16-51 -9-9 -16-5 -17 2 -8 7 -25 58 -8 7 -49 3 -33 13 -57 12 -58-6 -24 20 -17 6 -16-6 -17-21 -16-10 -99-10 -9-3 -6-8 7-44 8-6 58-13 16-12 5-17 -1-58 5-50 8-13 26-12 22-25 34-10 66-10 49 15 41-1 65-17 15-11 18-26 38-15 8-9 12-30 7-3 42 10 107 5 65-8 66-20 16 1 33 14 25 4 90 0 49-10 50 1 50 12 32 24 32 17 33 10 9 7 16 27 25 9 25-11 21-33 22-17 17-25 30-17 24-34 66-14 49-20zM4023 724l-2 8 12 8 8 0 12-8 -2-8 -10-3zM3285 849l-16 17 -2 16 3 17 16 10 33-3 10-16 -3-24 -16-16zM2941 663l156 5 19 6 -3 13 -32 28 -20 34 -7 67 -8 16 -47 19 -66 2 0-190z"/><path fill="#64b3f3" d="M2941 207l431 0 2 125 10 16 17 5 41 4 16-3 14-14 11-30 24-7 132 0 49 4 107-3 53 12 10 8 1 8 -7 11 -30 23 -12 16 -40 23 -16 25 -9 5 -16-1 -25-17 -16-2 -16 8 -17 15 -16 4 -41-3 -99 13 -49-8 -57 8 -91-8 -65 23 -33 24 -91-6 -16-7 -16-32 -33-18 -14-29 -11-8 -24-5 -66-1 0-178zM4919 355l74-2 0 132 -164-4 -6-7 -1-8 23-26 9-24 9-9 23-9 9-8 8-24zM4090 407l12 9 6 16 -10 16 -8 2 -8-1 -9-17 2-16 7-8zM4378 415l16 3 17 22 16 11 16-3 17-24 16-8 14 8 3 16 -8 42 -32 17 -20 33 -31 14 -16 37 -8 5 -33-6 -16-8 -10-42 1-11 8-13 24-18 6-58 4-8zM3877 472l16-5 9 7 -17 6zM3491 555l49 10 8 9 -4 8 -12 3 -49-1 -9-10 2-8zM3154 724l33-1 13 9 2 42 -6 25 -33 30 -50 18 -16 1 -8-17 3-57 8-8 30-13zM4386 730l24-4 17 3 15 28 17 17 -24 5 -15-5 -18-25 -15-9zM4525 739l8 0 17 21 16 11 66 11 -25 24 -16 52 -8 17 -11 7 -30 7 -9-1 -5-6 -15-75 -12-16 -13-9 0-8 21-14zM4517 972l8-3 10 5 18 58 1 17 -4 4 -80-13 -9-8 6-16 26-17zM4082 1006l112 10 12 8 3 25 -4 4 -33 5 -18 24 -13 8 -60 0 -13-8 -5-8 -1-25 2-25zM4279 1005l41 7 66 3 12 9 3 16 -8 9 -24 9 -16 24 -17 9 -90 2 -24-6 -11-13 -1-17 3-4 33-5 8-8 9-24zM3540 1015l17 2 7 7 -3 16 -13 9 -16-5 -8-12 2-8zM3097 1020l8-3 8 2 8 13 -16 46 -36 21 -13 29 -33 18 -16 32 -17 7 -57 0 0-67 66 0 24-6 14-13 11-26 33-17zM3187 1023l25 0 5 9 -12 8 -9-1 -11-7zM3442 1022l17 2 8 8 -8 58 -9 11 -25 2 -4-4 1-59 3-8zM3335 1030l16-4 11 6 -8 8 -11 1 -8-2 -4-7zM4616 1030l16-2 8 4 -19 8 -9-8zM3294 1055l11 2 6 9 -1 21 -8 11 -16-4 -9-12 2-16zM4558 1053l28 4 6 17 -9 14 -8 2 -16-8 -4-16zM3393 1106l24-3 4 4 -3 17 -9 8 -25-1 -5-7 2-8zM3532 1106l16 0 9 5 7 13 -3 8 -13 8 -16 1 -49-9 -7-8 6-8zM3836 1107l8 0 12 9 2 8 -6 6 -22 2 -8-8 2-8z"/><path fill="#fb8600" d="M4665 506l57-2 50 10 13 10 19 32 25 13 5 13 8 100 12 19 32 19 9 9 8 61 8 8 16 5 66 0 0 90 -123 0 -57 10 -74 0 -24-4 -9-10 -4-23 9-92 -6-17 -7-7 -58-16 -57-6 -18-29 -15-7 -41 2 -25 23 -8 0 -16-21 -17-11 -51-11 18-6 33-22 22-31 27-16 33-41 65-9 26-30zM3934 565l17 4 16 22 17 10 246 2 57 12 41 11 33 37 23 11 -48 26 -57 13 -181 0 -49-9 -24 0 -41 12 -7 8 0 8 7 8 49 21 49-6 15 2 18 25 16 9 189 2 16 5 42 23 90 6 9 5 -1 13 -8 6 -49 7 -11 16 -5 50 -17 8 -17-2 -33-16 -57 18 -98 1 -33-16 -17-2 -41 17 -57 1 -17-7 -24-20 -33-3 -123 2 -8 3 -17 17 -24 6 -18-7 -15-17 -25-9 -25-27 -57-4 -41-16 -16-2 -27 8 -14 33 -9 9 -56 8 -24 25 -10 4 -57 5 -17-9 -30-33 -9-33 -10-15 -17-13 -16-3 -16 3 -15 11 -7 17 -3 24 -8 11 -49 0 -14-11 1-8 37-12 21-21 3-25 -6-50 12-50 85-49 66-5 35 20 63 10 29-26 37-17 25-32 49-18 24-4 230-2 16-11 9-16zM2941 703l66 2 16 11 4 16 0 42 -4 16 -8 8 -16 5 -66 0 0-100zM3294 923l16 2 7 7 -3 8 -12 8 -16-6 -5-10z"/><path fill="#2196f2" d="M2941 207l136 0 0 67 4 16 9 9 23 9 9 8 8 24 9 9 24 9 8 8 9 24 16 11 16-3 8-9 6-65 11-16 24 0 8 8 9 24 10 9 14 2 16-11 5-24 0-109 34 0 1 125 10 24 16 9 50 5 24-1 20-12 14-33 15-6 271 0 25 4 7 10 -7 13 -33 21 -16 27 -17 7 -49-7 -41 9 -57 3 -9 3 -24 24 -50 5 -28-5 -13-17 -16-10 -16 3 -21 24 -20 5 -58-4 -25-25 -16-3 -8 3 -18 24 -15 9 -57 11 -50-1 -16-11 -8-24 -9-8 -23-9 -9-9 -9-24 -8-8 -24-9 -8-9 -9-24 -8-8 -16-5 -66 0 0-96zM3154 757l16 9 1 16 -4 8 -29 17 -25 24 -8 1 -6-16 2-34 10-8zM4525 764l11 2 22 25 25 18 3 23 -11 17 -25 4 -17-7 -19-64 1-8z"/><path fill="#e64b1e" d="M4673 555l16 3 9 8 8 24 9 9 24 9 8 8 9 24 8 9 24 9 8 8 9 24 32 23 8 11 -1 16 -8 9 -23 9 -11 16 3 16 8 8 23 9 9 9 2 16 -10 16 -33 5 -41-5 -8-8 -8-24 -18-17 -11-42 -12-16 -41-13 -25-21 -23-8 -9-9 -5-33 5-41 8-9 24-9 8-8 9-24zM3598 655l730 1 14 10 5 8 -2 5 -9 6 -29 5 -209 3 -65-5 -49 5 -17 7 -7 7 -6 25 6 17 7 7 33 13 16 22 17 10 57 3 41 9 205 3 18 16 2 42 -3 9 -10 7 -64 12 -90 0 -50-9 -57 9 -41 0 -16-7 -17-29 -16-11 -345-2 -69-21 -21-24 -17-3 -16 11 -8 24 -9 8 -73 10 -9 8 -8 24 -16 10 -21-10 -12-24 -31-26 -27-33 -49-6 -10-11 -2-16 4-15 28-35 13-8 49-12 50 0 57 11 16 9 17 24 23 1 9-9 17-29 25-15 24-31zM4476 656l57-1 15 11 -1 8 -38 9 -25 11 -8-1 -14-19 2-8z"/><path fill="#b21c1c" d="M3590 706l98-3 16 5 8 8 4 16 1 75 -2 17 -6 8 -37 6 -25 0 -18-6 -10-16 -5-50 -9-9 -24-9 -8-10 0-15z"/><path fill="#e64b1e" d="M4673 556l16 4 19 30 31 19 18 31 31 19 18 31 37 26 3 8 -3 16 -30 19 -9 15 3 16 30 19 8 13 -2 18 -10 9 -45 4 -25-6 -24-38 -31-19 -19-31 -31-19 -18-31 -31-19 -6-24 4-47 9-10 24-12 19-31zM3590 655l746 0 14 11 4 8 -4 16 -14 11 -344 3 -22 12 -4 16 9 15 31 19 12 24 15 11 303 4 15 11 4 8 0 58 -10 15 -25 6 -279-1 -16-5 -19-31 -14-11 -394-3 -23-12 -18-30 -17-4 -14 10 -19 31 -16 5 -54 5 -10 9 -18 30 -16 4 -15-10 -18-31 -31-19 -19-31 -16-5 -49-3 -8-5 -9-12 3-18 37-26 18-31 16-5 148 1 15 11 18 30 18 3 13-9 12-24 31-19 18-31zM4476 655l41-2 21 4 13 17 -4 16 -22 12 -53-3 -10-9 -3-16 3-8z"/><path fill="#b21c1c" d="M3590 705l98-1 23 12 6 24 0 76 -3 16 -10 15 -16 5 -41 0 -23-12 -5-16 -5-55 -8-10 -25-12 -9-15 4-16z"/></g>
<path transform="translate(396.3,75.3) scale(0.1)" d="M56 -414l11-9 24-5 18 2 28 4 17 2 21 4 22-6 24 3 30 3 31 5 18-3 31 4 7-6 22 2 16-5 25 16 -10 3 -2 8 -10 11 0 19 14 12 24 6 29 6 11 14 15 6 -9-17 4-12 -15-12 -6-11 -11-11 18 1 23 7 12 13 15-4 0-5 31 22 26 12 18 11 -6 12 -22 2 -11 5 15 5 7 12 21 6 -21 7 -18 4 4 12 -14 8 -2 12 1 10 7 11 -7 4 -8 8 -7 11 8 18 6 16 -4 5 -11-14 -6-13 -11-2 -16-3 -7 7 -8-1 -16-2 -13 12 0 17 1 17 12 20 9 5 16-2 3-15 16-3 2 18 -3 16 13 0 12 6 4 19 1 9 10 9 13-3 11 6 1 3 -3 5 -11-1 -3-5 -14 0 -15-11 -1-7 -11-12 -19-5 -18-13 -13 2 -20-8 -20-8 -12-11 0-11 -8-11 -15-14 -13-14 -13-19 -11-4 7 11 9 9 7 13 7 12 5 10 -14-13 -12-19 -12-14 -10-14 -9-9 -11-4 -9-12 -8-9 -6-11 -6-13 -5-26 -8-13 7-4 -11-6 -14-6 -5-9 -15-11 -16-15 -16-9 -20-7 -18-1 -16-3 -16 7 -8 13 -17 6 -18 6 -11 3 19-12 10-12 -20 0 -13-11 -5-8 4-7 13-7 -21-1 -8-5 15-5 -9-11M376 -461l2-11 17-5 42-4 45-2 45 6 33 12 29 18 17 15 7 10 -12 9 -5 13 -14 5 17 28 -28-6 -29-17 -25-16 -22-16 -32-20 -35-9 -22 0 -30-10M483 -403l5 19 -10 3 -27-11 -23 0 6-11 3-5 -36-14 -30-2 -25-15 29-1 21 6 34 10 26 10 27 11M247 -416l31 0 34-3 -5-8 -27-10 -27 0 -15 5 9 16M342 -454l22-2 -1-9 19-10 3-4 -45-2 -44 4 8 5 38 18M211 -431l20 7 16-5 -10-10 -21-4 -5 12M326 -444l45 0 -8-7 -39-3 2 10M227 -449l49 2 -8-5 -44 0 3 3M299 -461l25-2 -16-10 -21 1 12 11M316 -434l17 2 5-7 -24-3 2 8M559 -50l10-15 13-6 7-6 4 9 17 3 22 0 13 0 9 12 18 16 22 3 11 9 6 16 8 15 22 10 25 1 15 13 11 7 -2 19 -12 15 -13 13 -4 24 -9 16 -8 16 -17 3 -25 15 -7 16 -16 15 -20 19 -14 9 -14 3 -1 6 -7 11 -25 5 -7 11 -14 1 -3 9 -12 16 -16 9 2 9 -20 15 -10 10 0 5 3 11 -11 3 -12-3 -6-11 4-18 12-18 16-22 10-15 9-22 12-15 11-19 7-24 10-19 7-31 0-10 -9-9 -17-18 -7-16 -9-25 -8-12 5-12 2-6 -4-10 4-9 3-6 5-7 5-9 0-15 -1-10M894 -222l-2 30 2 9 -11 11 -3 23 -6 19 6 12 4 19 -3 8 6 13 11 10 11 12 13 13 21 15 19-4 16 1 5-3M-983 -34l11-5 16 4 8 8 11-1 6 6 -2 16 -1 12 13 17 5 14 7 16 4 16 -5 21 2 15 14 22 9 13 12 27 11 10 18 21 8 14 10 4 11-5 17-1 9-8 5-13 5-12 -3-16 11-12 -4-13 -5-12 8-12 13-10 4-12 -4-22 -7-18 -4-10 2-12 8-16 13-15 14-13 12-12 9-18 10-19 2-8 -13 4 -22 4 -8-7 -2-12 -7-7 -8-7 -3-14 -3-18 0-6 -5-12 -2-13 -2-13 0-11 2-8 -5-3 -13 4 -18-5 -13-6 -12 3 -8 11 -16-4 -10-10 -7-3 -6-2 10-14 7-7 -6-2 -14 2 -22 1 -19 6M925 -222l-7 4 -16 0 -8-4M-710 74l9 22 -3 12 -2 19 -1 22 -8 9 -9-3 -8-19 3-12 -5-19 9-7 8-11 7-13M848 -266l16 24 11 13 12 0 9 6 2-5 13 0 1-9 -2-8M-910 -245l12-9 16-6 6-8 8-1 8 2 8-4 13-3 -2 8 3 9 9 9 -7 12 6-3 6-5 1-6 9 1 -4-5 0-6 -7-4 -1-10 6-7 8-1 1 2 0 8 5 6 5 7 -8 9 1 6 -1 9 0 9 8-6 3-7 4 2 2-13 9-3 10 0 0 4 -4 4 -2 9 1 8 11 3 10 1 12-4 7 2 -6 9 -8 12 -8 10 -2 1 -1 11 -5 9 4 4 3 15 5 9 0 13 6 12 3 13 4 12 1 15 9 2 17-8 17-7 8-4 16-10 10-7 8-8 5-7 9-10 -6-7 -9-7 1-8 -5 4 -10 8 -13 0 2-10 -5 6 -1-8 -2-6 -3-9 0-8 8-1 4 5 3 8 11 8 13-3 4 9 20 3 17-1 10 0 3 5 5 8 8 4 -6 0 6 11 12-3 -1 14 0 16 5 15 2 9 4 16 4 11 6-4 8-9 3-10 5-22 8-6 6-5 12-11 12-7 4-8 11-2 8-5 7 2 2 11 7 10 -1 18 7 1 11-4 4 21 -1 19 -3 11 9 11 2 15 6 8 11 9 3-1 -3-16 -2-10 -6-3 -8-10 -2-10 -4-7 6-14 3-5 6 5 4 5 2 6 8 3 2 9 10-8 12-7 3-13 -1-12 -11-12 -4-10 6-8 8-8 9 1 4 7 3-7 11-5 9-2 11-3 9-9 9-9 7-13 9-12 -1-6 1-8 -4-8 -4-9 8-7 11-5 -5-3 -10 1 -2-5 -3-6 5-2 13-9 6 2 -7 9 7-5 9 0 3 8 5 7 -4 15 6 2 10-4 3-10 -4-11 -3-6 13-8 7-8 7-6 7 3 11-7 12-10 19-18 3-15 6-7 -1-6 -15-5 1-2 22-24 12-5 20 1 13-2 14 2 7-4 8-9 13-1 16-3 -9 18 -22 9 -9 15 0 23 10-10 8-9 11-11 7-11 6-10 9-4 17 3 12-9 17-5 9 0 -6-12 14-5 13 2 14 4 2-6 9-3 -18-5 -24-9 -16-6 -21-1 -18 2 -20 0 -3-6 -19-1 -19-2 -18-4 -18-1 -10 5 -19 0 -13 2 -2-7 -7-5 -16 2 -14-2 -18-1 -10-2 12-7 -17-9 -22 4 -10 4 -18-1 -23 4 -10 5 -3 5 -20-2 -9 5 -15 0 -6-2 -17 9 -11 13 -12-1 -2-9 -33 8 -23 2 -12 0 -28 0 -5 1 -15 5 -18 9 -23 9 -7-2 10-8 -2-6 13 1 26-5 -5-5 -16-4 -12-3 -8-5 -27 5 -31 8 -19 8 -14 8 -19 8 -24 8 -18 6 -18 14 -2 6 9 0 21-8 0 2 -7 9 -5 8 1 4 13-4 11-8 7-6 15-5 4-6 4-6 8-5 13-6 16-5 14-7 9 0 -2 4 -8 4 -19 7 -17 11 0 6 17-3 14 2 -11 4 -19 1 -7 4 -4 6 -16 3 -9 8 -15 7 -9-2 -18 5 -8-2 -8 2 1-5 13-9 10-8 -13 3 -13 10 -8 9 -10 2 -12 3 -12 8 -14 4 -8 5 -11 4M857 -306l-7-1 3 6 -12 2 17 7 13 7 8 10 3 6 -11 0 -21-2 -2 5M-757 -255l10 0 16-5 8 0 4 4 6 3 11-1 9-3 5-7 -5-5 -5-6 -2-5 -3 0 -9 3 -9 2 -1-6 8-4 -5-3 -5 0 -9 6 -4 3 -8 5 -9 8 -4 6 1 5M-634 -288l9-3 9 2 -5 9 -12 5 -7 9 6 6 -5 9 1 9 -5 10 -17 4 -6-4 0-7 9-10 4-1 -4-9 0-7 5-9 2-7 16-6M-261 -194l6-1 6-15 8 3 8-1 3-6 7 1 2-2 9-1 6-2 5-4 2-10 4-7 3-6 -1-10 -6 0 -3 7 -2 8 -7 6 -9 5 -1-2 -5 8 -3 3 -13 0 -9 6 -4 3 -6 5 1 8 -1 4M-200 -257l5-1 11-2 13-8 -4-4 -11-9 -2 2 -3 10 -5 1 -3 5 -1 6M-185 -285l8-3 0-15 7 0 -4-15 4-16 -2 0 -6 10 -1 9 -4 18 -2 12M-320 -140l3 4 7-16 -1-5 -6 5 -3 12M-384 -115l7 2 6-9 -4-3 -7 2 -2 8M-546 -50l2 13 8-8 -5-14 -4-1 -1 10M-463 -34l12 2 14 16 18 19 6 9 8 7 1 17 -8 1 -13-12 -8-13 -10-15 -7-11 -9-10 -4-10M-408 42l4-5 14 3 11 2 11 1 11 5 -1 6 -18-3 -17-3 -14-5 -1-1M-388 -9l3-3 8 2 11-9 8-10 6-4 8-10 12 10 -7 6 -1 16 6 5 -8 5 -5 10 0 11 -9 5 -10-5 -7 0 -9-2 -1-9 -5-6 0-12M-331 35l1-13 -4-10 5-12 2-5 14-1 11-3 -10 7 -14-1 5 9 11 0 -10 5 8 16 -6 4 -6-14 -2 18 -5 0M-268 8l8-6 9 4 5 14 14-11 16 7 22 8 7 9 10 6 1 11 12 14 -10-1 -11-13 -11-2 -4 8 -13 0 -11-6 -5 2 -3-4 6-5 -4-10 -15-6 -9-3 -3 1 -5-7 -6-10M-320 -115l9 0 -2 10 -4 7 1 10 12 7 -8-4 -10-3 2-8 -5-5 3-7 2-7M-317 -43l9-5 11-13 6 16 -4 6 -3 4 -8-5 -11-3M-316 -65l11-6 9-7 -4 16 -11 3 -5-6M-305 63l17-11 -12 5 -5 6M-356 136l2 19 11 25 4 18 3 15 16 5 9-7 18-1 12-10 15-4 12-1 16 7 9 14 1-8 8-6 0 12 6 0 -2 7 9 4 6 11 16 4 14 2 7-8 11-2 0-12 4-12 6-10 2-12 1-12 -3-14 -4-8 -9-12 -7-2 -6-12 -12-9 -3-12 -3-12 -9-4 -2-10 -6-13 -5 14 1 16 -5 12 -8-1 -12-8 -8-7 6-16 -7-2 -16-3 -6 5 -7 5 -3 11 -11-5 -8 1 -5 8 -7 9 -7 8 -5 8 -12 5 -12 2 -9 7 -6 1M-177 252l18 1 1 8 -5 8 -9-6 -5-11M-38 214l9 7 8 8 13 5 -5 10 -3 1 -7 13 -4-2 2-9 -6-4 4-7 -1-10 -10-12M-37 251l9 7 -6 8 -2 5 -7 4 -3 9 -7 4 -13-3 1-5 7-8 11-6 5-7 5-8M828 -309l9-3 11-3M-848 -315l7-1 12-9 -2-4 1-2M830 -331l-7-4 -12-7 -6-3 -7-1 -3-7 -13-6 -7 0 8 9 7 6 9 4 10 2 2 4 10 6 -9 0 8 4 -1 5 11 2 -2 8M813 -322l-12-11 -3-3 -11-4 -2 3 -3 3 4 4 7 9 6 3 7-1 7-3M660 -391l-15-7 2-5 22 1 13 3 9 3 0 5 -9 5 -19-2 -3-3M-589 -463l0 7 6 2 20-4 32-6 -6-6 -15-1 -27 4 -10 4M-491 -428l17 3 5-12 25-11 39-7 4 1 -37 7 -25 10 -9 1 -19 8M-290 -465l23 4 13-6 -14-6 -19 1 -3 7M-449 -470l27-2 26-1 -8-3 -31 3 -14 3M-157 -449l15 7 24-5 -6-3 -21-1 -12 2M-6 -427l10 1 8-3 -12-1 -6 3M509 -136l12-7 13 0 15 8 19 10 -18 2 -4-6 -18-6 -19-1M569 -115l7-8 16 1 10 7 -9 2 -8 4 -16-6M584 -294l7-12 -6-12 20 12 9 12 -8 5 -22-5M-173 34l9-2 8-6 4 2 -6 6 -6 4 -9-2 0-2M-111 58l6 2 0 1 -6 0 0-3M-106 52l5 5 -1 2 -4-4 0-3M-85 125l10 8 5 5 -2 0 -11-9 -2-4M-15 108l7-1 0 6 -7-1 0-4M130 -118l4-2 0-3 -5-2 0 3 1 4M117 -132l3 0 -2-3 -1 1 0 2M-328 53l17-2 -1 3 -15 1 -1-2M-345 53l12-2 0 3 -10 2 -2-3M-358 51l7 1 5 0 0 3 -11-1 -1-3M-287 -11l5 2 -3 6 5 3 -5 4 -3-7 1-8M-284 20l15 1 -2 3 -12-2 -1-2M-295 19l6 1 -2 4 -4-2 0-3M-73 92l4 2 -1 5 -3-3 0-4M559 317l14 0 -6 5 -8-1 0-4M-705 423l38 0 38-1 36-3 16-3 17-2 14-6 14-5 20-1 25 5 22 1 25 6 14 7 11-2 7-5 9-8 23-3 28 0 19-3 21 2 20-2 22 3 21 0 20-1 20 0 20 0 22 3 21 3 22 6 21 2 20 6 13 2 12 5 15 0 3 5 -9 8 -13 7 -6 7 8 4 10 1 11 0 35 1 35 1 35-2 8-4 22-1 28-7 39-5 39-3 36 2 36 1 23-5 21-2 19-1 36 2 25-6 17 2 19-18 2 6 20-16 22-11 38-9 -14 6 -17 8 -14 11 -7 11 -18 15 -15 10 0 4 -7 5 30 4 34 1 22-3 30-7 35-9 34-5 35-8 33-3 24-3" fill="none" stroke="#000" stroke-width="9" stroke-linejoin="round"/>
</g>
<path d="M448.7,125.3 451.1,124.6 453.7,123.7 456.7,122.6 459.8,121.3 462.8,119.9 465.6,118.3 468.2,116.8 470.7,115.1 473,113.4 475.3,111.7 477.5,110 479.6,108.2 481.6,106.4 483.3,104.5 485,102.7 486.5,100.8 487.9,98.9 489.1,97.1 490.2,95.2 491.1,93.3 491.9,91.4 492.5,89.5 493.1,87.6 493.5,85.7 494,83.8 494.3,81.9 494.5,80 494.7,78.1 494.8,76.2 494.8,74.4 494.7,72.5 494.5,70.6 494.3,68.7 494,66.8 493.5,64.9 493.1,63 492.5,61.1 491.9,59.2 491.1,57.3 490.2,55.4 489.1,53.5 487.9,51.7 486.5,49.8 485,47.9 483.3,46.1 481.6,44.2 479.6,42.4 477.5,40.6 475.3,38.9 473,37.2 470.7,35.5 468.2,33.8 465.6,32.3 462.8,30.7 459.8,29.3 456.7,28 453.7,26.9 451.1,26 448.7,25.3 343.9,25.3 341.5,26 338.9,26.9 335.9,28 332.8,29.3 329.8,30.7 327,32.3 324.4,33.8 321.9,35.5 319.6,37.2 317.3,38.9 315.1,40.6 313,42.4 311,44.2 309.3,46.1 307.6,47.9 306.1,49.8 304.7,51.7 303.5,53.5 302.4,55.4 301.5,57.3 300.7,59.2 300.1,61.1 299.5,63 299.1,64.9 298.6,66.8 298.3,68.7 298.1,70.6 297.9,72.5 297.8,74.4 297.8,76.2 297.9,78.1 298.1,80 298.3,81.9 298.6,83.8 299.1,85.7 299.5,87.6 300.1,89.5 300.7,91.4 301.5,93.3 302.4,95.2 303.5,97.1 304.7,98.9 306.1,100.8 307.6,102.7 309.3,104.5 311,106.4 313,108.2 315.1,110 317.3,111.7 319.6,113.4 321.9,115.1 324.4,116.8 327,118.3 329.8,119.9 332.8,121.3 335.9,122.6 338.9,123.7 341.5,124.6 343.9,125.3Z" fill="none" stroke="#000" stroke-width="0.9"/>
<g clip-path="url(#c11)">
<g transform="scale(0.1)" fill-rule="evenodd"><path fill="#fff1dd" d="M4517 1398l16 1 8 9 1 24 -9 10 -57-9 -14-9 -1-8 10-8zM4566 1457l25 2 7 7 0 8 -15 9 -17-4 -8-13zM3245 1524l8-3 2 3zM3187 1555l17-4 16 6 15 51 2 16 -4 17 -21 16 -25-4 -14-21 2-58zM3532 1588l16 1 9 6 5 13 -3 24 -11 10 -24-1 -12-17 4-25zM3688 1588l8 2 12 9 16 42 13 10 8 0 58-24 29-19 45-12 312-4 16 10 19 30 39 12 32 21 30 67 53 12 16-3 10-9 16-74 15-8 57-14 19-28 14-11 50-2 49-9 49 13 115 2 10 7 15 29 32 21 2 16 -10 12 -74 21 -4 17 7 8 79 17 12 9 13 18 8 3 41 5 74 1 0 402 -57 0 -20-5 -17-33 -32-17 -17-33 -21-11 -49-9 -58-1 -41 3 -57 13 -23-12 -6-16 5-17 7-7 25-11 27-73 36-17 8-17 -11-58 -4-8 -15-7 -14 7 -11 25 -41 16 -10 17 -6 23 -8 9 -8 0 -9-9 -8-57 4-24 13-8 65-6 8-4 4-16 -4-16 -8-8 -16-5 -66 2 -33 8 -13 11 -10 50 -1 100 7 50 -4 25 -20 38 -8 5 -49 4 -23 20 -7 16 1 50 12 19 17 10 55 5 9 8 3 58 -10 17 -16-1 -8-9 -9-23 -8-8 -16-3 -58 13 -24 30 -17 5 -279 0 -24-5 -11-16 0-50 11-14 32-12 12-16 9-58 -1-16 -9-26 -19-19 -41-4 -24 3 -25 22 -17 9 -49 2 -24-9 -42-45 -16-125 -8-14 -8-5 -111 11 -21 33 -36 17 -29 77 -8 8 -58 3 -33 7 -49-7 -57 5 -19 7 -23 18 -49 10 -49-9 -49 0 -17-7 -11-38 3-66 8-17 23-17 4-8 16-116 7-12 25-14 14-41 28-17 16-33 15-8 16-1 57 17 26 36 71 14 8 9 11 30 8 6 16 2 20-14 13-43 17-7 41-3 12-5 6-16 3-92 12-19zM3729 1749l-10 17 3 16 15 11 17-4 9-15 -3-16 -15-11zM4376 1958l-10 16 -3 42 6 17 17 5 8-4 6-10 -2-50 -10-16zM2941 1742l82 1 38 6 10 9 10 25 23 25 2 8 -7 8 -19 8 -48 17 -8 17 -1 16 8 51 9 10 24 13 17 35 36 17 6 8 0 16 -10 13 -24 10 -10 11 -15 62 -33 17 -16 33 -16 8 -66 1 0-445zM3146 1754l8-1 5 5 2 8 -7 9 -11-1 -3-8zM3532 2198l25 0 41 11 52-1 13 8 17 25 49 13 16 0 17-6 16-25 8-7 9 0 24 32 74 15 8 11 -1 8 -7 9 -24 4 -124 0 -57-10 -49 0 -66 10 -74 0 -49-10 -66 1 -41 10 -16 12 -4 16 0 67 -232 0 0-59 5-16 34-18 16-34 33-16 14-32 9-8 59 6 25 26 16 3 17-10 13-17 11-4 99-9 57 5z"/><path fill="#e2f3fb" d="M2941 1299l923 0 1 59 4 18 16 16 33 3 24-2 17-12 4-15 0-67 148 0 3 75 17 18 25 3 4-4 0-92 148 0 0 67 4 15 8 9 25 10 24 37 17 7 49 2 53 12 13 8 21 25 67 17 10 8 2 8 -10 16 -25 10 -19 24 -38 17 -25 33 -57 18 -13 7 -7 17 -6 58 -7 10 -16 4 -28-6 -17-8 -6-8 -11-50 -12-19 -17-10 -51-13 -27-33 -20-12 -99-1 -65 9 -99-7 -74 4 -16 2 -58 23 -33 22 -11-7 -30-59 -8-7 -16 0 -49 50 -4 66 -5 17 -16 11 -24 6 -9 6 -6 18 -3 42 -7 11 -17 4 -11-7 -13-37 -73-21 -19-33 -42-17 -9-16 -4-42 -9-13 -17-7 -82-2 -16-9 -4-11 4-14 24-12 9-9 3-15 -10-16 -26-7 -15 7 -10 25 -41 13 -12 12 -7 24 -2 42 17 67 -29 9 -6 8 -27 68 -8 5 -8-3 -25-37 -16-8 -123 2 0-140 66 0 15 4 9 9 9 24 16 10 8-3 8-12 11-53 -3-16 -40-26 -9-24 -8-8 -16-5 -66 0 0-196zM4160 1399l11 75 10 16 16 2 41-10 7-8 0-16 -7-10 -24-16 -9-24 -16-11 -25-2zM3884 1449l-16 17 -3 25 4 4 24-2 17-13 -1-22 -10-9zM3835 1499l-7 12 0 15 8 13 16 1 11-16 1-25 -4-4zM3489 1549l-11 9 -7 16 0 84 4 17 8 7 16 1 66-37 8-22 0-25 -4-25 -12-15 -50-11zM4460 1299l45 0 -2 67 -3 8 -14 8 -18 0 -9-8 -3-75zM4895 1299l98 0 0 446 -115-1 -65-9 -33-11 -2-8 16-8 51-11 10-6 8-25 -9-24 -33-18 -10-16 -15-12 -123-7 -18-7 -11-16 13-108 16-11 16 3 9 8 8 24 16 11 58-11 7-8 10-25 9-8 23-9 8-8 9-25 40-25 3-75zM4583 1398l8 2 9 16 -1 8 -16 9 -15-9 -2-8 9-17zM3179 1695l33 5 8 8 9 24 24 23 1 11 -28 25 -20 125 -27 32 -6 18 -7 92 4 16 9 10 17 5 57-1 57 6 50-7 33-23 49-4 57 19 33-16 16-2 15 5 18 21 17 2 9-15 10-66 14-41 8-9 33-13 24-29 49-3 42-8 9 3 9 16 10 134 6 16 56 31 24 4 41-2 50-25 41 0 16 5 11 12 5 25 -16 50 -9 8 -56 15 -13 11 -7 16 -3 50 -10 16 -9 2 -8-1 -7-9 -8-24 -9-9 -74-16 -23-25 -18-7 -25 4 -16 19 -17 9 -16-9 -12-16 -13-11 -41-11 -57 8 -58-11 -41 11 -148 1 -49 12 -90-19 -16 0 -14 11 -12 33 -8 9 -24 9 -8 8 -9 24 -40 26 -4 16 0 67 -144 0 0-196 66 0 16-5 25-40 23-9 9-9 17-56 8-10 25-11 11-23 -5-24 -10-9 -29-9 -23-41 -28-17 -7-26 -2-40 13-17 71-19 8-6 12-25 30-8 12-9 8-16 -7-50 -1-17zM3737 1757l9 1 8 8 0 9 -9 8 -9-1 -8-8 1-10zM4550 1807l25-6 41 2 16 3 9 10 -1 12 -8 7 -66 9 -13 14 2 74 8 42 -7 50 10 55 8 12 25 13 25 5 49-13 49-5 58 0 49 6 16 11 9 24 8 8 24 9 8 9 9 24 8 8 16 5 66 0 0 196 -143 0 -1-67 -4-16 -9-9 -23-9 -9-8 -8-24 -9-9 -24-9 -8-8 -9-24 -9-9 -39-4 -32 4 -9 9 -9 24 -8 8 -74 10 -8 8 -9 24 -16 10 -8-1 -8-11 -3-64 -6-17 -16-12 -57-3 -15-10 -4-33 5-25 14-10 49-4 18-20 18-58 -10-58 0-108 15-40zM4673 1870l8 2 13 27 3 17 -4 16 -36 17 -25 49 -8 4 -17-4 -8-9 -4-15 12-62 9-9 36-12zM4378 1988l8 0 0 27 -8-1zM3393 2307l57 0 16 9 4 16 0 59 -98 0 1-67 4-8zM3639 2307l57 0 16 9 4 16 1 59 -99 0 2-67 3-8z"/><path fill="#ffdcb0" d="M3196 1568l8 0 8 11 11 37 -4 16 -15 10 -17-6 -5-12 3-33zM3951 1607l131-7 49 8 58-5 8 5 16 28 41 15 41 39 9 13 8 29 8 8 58 10 24-6 10-12 18-66 71-22 24-29 17-2 24 18 17 3 16-5 9-13 16-9 65 6 92-5 11 8 12 30 24 20 -2 8 -5 3 -66 22 -7 17 7 21 17 7 65 13 18 25 15 11 57 12 66 0 0 371 -66-2 -8-8 -5-17 -11-14 -26-11 -7-7 -6-18 -10-14 -41-12 -25-15 -131-4 -4-5 0-33 11-50 41-25 6-17 -1-16 -16-59 -29-15 -8-26 -9-13 -24-8 -99 9 -20 12 -10 50 -1 74 -5 34 10 50 -3 16 -12 17 -8 4 -53 5 -22 33 -39 25 -5 25 4 40 35 27 4 16 -11 8 -85 21 -25 2 -49-10 -91 0 -16-5 -8-8 -4-16 -1-134 -3-12 -9-7 -57-17 -49-1 -25 7 -20 22 -13 5 -41 0 -13-5 -17-25 -27-24 -11-43 -10-74 -4-9 -16-10 -115 10 -9 9 -10 24 -39 20 -14 39 -10 13 -50 25 -49 5 -49-3 -66 11 -47 16 -35 17 -16-3 -33-16 -49-3 -17-13 -4-24 4-50 34-34 5-74 11-45 8-10 24-15 17-36 32-20 9-24 8-8 25-2 33 11 41 37 65 10 25 42 24 6 22-13 12-33 8-9 57-5 23-12 7-16 2-92 9-12 10 4 21 58 18 9 17-9 12-16 12-9 74-22 25-14zM4621 1649l-6 9 1 18 8 13 8 1 16-15 0-15 -8-10zM3723 1741l-12 17 2 26 16 16 25-2 15-16 0-24 -15-17 -17-3zM4371 1949l-12 17 -6 50 3 16 13 14 33 1 7-6 2-17 -6-58 -11-16zM4180 2058l-13 8 -1 8 11 8 20-1 6-7 -2-8 -12-8zM4224 2158l-1 24 7 8 16-4 9-12 -5-16 -12-8zM3540 1614l3 2 -3 6zM2941 1748l74 1 31 9 12 8 22 50 -8 10 -41 15 -12 17 -2 24 6 42 8 20 31 22 11 25 16 13 16 5 8 7 2 8 -10 13 -24 11 -11 10 -7 16 -7 42 -8 8 -25 11 -11 14 -5 17 -17 9 -57 1 0-428zM4583 1856l49-2 9 4 2 16 -10 8 -27 9 -11 8 -12 19 -8-1 -10-43 2-8zM4632 2057l16 0 0 9 -8 9 -16 0 -5-9zM3532 2215l16-2 10 3 6 8 -1 8 -15 11 -16-3 -8-16zM3434 2219l8-3 16 3 6 5 0 8 -14 11 -14-2 -9-9 0-8z"/><path fill="#bcdcf8" d="M2941 1299l136 0 0 67 4 16 40 26 9 24 8 8 24 9 8 9 10 24 26 17 1 17 -3 7 -50 18 -16-1 -25-40 -23-9 -9-9 -9-24 -8-8 -24-9 -8-9 -9-24 -8-8 -16-5 -66 0 0-96zM3327 1299l104 0 1 67 10 16 8 2 57 2 58 9 74 0 41-9 57-1 109 14 15 17 0 8 -9 13 -16 7 -49 4 -13 10 -7 16 -1 17 4 4 25 4 7 9 10 50 -3 16 -14 9 -41 8 -9 1 -11-10 -5-9 0-17 4-7 21-9 7-8 5-24 -4-13 -33 5 -16 28 -17 6 -16-2 -25-24 -22 0 -11 7 -16 25 -16 3 -58-13 -17-22 -16-10 -16 5 -25 34 -24 12 -25 41 -18 1 -16-17 -4-50 -11-14 -58-6 -41-12 -33-3 -12-7 -1-66 6-17 7-7 17-6 16 2 16 11 9 24 8 8 8 1 16-8 4-16 1-109zM4911 1299l82 0 0 296 -156 0 -41-9 -123-12 -6-8 6-16 57-8 33-33 33-11 8-8 9-24 8-8 24-10 9-8 8-24 40-25 6-17zM4082 1398l16 5 17 29 31 26 12 58 -3 16 -16 11 -64 6 -16 17 -16 8 -68-2 -8-6 -4-17 0-75 5-16 16-11 65-7 8-8 9-24zM4279 1449l41-4 25 8 11 21 5 57 17 12 41 2 23-4 9-9 9-24 16-10 16 5 10 13 3 33 -6 25 -56 50 -24 6 -14 11 -6 17 -4 58 -9 13 -17 1 -12-6 -7-8 -6-58 -32-34 -4-16 -2-92 -11-16 -20-9 -5-9 1-22zM4230 1507l18 1 6 4 4 12 -1 50 -11 16 -8 1 -16-9 -12-24 1-34 3-8zM3105 1598l8 2 11 16 1 50 -12 60 -8 11 -8 1 -9-6 -10-16 -1-42 12-61 8-12zM3598 1602l9 14 0 50 -9 15 -8 2 -16-9 0-8 16-58zM2941 1695l66 2 14 11 -1 8 -21 8 -66 0 0-29zM3491 1707l10 1 12 8 -6 6 -16 1 -11-7zM3540 1739l8 2 9 14 0 14 -9 11 -8 0 -9-14 1-20zM3196 1789l8 0 8 10 0 36 -13 56 -31 67 -14 62 -8 2 -14-23 -43-17 -17-35 -30-23 -8-42 1-16 13-13 74-17 24-24zM4558 1814l33-6 30 8 0 8 -30 9 -41 0 -1-9zM4533 1839l10 2 3 83 -4 50 -9 11 -8-6 -8-35 -2-45 2-40 8-15zM4657 1898l16-6 8 3 7 13 0 16 -7 8 -33 13 -24 33 -10-12 1-50 9-9zM3778 1920l9-1 7 13 3 42 9 50 -3 17 -6 8 -27 17 -1 8 7 8 27 7 43 19 31 29 24 8 45-4 12-25 20-17 55-3 19 12 3 16 -6 19 -16 11 -61 4 -21 29 -25 12 -18 25 -15 5 -16-3 -25-18 -41-14 -74-2 -12-10 -6-16 10-17 22-17 3-27 -9-9 -16-6 -8-8 -9-24 -16-10 -16 5 -10 13 -7 66 -16 11 -25 2 -4-4 1-17 9-50 -4-50 15-49 8-8 49-18 16 9 9 23 8 9 16 1 18-17 4-42zM4525 2057l8-3 9 12 11 58 1 17 -4 4 -25-2 -16-13 -1-14zM3434 2082l57 12 57 4 18 18 3 25 -31 8 -31 27 -57 11 -90-6 -66 13 -57-17 -32-19 -18 1 -13 15 -18 50 -33 17 -16 33 -26 12 -14 13 -5 25 0 67 -129 0 0-188 66 0 24-8 21-37 33-17 12-39 8-11 16-6 25 0 58 14 57-3 57 6 50-4 41-13zM4689 2107l50-7 90 6 8 6 17 33 32 17 17 33 24 8 66 0 0 102 -66 0 -24-7 -8-8 -9-24 -8-8 -24-10 -9-8 -8-24 -8-8 -25-10 -24-40 -66-4 -49-14 -8-16 6-8zM3573 2145l41 0 4 4 -3 17 -9 10 -25-1 -9-9 -3-17zM4558 2145l25 2 15 11 3 16 -10 16 -16 3 -16-11 -5-24z"/><path fill="#ffa628" d="M3984 1615l106-1 9 2 32 25 17-4 24-21 11 0 30 31 33 10 8 8 9 17 32 25 8 25 9 13 16 7 50 4 24-4 15-11 18-42 33-33 65-18 50 10 8 8 16 61 17 15 14-1 10-9 17-29 32-21 9-24 8-8 25-9 16-17 17-5 9 5 12 42 -7 8 -23 5 -19 12 -9 25 6 25 14 9 72 16 27 33 37 17 28 26 74 3 0 150 -123 2 -16 11 -9 24 -16 11 -49-8 -102-3 -8-8 -2-8 5-41 40-26 7-17 -1-24 -16-67 -25-17 -21-39 -25-9 -115 12 -23 11 -6 25 -4 100 -17 42 1 16 16 28 0 14 -8 8 -8 2 -35-2 -8-8 -18-75 -21-11 -25 7 -11 21 -9 50 1 16 11 20 34 14 2 8 -8 8 -61 18 -8 8 -9 24 -16 10 -16-5 -10-13 -7-59 -9-7 -56-21 -58 8 -41 0 -49-13 -41-1 -33 3 -33 10 -49-3 -11-9 -37-50 -17-83 -9-12 -16-9 -123 14 -8 7 -9 27 -33 16 -7 7 -12 33 -13 11 -99 3 -54 12 -28 17 -107 18 -41-7 -49-2 -8-2 -7-8 -1-50 5-8 19-16 10-18 1-66 14-45 33-26 16-29 33-18 16-33 17 0 23 17 59 29 49 5 17 33 24 15 16 0 17-7 15-16 18-29 57-4 33-8 8 9 3 23 8 17 14 11 24 2 17-7 14-14 7-25 -7-17 -14-14 -30-11 -8-8 8-8 30-15 19-27 47-19 57-11 57-2zM4270 1799l-10 17 3 16 16 11 16-3 11-16 -3-16 -16-11zM2941 1755l75 3 14 8 29 42 1 8 -39 25 -11 17 -3 16 16 72 25 20 22 33 23 17 4 8 -41 27 -16 4 -107 0 0-300zM4583 1871l16-4 12 7 -28 10 -3-10zM4181 2107l16 2 8 7 2 8 -10 56 -8 11 -8 1 -17-11 -4-32 4-33zM4279 2199l16 1 9 12 -2 12 -13 8 -11 0 -13-8 2-16z"/><path fill="#64b3f3" d="M3376 1299l35 0 1 75 6 17 7 7 17 6 60 4 12 8 1 16 -9 9 -23 9 -20 32 -21 12 -41 1 -41-9 -66-2 -52-10 -6-8 -1-34 2-13 8-9 8 0 7 6 9 24 9 8 16 6 25-1 32-9 16-12 5-24 0-109zM3688 1407l57 0 15 9 2 8 -8 13 -17 7 -65 1 -4-4 4-23zM3639 1447l24-2 4 4 -3 25 -9 7 -21 1 -12-8 1-16zM4772 1549l16 2 6 7 0 8 -14 6 -20-6 0-8zM4378 1653l8 12 0 9 0 25 -8 18 -9-7 -1-19 1-29zM3187 1813l9-1 3 4 0 16 -26 92 -23 58 -12 5 -41-8 -22-38 -26-25 -8-34 2-16 13-9 66-13 41-14zM4640 1916l25-4 9 4 -9 8 -33 12 -5-12zM3647 2002l8-1 10 15 -6 16 -12 7 -9-15 1-11zM3778 2005l9-2 6 13 -6 14 -9 0 -7-6 -1-8zM3425 2098l39 1 43 15 8 10 -13 17 -36 27 -16 7 -16-2 -25-20 -16-7 -50 0 -16 11 -14 17 -19 4 -11-4 -22-16 -57-22 -17 0 -41 10 -16 12 -8 24 -9 8 -23 9 -9 9 -9 24 -8 8 -24 9 -8 9 -9 24 -8 8 -16 5 -66 0 0-81 74 0 24-9 24-39 17-6 14-11 11-31 8-10 41-2 50 7 57-9 41 9 25 1 49-3zM3787 2109l16 2 25 30 24 12 8 13 0 8 -8 7 -16 3 -59-10 -7-8 0-8 8-41zM3984 2114l41-3 13 5 2 8 -8 8 -40 2 -13-10zM4722 2115l99 1 8 8 11 25 14 11 17 6 7 8 11 25 14 11 24 4 66 0 0 71 -74-3 -24-41 -25-9 -8-8 -8-24 -9-9 -24-9 -8-8 -9-24 -8-9 -16-6 -59-3 -10-8z"/><path fill="#fb8600" d="M3975 1648l91-3 26 4 16 17 7 65 16 12 17-3 7-8 8-66 18-17 57 20 18 30 28 17 14 33 14 11 74 7 16-3 33-15 8 1 11 16 1 25 0 125 -12 62 -8 8 -3-4 -11-33 -11-14 -16-8 -16-1 -17 4 -14 11 -19 50 -56 8 -9 9 -9 17 -16 8 -16-4 -25-29 -16-5 -57 4 -20 25 -14 4 -19-4 -14-17 -16-10 -140-2 -24-8 -17-29 -20-26 -7-33 -22-42 -9-8 -35-8 6-25 30-25 10-17 -2-16 -30-26 -9-16 6-11 25-14 22-25 11-4 115-8zM4224 1749l-11 11 0 21 9 9 16 9 16 49 25 10 16-1 15-8 11-25 -1-16 -8-16 -8-6 -41-12 -17-24zM4125 1799l-12 17 3 16 15 11 17-3 10-16 -3-16 -16-11zM4371 1799l-12 17 0 58 10 16 17 3 8-3 11-16 0-58 -11-16zM4525 1747l58 1 11 10 0 8 -19 6 -53 2 -12-8 0-8zM3393 1757l16 6 8 11 -8 16 -16 3 -16-11 -1-16zM2941 1766l58 0 15 8 10 34 -6 16 -11 12 -17 8 -57 1 0-79zM4772 1765l16 4 24 22 17 9 16 16 9 17 32 20 9 13 -1 16 -9 9 -23 9 -8 8 -9 24 -16 11 -49 2 -17-5 -8-8 -8-24 -17-17 -8-17 1-16 23-26 3-8 5-50zM3302 1799l16 9 9 24 16 11 189 2 25-4 24-30 17-13 41-2 16 4 8 8 4 33 -4 4 -31 4 -9 9 -1 23 20 18 3 17 -38 25 -17 35 -13-2 -12-16 -17-11 -49-2 -16 5 -25 30 -57 14 -156-1 -16-11 -1-8 14-42 -5-56 2-18 14-20zM3672 1845l82 0 11 4 -5 17 -14 8 -50 1 -16-2 -10-7 -2-17zM2941 1895l41 0 17 7 13 47 19 34 35 33 -2 10 -10 6 -14 2 -107 1 0-140z"/><path fill="#2196f2" d="M3138 1848l26 1 8 9 0 24 -18 52 -29 32 -20 4 -37-54 -13-25 -2-17 8-8 25-8zM3434 2115l16-2 10 3 4 8 -2 8 -12 9 -16-5 -7-12zM3237 2123l16-5 11 6 -11 9 -8-2z"/><path fill="#e64b1e" d="M3934 1747l17 3 10 16 -3 16 -16 11 -16-3 -10-16 3-16zM3253 1862l8-2 8 6 0 12 -8 10 -10-6z"/><path fill="#1863bf" d="M3105 1866l41-4 9 4 2 8 -3 11 -24 23 -13 24 -12 6 -8-4 -8-14 -8-38 3-8z"/><path fill="#e64b1e" d="M3934 1749l17 3 8 14 -3 16 -14 9 -16-3 -9-14 4-16zM3245 1849l16 3 9 14 -3 16 -14 9 -16-3 -9-14 3-16z"/><path fill="#1863bf" d="M3097 1847l57 0 14 11 4 8 -4 16 -30 19 -18 31 -15 10 -16-4 -12-22 2-50 4-8z"/></g>
<path transform="translate(396.3,184.5) scale(0.1)" d="M56 -414l11-9 24-5 18 2 28 4 17 2 21 4 22-6 24 3 30 3 31 5 18-3 31 4 7-6 22 2 16-5 25 16 -10 3 -2 8 -10 11 0 19 14 12 24 6 29 6 11 14 15 6 -9-17 4-12 -15-12 -6-11 -11-11 18 1 23 7 12 13 15-4 0-5 31 22 26 12 18 11 -6 12 -22 2 -11 5 15 5 7 12 21 6 -21 7 -18 4 4 12 -14 8 -2 12 1 10 7 11 -7 4 -8 8 -7 11 8 18 6 16 -4 5 -11-14 -6-13 -11-2 -16-3 -7 7 -8-1 -16-2 -13 12 0 17 1 17 12 20 9 5 16-2 3-15 16-3 2 18 -3 16 13 0 12 6 4 19 1 9 10 9 13-3 11 6 1 3 -3 5 -11-1 -3-5 -14 0 -15-11 -1-7 -11-12 -19-5 -18-13 -13 2 -20-8 -20-8 -12-11 0-11 -8-11 -15-14 -13-14 -13-19 -11-4 7 11 9 9 7 13 7 12 5 10 -14-13 -12-19 -12-14 -10-14 -9-9 -11-4 -9-12 -8-9 -6-11 -6-13 -5-26 -8-13 7-4 -11-6 -14-6 -5-9 -15-11 -16-15 -16-9 -20-7 -18-1 -16-3 -16 7 -8 13 -17 6 -18 6 -11 3 19-12 10-12 -20 0 -13-11 -5-8 4-7 13-7 -21-1 -8-5 15-5 -9-11M376 -461l2-11 17-5 42-4 45-2 45 6 33 12 29 18 17 15 7 10 -12 9 -5 13 -14 5 17 28 -28-6 -29-17 -25-16 -22-16 -32-20 -35-9 -22 0 -30-10M483 -403l5 19 -10 3 -27-11 -23 0 6-11 3-5 -36-14 -30-2 -25-15 29-1 21 6 34 10 26 10 27 11M247 -416l31 0 34-3 -5-8 -27-10 -27 0 -15 5 9 16M342 -454l22-2 -1-9 19-10 3-4 -45-2 -44 4 8 5 38 18M211 -431l20 7 16-5 -10-10 -21-4 -5 12M326 -444l45 0 -8-7 -39-3 2 10M227 -449l49 2 -8-5 -44 0 3 3M299 -461l25-2 -16-10 -21 1 12 11M316 -434l17 2 5-7 -24-3 2 8M559 -50l10-15 13-6 7-6 4 9 17 3 22 0 13 0 9 12 18 16 22 3 11 9 6 16 8 15 22 10 25 1 15 13 11 7 -2 19 -12 15 -13 13 -4 24 -9 16 -8 16 -17 3 -25 15 -7 16 -16 15 -20 19 -14 9 -14 3 -1 6 -7 11 -25 5 -7 11 -14 1 -3 9 -12 16 -16 9 2 9 -20 15 -10 10 0 5 3 11 -11 3 -12-3 -6-11 4-18 12-18 16-22 10-15 9-22 12-15 11-19 7-24 10-19 7-31 0-10 -9-9 -17-18 -7-16 -9-25 -8-12 5-12 2-6 -4-10 4-9 3-6 5-7 5-9 0-15 -1-10M894 -222l-2 30 2 9 -11 11 -3 23 -6 19 6 12 4 19 -3 8 6 13 11 10 11 12 13 13 21 15 19-4 16 1 5-3M-983 -34l11-5 16 4 8 8 11-1 6 6 -2 16 -1 12 13 17 5 14 7 16 4 16 -5 21 2 15 14 22 9 13 12 27 11 10 18 21 8 14 10 4 11-5 17-1 9-8 5-13 5-12 -3-16 11-12 -4-13 -5-12 8-12 13-10 4-12 -4-22 -7-18 -4-10 2-12 8-16 13-15 14-13 12-12 9-18 10-19 2-8 -13 4 -22 4 -8-7 -2-12 -7-7 -8-7 -3-14 -3-18 0-6 -5-12 -2-13 -2-13 0-11 2-8 -5-3 -13 4 -18-5 -13-6 -12 3 -8 11 -16-4 -10-10 -7-3 -6-2 10-14 7-7 -6-2 -14 2 -22 1 -19 6M925 -222l-7 4 -16 0 -8-4M-710 74l9 22 -3 12 -2 19 -1 22 -8 9 -9-3 -8-19 3-12 -5-19 9-7 8-11 7-13M848 -266l16 24 11 13 12 0 9 6 2-5 13 0 1-9 -2-8M-910 -245l12-9 16-6 6-8 8-1 8 2 8-4 13-3 -2 8 3 9 9 9 -7 12 6-3 6-5 1-6 9 1 -4-5 0-6 -7-4 -1-10 6-7 8-1 1 2 0 8 5 6 5 7 -8 9 1 6 -1 9 0 9 8-6 3-7 4 2 2-13 9-3 10 0 0 4 -4 4 -2 9 1 8 11 3 10 1 12-4 7 2 -6 9 -8 12 -8 10 -2 1 -1 11 -5 9 4 4 3 15 5 9 0 13 6 12 3 13 4 12 1 15 9 2 17-8 17-7 8-4 16-10 10-7 8-8 5-7 9-10 -6-7 -9-7 1-8 -5 4 -10 8 -13 0 2-10 -5 6 -1-8 -2-6 -3-9 0-8 8-1 4 5 3 8 11 8 13-3 4 9 20 3 17-1 10 0 3 5 5 8 8 4 -6 0 6 11 12-3 -1 14 0 16 5 15 2 9 4 16 4 11 6-4 8-9 3-10 5-22 8-6 6-5 12-11 12-7 4-8 11-2 8-5 7 2 2 11 7 10 -1 18 7 1 11-4 4 21 -1 19 -3 11 9 11 2 15 6 8 11 9 3-1 -3-16 -2-10 -6-3 -8-10 -2-10 -4-7 6-14 3-5 6 5 4 5 2 6 8 3 2 9 10-8 12-7 3-13 -1-12 -11-12 -4-10 6-8 8-8 9 1 4 7 3-7 11-5 9-2 11-3 9-9 9-9 7-13 9-12 -1-6 1-8 -4-8 -4-9 8-7 11-5 -5-3 -10 1 -2-5 -3-6 5-2 13-9 6 2 -7 9 7-5 9 0 3 8 5 7 -4 15 6 2 10-4 3-10 -4-11 -3-6 13-8 7-8 7-6 7 3 11-7 12-10 19-18 3-15 6-7 -1-6 -15-5 1-2 22-24 12-5 20 1 13-2 14 2 7-4 8-9 13-1 16-3 -9 18 -22 9 -9 15 0 23 10-10 8-9 11-11 7-11 6-10 9-4 17 3 12-9 17-5 9 0 -6-12 14-5 13 2 14 4 2-6 9-3 -18-5 -24-9 -16-6 -21-1 -18 2 -20 0 -3-6 -19-1 -19-2 -18-4 -18-1 -10 5 -19 0 -13 2 -2-7 -7-5 -16 2 -14-2 -18-1 -10-2 12-7 -17-9 -22 4 -10 4 -18-1 -23 4 -10 5 -3 5 -20-2 -9 5 -15 0 -6-2 -17 9 -11 13 -12-1 -2-9 -33 8 -23 2 -12 0 -28 0 -5 1 -15 5 -18 9 -23 9 -7-2 10-8 -2-6 13 1 26-5 -5-5 -16-4 -12-3 -8-5 -27 5 -31 8 -19 8 -14 8 -19 8 -24 8 -18 6 -18 14 -2 6 9 0 21-8 0 2 -7 9 -5 8 1 4 13-4 11-8 7-6 15-5 4-6 4-6 8-5 13-6 16-5 14-7 9 0 -2 4 -8 4 -19 7 -17 11 0 6 17-3 14 2 -11 4 -19 1 -7 4 -4 6 -16 3 -9 8 -15 7 -9-2 -18 5 -8-2 -8 2 1-5 13-9 10-8 -13 3 -13 10 -8 9 -10 2 -12 3 -12 8 -14 4 -8 5 -11 4M857 -306l-7-1 3 6 -12 2 17 7 13 7 8 10 3 6 -11 0 -21-2 -2 5M-757 -255l10 0 16-5 8 0 4 4 6 3 11-1 9-3 5-7 -5-5 -5-6 -2-5 -3 0 -9 3 -9 2 -1-6 8-4 -5-3 -5 0 -9 6 -4 3 -8 5 -9 8 -4 6 1 5M-634 -288l9-3 9 2 -5 9 -12 5 -7 9 6 6 -5 9 1 9 -5 10 -17 4 -6-4 0-7 9-10 4-1 -4-9 0-7 5-9 2-7 16-6M-261 -194l6-1 6-15 8 3 8-1 3-6 7 1 2-2 9-1 6-2 5-4 2-10 4-7 3-6 -1-10 -6 0 -3 7 -2 8 -7 6 -9 5 -1-2 -5 8 -3 3 -13 0 -9 6 -4 3 -6 5 1 8 -1 4M-200 -257l5-1 11-2 13-8 -4-4 -11-9 -2 2 -3 10 -5 1 -3 5 -1 6M-185 -285l8-3 0-15 7 0 -4-15 4-16 -2 0 -6 10 -1 9 -4 18 -2 12M-320 -140l3 4 7-16 -1-5 -6 5 -3 12M-384 -115l7 2 6-9 -4-3 -7 2 -2 8M-546 -50l2 13 8-8 -5-14 -4-1 -1 10M-463 -34l12 2 14 16 18 19 6 9 8 7 1 17 -8 1 -13-12 -8-13 -10-15 -7-11 -9-10 -4-10M-408 42l4-5 14 3 11 2 11 1 11 5 -1 6 -18-3 -17-3 -14-5 -1-1M-388 -9l3-3 8 2 11-9 8-10 6-4 8-10 12 10 -7 6 -1 16 6 5 -8 5 -5 10 0 11 -9 5 -10-5 -7 0 -9-2 -1-9 -5-6 0-12M-331 35l1-13 -4-10 5-12 2-5 14-1 11-3 -10 7 -14-1 5 9 11 0 -10 5 8 16 -6 4 -6-14 -2 18 -5 0M-268 8l8-6 9 4 5 14 14-11 16 7 22 8 7 9 10 6 1 11 12 14 -10-1 -11-13 -11-2 -4 8 -13 0 -11-6 -5 2 -3-4 6-5 -4-10 -15-6 -9-3 -3 1 -5-7 -6-10M-320 -115l9 0 -2 10 -4 7 1 10 12 7 -8-4 -10-3 2-8 -5-5 3-7 2-7M-317 -43l9-5 11-13 6 16 -4 6 -3 4 -8-5 -11-3M-316 -65l11-6 9-7 -4 16 -11 3 -5-6M-305 63l17-11 -12 5 -5 6M-356 136l2 19 11 25 4 18 3 15 16 5 9-7 18-1 12-10 15-4 12-1 16 7 9 14 1-8 8-6 0 12 6 0 -2 7 9 4 6 11 16 4 14 2 7-8 11-2 0-12 4-12 6-10 2-12 1-12 -3-14 -4-8 -9-12 -7-2 -6-12 -12-9 -3-12 -3-12 -9-4 -2-10 -6-13 -5 14 1 16 -5 12 -8-1 -12-8 -8-7 6-16 -7-2 -16-3 -6 5 -7 5 -3 11 -11-5 -8 1 -5 8 -7 9 -7 8 -5 8 -12 5 -12 2 -9 7 -6 1M-177 252l18 1 1 8 -5 8 -9-6 -5-11M-38 214l9 7 8 8 13 5 -5 10 -3 1 -7 13 -4-2 2-9 -6-4 4-7 -1-10 -10-12M-37 251l9 7 -6 8 -2 5 -7 4 -3 9 -7 4 -13-3 1-5 7-8 11-6 5-7 5-8M828 -309l9-3 11-3M-848 -315l7-1 12-9 -2-4 1-2M830 -331l-7-4 -12-7 -6-3 -7-1 -3-7 -13-6 -7 0 8 9 7 6 9 4 10 2 2 4 10 6 -9 0 8 4 -1 5 11 2 -2 8M813 -322l-12-11 -3-3 -11-4 -2 3 -3 3 4 4 7 9 6 3 7-1 7-3M660 -391l-15-7 2-5 22 1 13 3 9 3 0 5 -9 5 -19-2 -3-3M-589 -463l0 7 6 2 20-4 32-6 -6-6 -15-1 -27 4 -10 4M-491 -428l17 3 5-12 25-11 39-7 4 1 -37 7 -25 10 -9 1 -19 8M-290 -465l23 4 13-6 -14-6 -19 1 -3 7M-449 -470l27-2 26-1 -8-3 -31 3 -14 3M-157 -449l15 7 24-5 -6-3 -21-1 -12 2M-6 -427l10 1 8-3 -12-1 -6 3M509 -136l12-7 13 0 15 8 19 10 -18 2 -4-6 -18-6 -19-1M569 -115l7-8 16 1 10 7 -9 2 -8 4 -16-6M584 -294l7-12 -6-12 20 12 9 12 -8 5 -22-5M-173 34l9-2 8-6 4 2 -6 6 -6 4 -9-2 0-2M-111 58l6 2 0 1 -6 0 0-3M-106 52l5 5 -1 2 -4-4 0-3M-85 125l10 8 5 5 -2 0 -11-9 -2-4M-15 108l7-1 0 6 -7-1 0-4M130 -118l4-2 0-3 -5-2 0 3 1 4M117 -132l3 0 -2-3 -1 1 0 2M-328 53l17-2 -1 3 -15 1 -1-2M-345 53l12-2 0 3 -10 2 -2-3M-358 51l7 1 5 0 0 3 -11-1 -1-3M-287 -11l5 2 -3 6 5 3 -5 4 -3-7 1-8M-284 20l15 1 -2 3 -12-2 -1-2M-295 19l6 1 -2 4 -4-2 0-3M-73 92l4 2 -1 5 -3-3 0-4M559 317l14 0 -6 5 -8-1 0-4M-705 423l38 0 38-1 36-3 16-3 17-2 14-6 14-5 20-1 25 5 22 1 25 6 14 7 11-2 7-5 9-8 23-3 28 0 19-3 21 2 20-2 22 3 21 0 20-1 20 0 20 0 22 3 21 3 22 6 21 2 20 6 13 2 12 5 15 0 3 5 -9 8 -13 7 -6 7 8 4 10 1 11 0 35 1 35 1 35-2 8-4 22-1 28-7 39-5 39-3 36 2 36 1 23-5 21-2 19-1 36 2 25-6 17 2 19-18 2 6 20-16 22-11 38-9 -14 6 -17 8 -14 11 -7 11 -18 15 -15 10 0 4 -7 5 30 4 34 1 22-3 30-7 35-9 34-5 35-8 33-3 24-3" fill="none" stroke="#000" stroke-width="9" stroke-linejoin="round"/>
</g>
<path d="M448.7,234.5 451.1,233.8 453.7,232.9 456.7,231.8 459.8,230.5 462.8,229.1 465.6,227.5 468.2,226 470.7,224.3 473,222.6 475.3,220.9 477.5,219.2 479.6,217.4 481.6,215.6 483.3,213.7 485,211.9 486.5,210 487.9,208.1 489.1,206.3 490.2,204.4 491.1,202.5 491.9,200.6 492.5,198.7 493.1,196.8 493.5,194.9 494,193 494.3,191.1 494.5,189.2 494.7,187.3 494.8,185.4 494.8,183.6 494.7,181.7 494.5,179.8 494.3,177.9 494,176 493.5,174.1 493.1,172.2 492.5,170.3 491.9,168.4 491.1,166.5 490.2,164.6 489.1,162.7 487.9,160.9 486.5,159 485,157.1 483.3,155.3 481.6,153.4 479.6,151.6 477.5,149.8 475.3,148.1 473,146.4 470.7,144.7 468.2,143 465.6,141.5 462.8,139.9 459.8,138.5 456.7,137.2 453.7,136.1 451.1,135.2 448.7,134.5 343.9,134.5 341.5,135.2 338.9,136.1 335.9,137.2 332.8,138.5 329.8,139.9 327,141.5 324.4,143 321.9,144.7 319.6,146.4 317.3,148.1 315.1,149.8 313,151.6 311,153.4 309.3,155.3 307.6,157.1 306.1,159 304.7,160.9 303.5,162.7 302.4,164.6 301.5,166.5 300.7,168.4 300.1,170.3 299.5,172.2 299.1,174.1 298.6,176 298.3,177.9 298.1,179.8 297.9,181.7 297.8,183.6 297.8,185.4 297.9,187.3 298.1,189.2 298.3,191.1 298.6,193 299.1,194.9 299.5,196.8 300.1,198.7 300.7,200.6 301.5,202.5 302.4,204.4 303.5,206.3 304.7,208.1 306.1,210 307.6,211.9 309.3,213.7 311,215.6 313,217.4 315.1,219.2 317.3,220.9 319.6,222.6 321.9,224.3 324.4,226 327,227.5 329.8,229.1 332.8,230.5 335.9,231.8 338.9,232.9 341.5,233.8 343.9,234.5Z" fill="none" stroke="#000" stroke-width="0.9"/>
<g clip-path="url(#c12)">
<g transform="scale(0.1)" fill-rule="evenodd"><path fill="#fff1dd" d="M4090 2593l82 0 10 1 8 9 -1 12 -25 13 -22 33 -26 17 -7 25 6 20 36 21 16 34 39 16 3 17 -12 12 -123 6 -41-5 -15-13 -13-58 10-109 10-12 37-12 12-18zM3590 2624l57 5 21 15 4 17 0 42 -6 17 -10 8 -50 4 -33 0 -4-4 -7-75 9-17zM4624 2626l16 4 11 23 -1 100 4 17 11 11 33 8 31 14 -2 8 -38 14 -49 4 -57 2 -14-3 -10-8 -5-26 3-100 9-12 28-12 16-34zM3097 2684l66 7 8 9 1 11 -4 9 -14 6 -49 1 -16-4 -8-9 -2-11 2-9zM3885 2685l16 5 5 13 -5 14 -8 4 -12-1 -8-9 1-17zM4328 2700l15 3 18 18 33 11 12 12 4 17 -3 33 -5 17 -8 6 -25 0 -24-26 -66-16 -10-5 -4-17 6-14 33-16zM4821 2700l49-2 11 5 2 8 -29 25 -9 50 -6 17 -10 8 -9 0 -9-8 -10-42 7-41 5-13zM3335 2724l16-4 58 11 19 13 14 18 10-1 31-36 16-5 33 9 33 3 4 4 -1 17 -11 19 -74 19 -17 29 -16 7 -148 2 -24-6 -9-12 1-17 16-16 24-10 14-32zM3146 2835l30 1 20 7 8 7 3 20 -3 36 -8 3 -17-24 -41-15 -5-17 5-12zM4903 2877l90-3 0 102 -271 3 -16-9 -16-34 -25-13 -6-12 6-20 16-6zM3040 2892l8-4 16 3 20 37 39 16 4 17 -5 10 -17 9 -41 5 -16-1 -8-6 -8-17 -2-25 2-33zM4312 2894l66-6 57 2 8 6 16 32 38 16 5 9 -1 17 -9 8 -32 14 -15 28 -10 5 -189 9 -164-2 -23 12 -10 22 -8 7 -66 8 -49 12 -33 21 -16-3 -16-17 -33-12 -13-12 -2-26 9-41 14-18 106-13 33-33 58-14 156-4 41-19zM3278 2984l41-4 172 0 57 5 140-2 16 3 9 7 5 18 -7 17 -23 6 -41-4 -345-2 -24-5 -11-12 1-17zM3048 3084l16 2 22 8 14 9 0 8 -36 17 -24-1 -8-7 -3-17 3-9zM4484 3086l18 8 3 17 -13 15 -16 2 -14-8 -4-17 10-13z"/><path fill="#e2f3fb" d="M2941 2386l628 0 2 67 10 13 17 4 16-8 3-9 1-67 49 0 2 125 11 16 16 3 16-10 9-26 8-7 41-13 33-1 49 9 82 0 17-5 7-7 5-17 0-67 49 0 2 75 11 16 8 3 16-3 11-16 2-75 49 0 1 67 3 9 16 8 17-3 11-14 1-67 197 0 0 108 8 26 13 9 16 3 41-1 33-8 24 2 16 11 13 34 12 8 9-1 10-16 7-67 24-17 8-12 2-79 400 0 0 477 -66 0 -49 11 -197 6 -18 6 -7 8 -2 17 8 17 27 14 17 34 16 7 271-3 0 498 -390 0 -1-75 -3-9 -16-10 -591-2 -17-5 -7-7 -9-25 -8-8 -33-5 -33 1 -33 8 -69 3 -13 9 -16 24 -9 3 -16-3 -20-33 -13-9 -82-3 -16 1 -17 7 -16 30 -17 10 -205 4 -16 10 -3 9 -1 75 -390 0 0-1092zM3977 2536l-12 17 -2 25 12 4 25-5 10-16 -3-17 -15-10zM4067 2578l-24 33 -27 10 -9 15 -3 75 -9 42 19 67 19 11 41 3 107-2 24-6 16-15 -1-17 -15-11 -33-10 -16-34 -33-17 -7-19 7-19 35-14 14-19 30-23 6-25 -6-17 -13-11 -17-3 -82 0zM3588 2586l-11 8 -20 28 -29 22 -8 34 -4 4 -26 4 -19 34 -21 16 -8 1 -33-18 -25-8 -24-24 -25 0 -12 16 -21 53 -24 16 -19 22 -1 17 5 9 15 10 16 4 156 0 17-6 32-29 66-18 25-31 65-12 17-9 10-18 2-17 -1-41 -8-17 -20-16 -26-9 -23-24zM3934 2586l-8 12 0 18 8 11 8 1 18-17 3-25 -4-4zM4618 2586l-11 9 -24 65 -25 11 -9 15 -3 75 7 59 13 13 17 4 106-6 56-11 10-9 2-8 -3-9 -15-6 -66-11 -11-7 -6-26 10-91 -2-17 -19-42 -13-9zM3093 2670l-19 8 -9 16 1 26 15 14 82 2 16-7 7-9 0-26 -15-14zM3884 2670l-17 8 -6 16 1 17 14 17 17 2 20-10 4-26 -7-18 -9-5zM4317 2686l-25 25 -31 17 -6 25 5 25 11 7 65 17 19 18 14 6 17 2 22-8 11-17 3-25 -1-25 -7-17 -12-12 -27-13 -22-25 -17-3zM4809 2686l-11 8 -7 17 -4 42 2 41 6 17 7 9 27 6 16-5 10-10 12-58 35-25 5-17 -6-17 -15-9 -49-3zM3150 2820l-12 4 -11 12 -4 17 3 17 12 12 30 12 10 26 8 8 23 0 7-8 3-17 -3-67 -12-12zM3035 2886l-9 17 -2 50 6 25 10 13 16 6 49-8 17-7 13-12 4-17 -3-9 -14-11 -33-10 -18-37 -15-6zM4317 2886l-87 5 -49 21 -148 3 -66 21 -33 26 -98 9 -22 23 -14 67 16 25 30 17 22 25 25 3 17-6 23-22 34-15 78-10 8-8 11-26 18-9 99-1 57 4 189-6 24-10 17-29 37-15 4-17 -5-17 -44-23 -11-27 -9-8 -38-4zM3272 2978l-12 8 -4 8 1 17 19 17 18 3 353 4 49 7 20-6 9-16 0-17 -11-17 -26-9 -140 5 -65-7 -181 0zM3047 3070l-22 8 -10 16 3 34 13 13 25 3 59-24 3-17 -5-9zM4463 3086l-11 17 2 17 7 8 15 5 16-1 18-12 3-17 -9-17 -20-5zM3524 2683l16 2 8 7 0 20 -16 0 -8-8 -4-18z"/><path fill="#ffdcb0" d="M4057 2636l33-2 16 10 2 9 -7 41 4 26 10 13 24 12 8 8 9 24 8 8 33 15 0 12 -16 7 -99 5 -41-4 -15-9 -13-50 9-108 11-13zM3598 2642l41-4 16 6 7 17 1 33 -4 17 -7 9 -30 2 -35-11 -7-50 3-8zM4624 2650l10 3 11 33 -2 67 3 17 19 19 33 11 2 11 -19 8 -33 4 -73 1 -9-5 -6-16 4-100 11-14 26-11zM3105 2700l41 2 2 9 -43 1 -5-9zM4328 2725l66 19 6 26 -6 25 -8 11 -8 0 -25-23 -52-13 -17-9 -2-8 5-5zM3343 2735l25-1 41 8 25 35 27 9 3 8 -3 17 -11 9 -16 2 -132 2 -18-4 -7-9 2-17 9-8 31-12 13-30zM3491 2735l16 0 29 9 12 9 -3 8 -38 14 -24 1 -10-6 0-17zM4821 2744l9 0 -1 26 -8 0zM4730 2886l263-4 0 90 -172 5 -99-2 -11-5 -14-34 -27-16 -6-17 6-9 11-4zM4378 2894l41 0 16 5 16 29 41 21 4 12 -3 9 -33 13 -18 28 -15 9 -181 10 -164-2 -21 8 -20 29 -8 5 -107 14 -33 9 -57-18 -13-14 -1-17 14-41 33-13 82-12 33-34 49-11 160-5 45-12 49-1 38-12zM3048 2897l8 0 7 6 9 24 9 8 32 15 3 11 -7 9 -45 6 -20-6 -6-17 0-33 2-14zM3294 2985l394 3 17 6 6 17 -7 12 -16 5 -41-3 -57 3 -288-4 -16-3 -11-10 1-17zM4476 3093l16 1 6 9 -1 8 -6 9 -15 2 -8-6 -3-13zM3056 3102l3 1 0 8 -3 1 -3-1z"/><path fill="#bcdcf8" d="M2941 2386l431 0 0 117 5 17 7 7 33 5 40-4 9-8 9-26 8-7 49-14 16 1 56 20 10 9 2 8 -10 16 -29 17 -20 30 -25 12 -20 34 -13 9 -57 4 -33 8 -25-2 -15-11 -10-34 -8-8 -8-2 -53 10 -12 9 -17 25 -72 16 -23 17 -20 2 -17-10 -8-59 -40-24 -9-25 -8-8 -24-9 -8-8 -9-25 -8-8 -16-5 -66 0 0-96zM4616 2386l86 0 -1 167 -4 17 -8 7 -16 1 -8-4 -25-37 -24-10 -9-9 -2-15 7-33zM4172 2485l99-3 24 5 20 33 30 20 20 30 29 17 10 16 -3 17 -7 7 -25 13 -16 21 -8 4 -66 16 -53 5 -5 8 0 17 17 29 2 13 -2 20 -8 4 -49-8 -8-8 -10-25 -38-25 -1-8 7-12 74-25 15-38 2-34 -17-50 -16-10 -58-4 -15-10 -1-17 8-7zM3787 2494l16 3 25 27 32 20 4 34 -4 4 -73 12 -8 9 0 17 6 8 26 16 4 34 -4 4 -33 5 -8 10 0 17 17 7 16-4 11-14 1-17 13-3 16 9 5 19 11 18 17 8 24 0 18-9 10-17 5-20 25-21 12-26 13-6 8 11 1 54 -4 17 -14 24 1 17 19 25 12 34 18 15 57 4 107-2 24-7 50-27 16-3 18 3 72 30 25 0 35-13 11-9 4-8 1-50 -7-17 -19-17 -9-19 9-13 23-9 9-8 3-17 -7-33 1-34 12-33 16-9 16 9 21 50 -6 58 2 9 24 24 3 67 7 50 15 25 25 7 106-6 83-13 49 12 57-12 17 5 8 9 1 15 -6 8 -12 5 -114 3 -107 9 -14 16 -1 26 7 12 27 12 14 30 16 11 279-1 0 68 -123 1 -15 8 -5 17 12 4 131 0 0 396 -340 0 -1-108 -4-26 -8-7 -16-5 -99-2 -16-10 -12-26 -13-8 -16 1 -8 9 -9 24 -8 7 -16 5 -345-2 -16-10 -4-17 -3-142 -10-10 -16-2 -12 4 -21 24 -24 9 -8 8 -5 34 -4 4 -33 5 -8 8 -9 25 -8 8 -24 9 -17 24 -13 9 -110 9 -37-35 -69-3 -41-7 -17 10 -16 30 -17 5 -16-9 -8-25 -9-8 -16-3 -16 10 -9 26 -16 10 -99 2 -49 10 -49-8 -16 3 -9 8 -8 25 -9 8 -24 9 -8 9 -4 15 0 67 -242 0 0-196 66 0 15-4 9-8 8-25 9-8 23-9 9-8 3-17 -7-33 4-17 17-12 33-11 7-19 -3-17 -7-8 -38-16 -9-9 -4-17 6-24 15-16 33-11 41-23 24-21 33 2 6 52 5 8 47 22 377 8 49 13 33 26 50 4 21 19 2 17 -15 10 -123 2 -4 4 1 25 11 16 8 3 57-8 50 10 49-2 16-10 10-17 64-19 8-6 14-25 12-9 81-11 8-9 9-24 16-11 99-2 65 5 181-5 24-6 18-28 23-9 17 1 12 25 9 8 20 3 3-3 -4-25 -31-17 -4-33 -5-11 -8-8 -33-12 -18-36 -23-9 -197 6 -49 12 -148 3 -33 21 -25 6 -41 19 -102 9 -26 33 -12 34 -7 8 -17 4 -25-3 -21-43 -28-15 -148 7 -65-9 -189-1 -25-5 -16-17 -21-10 -2-92 7-15 8-3 49 13 156 2 80-38 51-14 50-35 32-6 33-14 17-2 4 4 2 25 9 9 17-3 9-14 -5-17 -28-4 -4-4 -3-75 -10-14 -24-20 -8-19 9-14 65-16 8-9 16-58zM3691 2786l-9 8 -2 9 8 13 8 0 8-12 1-10 -7-8zM4554 3036l3 75 9 13 17 3 8-10 9-64 -17-18 -25-3zM4467 3078l-19 16 -3 17 6 17 17 9 16 2 17-3 13-8 9-17 -4-25 -18-10zM4823 3086l-8 8 -3 17 9 15 8 3 8-2 8-9 4-32 -4-3zM3579 3103l-9 17 -1 58 4 4 33-5 25-40 32-5 4-4 -1-17 -11-11 -49-3zM3491 3144l-14 9 -6 25 4 4 41 0 4-4 -4-25 -9-7zM3184 3153l-5 8 8 16 17 1 12-8 3-9 -7-9 -16-3zM4119 3153l-8 17 0 33 4 17 8 7 16 5 42 0 16-5 8-7 4-50 -7-17 -38-6 -33 1zM3435 3186l-12 17 3 17 16 10 16-3 11-16 1-25 -12-4zM3520 3186l1 25 11 16 16 3 16-10 5-26 -4-12 -41 0zM4717 3186l-10 8 -3 9 3 17 15 10 17-3 8-10 0-15 -15-16zM4919 2534l74-2 0 150 -66-1 -49-13 -74 3 -32 12 -9 8 -3 62 -6 17 -15 6 -25 0 -39-6 -9-9 -1-58 8-23 16-8 52-2 9-9 6-17 16-10 65-7 8-8 9-25 9-8 23-9 9-8 8-25zM3869 2582l24 4 7 8 1 22 -8 12 -16-1 -8-7 -4-26zM2941 2682l66 2 16 10 4 17 0 42 -4 17 -8 7 -16 5 -66 0 0-100zM3245 2684l16 3 8 7 4 34 0 16 -7 17 -21 17 -8-2 -9-8 -4-32 4-40zM3442 2685l8 1 8 17 -8 13 -8 1 -12-6 -4-8 1-9zM3089 2752l65-1 10 2 7 8 -8 16 -25 9 -8 8 -20 50 1 17 7 17 36 26 4 7 -4 15 -8 2 -49-10 -8-9 -6-23 -11-10 -24-3 -15 5 -13 16 -3 26 2 50 16 41 -4 17 -8 7 -16 6 -74 1 0-220 131-3 12-16 2-42zM3967 3232l25 2 15 10 3 17 -10 16 -16 3 -16-10 -5-26z"/><path fill="#ffa628" d="M3639 2652l9 9 2 17 -2 25 -9 6 -17-6 -3-25 2-17 10-8zM4041 2653l16 5 25 26 17 44 16 16 16 9 17 33 19 17 -85 15 -37-7 -12-8 -9-25 -3-25 9-42 3-49zM4607 2686l17-8 11 8 5 25 -6 50 14 25 22 17 -5 8 -33 7 -41 2 -21-9 -3-17 7-83 5-8zM4336 2744l44 9 6 8 -2 9 -6 5 -53-14 -6-8zM3351 2749l48 4 18 32 27 18 -27 8 -66-1 -49 7 -14-6 -2-8 6-9 35-10 16-30zM4698 2894l74-4 221 0 0 76 -164 7 -107-2 -12-10 -12-32 -26-18 1-9zM4361 2909l25-6 41 4 23 29 34 16 3 9 -36 19 -24 29 -33 8 -156 9 -156-2 -25 9 -28 28 -136 20 -38-11 -16-9 -4-8 9-20 32-30 75-17 14-8 19-21 31-13 272-17zM3056 2924l16 20 15 9 -1 8 -31 0 -6-17zM3294 2991l189-1 197 4 16 4 6 13 -10 9 -12 1 -378-1 -20-9 -1-8 5-9zM4476 3102l10 1 0 8 -11 0z"/><path fill="#64b3f3" d="M3245 2484l16 3 8 8 9 25 40 24 1 12 -9 11 -57 14 -25 1 -4-4 2-75 11-16zM3540 2494l17 5 7 12 -4 9 -12 8 -16-1 -8-12 2-12zM4279 2535l16 5 10 13 2 25 -3 4 -25-2 -16-10 0-26zM3787 2538l8-1 12 7 4 9 -8 13 -16 3 -8-8 -1-8zM3196 2584l24-2 4 4 -5 25 -13 9 -15 0 -12-9 1-17zM3401 2585l15 9 2 9 -3 8 -14 8 -8-2 -9-14 9-17zM4312 2582l24 3 13 9 4 17 -8 13 -17 5 -15-9 -5-26zM3737 2594l8 1 8 8 -1 17 -7 7 -16-4 -8-12 2-8zM4476 2589l8 1 8 13 0 8 -8 14 -8 0 -8-13 0-10zM4172 2694l17 1 8 9 8 40 -1 9 -7 4 -13-4 -12-25 -24-17 -4-8zM4689 2693l33 0 16 10 3 41 -9 17 -43 0 -13-8 -1-42 6-15zM3828 2735l57 15 25-2 32-11 9 9 8 24 26 24 11 26 12 14 25 9 57 2 107-2 82-19 99 18 65-13 20-18 5-64 8-11 8-1 16 9 9 26 16 17 16 41 25 21 17 3 41-6 106-5 50 3 41 9 49-7 8 7 -65 0 -74 12 -74 6 -11 7 -9 16 1 34 11 13 24 10 17 31 16 7 279-1 0 52 -123 1 -58 12 -14 17 -7 24 7 67 -10 16 -8 2 -17-5 -16-30 -17-10 -90-2 -17-4 -7-12 0-16 18-22 7-17 -1-11 -8-14 -21-16 -20-33 -58-17 -20-34 -39-16 -8-9 -14-33 -17-7 -205 3 -49 8 -148 1 -17 6 -24 21 -50 20 -65 3 -58 9 -32 39 -33 9 -58-28 -148 12 -65-14 -181-1 -17-6 -42-42 -1-50 3-10 8-7 98 0 42 8 57-1 41-17 49-11 58 6 13-9 15-26 13-8 8 1 7 7 9 26 9 10 16 9 8 0 19-11 21-34 28-16 22-34zM2941 2842l107 1 11 1 9 9 -37 11 -20 22 -4 75 8 42 -2 8 -9 9 -71 2 0-180zM3105 2893l8 11 -10-1zM3154 2994l17 7 16 23 17 7 90 8 345 7 27 7 6 8 0 9 -17 10 -79 6 -44 15 -25 18 -57 21 -64 4 -11 9 -15 24 -17 3 -16-10 -7-17 -12-9 -55-2 -41-9 -63-5 -16-42 -11-12 -26-13 -6-8 7-17 37-33zM4484 3008l9 3 14 25 5 17 -3 8 -58 17 -15 25 2 25 13 13 17 3 33 0 32-7 9 3 9 13 3 25 4 4 66 0 16 5 11 16 1 33 -1 25 -11 16 -33 5 -65 0 -19-4 -15-17 -3-25 4-4 31-4 9-8 5-34 -4-4 -27 4 -15 17 -3 25 -4 4 -25-2 -16-10 -17-30 -32-20 -9-26 -16-10 -247-2 -57 9 -49-8 -49 7 -10-4 -9-16 6-17 13-6 65-6 13-13 7-25 13-11 99-1 65 7 189-5 25-9zM3105 3152l11 1 6 8 -2 9 -15 9 -8-3 -6-15 6-8zM3245 3186l16 1 8 7 4 26 -4 12 -24-2 -16-10 -1-17zM3737 3194l17 3 11 14 -1 50 -10 16 -17 3 -33-7 -65-3 -15-9 -2-13 9-11 72-9 18-25zM3278 3232l65 0 15 4 12 17 -3 17 -8 8 -24 9 -25 30 -16 3 -8-3 -8-6 -4-17 0-58zM4328 3234l17 3 10 16 -3 17 -16 10 -16-3 -10-16 3-17z"/><path fill="#fb8600" d="M4616 2701l8 0 3 10 -3 12 -8 2 -8-14zM4049 2733l33 2 21 18 8 25 -2 16 -6 9 -21 4 -14-4 -27-25 -8-25 8-16zM4591 2783l33 2 11 9 3 9 -31 5 -24-3 -3-11zM4698 2902l24-5 66-2 205 6 0 56 -66 0 -95 13 -102-1 -14-8 -10-31 -16-19zM4361 2927l25-4 27 5 43 25 2 8 -56 42 -16 5 -50 2 -98 11 -164 0 -66 33 -46 7 -69 5 -17-5 -5-8 6-13 24-12 25-23 25-8 78-44 61-3 41-7 164-7zM3294 3001l33-5 271 3 24 4 1 8 -33 5 -280-2 -16-3z"/><path fill="#2196f2" d="M3787 2786l24-4 123 1 17 9 19 28 19 16 19 12 33 10 148 0 90-15 76 10 -47 8 -275 5 -49 18 -42 31 -155 18 -17 11 -9 17 -7 6 -17 0 -10-6 -9-17 0-83 9-17 27-19zM4476 2835l33-3 16 3 31 26 19 6 49-11 31 5 -13 17 -10 60 -49 8 -50-6 -24-15 -35-14 -10-33 -13-14 -40-11zM3524 2844l28 0 29 22 17 4 16-7 12-19 13-8 16 6 8 11 4 17 0 66 -7 17 -46 11 -74 6 -24-9 -25-27 -189-3 -16-9 -11-19 0-33 11-12 65-2 16 5 26 20 49 1 16-4 25-26zM4657 2961l16 0 15 25 18 7 287-1 0 40 -123 0 -57 6 -50 13 -24 26 -9 3 -49 1 -9-3 -9-17 -10-58zM3146 3036l17 4 9 13 3 25 -4 3 -25-6 -13-14 -2-8 3-9zM3269 3044l279 5 50 10 43 2 -43 3 -41 15 -71 15 -28 23 -16 4 -57-1 -21-17 -13-4 -16 2 -25 18 -16 3 -57-1 -54-10 -7-17 3-12 32-4 20-25zM4098 3044l91 1 65 13 181-3 25-5 16-9 8 0 3 12 -36 10 -32 18 -181 2 -16 9 -18 19 -15 6 -99 4 -57-6 -41 3 -5-7 5-2 49-3 16-7 10-13 8-33zM4468 3159l24 1 3 10 -11 8 -8 0 -11-8z"/><path fill="#e64b1e" d="M4714 2911l41-6 123 2 17 8 3 21 -10 17 -36 8 -122 2 -11-10zM4361 2944l33 3 8 14 -4 9 -20 11 -50 2 -28 20 -31 8 -39 5 -148-1 -49 16 -17 1 -32-2 -15-10 -1-9 7-10 50-25 65-5 41-18z"/><path fill="#1863bf" d="M3787 2835l147-2 21 11 4 17 -17 18 -57 5 -8 3 -25 24 -16 2 -10-2 -23-24 -24-9 -8-8 -2-17zM3532 2875l25 1 48 18 9 8 4 34 -9 17 -61 11 -16-2 -8-7 -13-52 5-17zM4492 2883l124 0 8 4 3 24 -4 9 -18 8 -22 3 -25-2 -74-25 0-17zM4706 3002l287-4 0 26 -131 0 -140 17 -16-6 -8-9 -3-15zM3278 3052l115-3 57 9 90 3 -131 30 -58-8 -57 8 -16-6 -9-9 -1-15zM4090 3051l99 0 11 2 11 8 1 9 -15 16 -16 5 -91 0 -8-5 -4-16 4-15z"/><path fill="#b21c1c" d="M4739 2934l82-1 14 3 6 8 -12 10 -90 0 -9-10zM4123 2985l107-2 14 3 7 8 -5 9 -16 2 -148-1 -41 10 -19-3 -1-8 12-9 65-2z"/><path fill="#9a27b0" d="M3540 2896l17 2 10 13 0 33 -9 9 -16 0 -7-9 -4-33zM4566 2902l25 0 0 9 -25 0zM4730 3011l24 0 -15 5zM3302 3061l99 0 -8 9 -42-9 -41 7 -8-2zM4098 3061l83 0 -3 9 -55 0 -23 0z"/><path fill="#e64b1e" d="M4722 2884l132-2 29 4 10 8 5 17 -3 55 -12 12 -21 4 -123 0 -21-4 -14-17 -2-41 6-26zM4131 2934l247-1 12 3 10 8 3 17 -3 9 -14 10 -50 3 -16 5 -18 32 -23 11 -279 1 -16-2 -14-10 -4-17 14-17 110-6 15-10 12-26zM3294 2984l296-1 12 3 10 8 3 17 -9 14 -25 7 -279-1 -16-6 -9-14 3-17z"/><path fill="#1863bf" d="M3787 2834l147-1 12 3 10 8 4 17 -4 9 -14 10 -49 3 -16 5 -19 32 -12 8 -10 1 -15-9 -18-32 -30-18 -3-19 8-12zM3540 2884l50-1 22 11 5 17 0 42 -11 23 -16 5 -42 0 -22-11 -5-17 0-42 5-17zM4476 2884l148-1 12 3 10 8 3 17 -9 14 -16 6 -140 0 -16-6 -9-14 3-17zM4722 2984l271-2 0 50 -263-1 -16-6 -9-14 3-17zM3294 3034l246-1 13 3 9 8 4 17 -9 14 -17 6 -238 0 -16-6 -9-14 3-17zM4082 3034l107 0 14 10 3 17 -9 14 -16 6 -99-1 -14-10 -3-9 3-17z"/><path fill="#b21c1c" d="M4722 2934l107 0 14 10 3 17 -9 14 -16 6 -99-1 -14-10 -3-9 3-17zM4033 2984l197-1 12 3 10 8 3 17 -9 14 -16 6 -189 0 -16-6 -9-14 3-17z"/><path fill="#9a27b0" d="M3540 2885l17 4 11 22 -1 50 -10 14 -9 4 -16-4 -11-22 1-50 10-14zM4575 2886l16 3 9 14 -4 17 -13 8 -17-3 -8-14 3-17zM4722 2984l271-2 0 50 -263-1 -16-6 -9-14 3-17zM3294 3034l107 0 14 10 3 17 -9 14 -16 6 -99-1 -14-10 -3-9 3-17zM4082 3034l107 0 14 10 3 17 -9 14 -16 6 -99-1 -14-10 -3-9 3-17z"/></g>
<path transform="translate(396.3,293.2) scale(0.1)" d="M56 -414l11-9 24-5 18 2 28 4 17 2 21 4 22-6 24 3 30 3 31 5 18-3 31 4 7-6 22 2 16-5 25 16 -10 3 -2 8 -10 11 0 19 14 12 24 6 29 6 11 14 15 6 -9-17 4-12 -15-12 -6-11 -11-11 18 1 23 7 12 13 15-4 0-5 31 22 26 12 18 11 -6 12 -22 2 -11 5 15 5 7 12 21 6 -21 7 -18 4 4 12 -14 8 -2 12 1 10 7 11 -7 4 -8 8 -7 11 8 18 6 16 -4 5 -11-14 -6-13 -11-2 -16-3 -7 7 -8-1 -16-2 -13 12 0 17 1 17 12 20 9 5 16-2 3-15 16-3 2 18 -3 16 13 0 12 6 4 19 1 9 10 9 13-3 11 6 1 3 -3 5 -11-1 -3-5 -14 0 -15-11 -1-7 -11-12 -19-5 -18-13 -13 2 -20-8 -20-8 -12-11 0-11 -8-11 -15-14 -13-14 -13-19 -11-4 7 11 9 9 7 13 7 12 5 10 -14-13 -12-19 -12-14 -10-14 -9-9 -11-4 -9-12 -8-9 -6-11 -6-13 -5-26 -8-13 7-4 -11-6 -14-6 -5-9 -15-11 -16-15 -16-9 -20-7 -18-1 -16-3 -16 7 -8 13 -17 6 -18 6 -11 3 19-12 10-12 -20 0 -13-11 -5-8 4-7 13-7 -21-1 -8-5 15-5 -9-11M376 -461l2-11 17-5 42-4 45-2 45 6 33 12 29 18 17 15 7 10 -12 9 -5 13 -14 5 17 28 -28-6 -29-17 -25-16 -22-16 -32-20 -35-9 -22 0 -30-10M483 -403l5 19 -10 3 -27-11 -23 0 6-11 3-5 -36-14 -30-2 -25-15 29-1 21 6 34 10 26 10 27 11M247 -416l31 0 34-3 -5-8 -27-10 -27 0 -15 5 9 16M342 -454l22-2 -1-9 19-10 3-4 -45-2 -44 4 8 5 38 18M211 -431l20 7 16-5 -10-10 -21-4 -5 12M326 -444l45 0 -8-7 -39-3 2 10M227 -449l49 2 -8-5 -44 0 3 3M299 -461l25-2 -16-10 -21 1 12 11M316 -434l17 2 5-7 -24-3 2 8M559 -50l10-15 13-6 7-6 4 9 17 3 22 0 13 0 9 12 18 16 22 3 11 9 6 16 8 15 22 10 25 1 15 13 11 7 -2 19 -12 15 -13 13 -4 24 -9 16 -8 16 -17 3 -25 15 -7 16 -16 15 -20 19 -14 9 -14 3 -1 6 -7 11 -25 5 -7 11 -14 1 -3 9 -12 16 -16 9 2 9 -20 15 -10 10 0 5 3 11 -11 3 -12-3 -6-11 4-18 12-18 16-22 10-15 9-22 12-15 11-19 7-24 10-19 7-31 0-10 -9-9 -17-18 -7-16 -9-25 -8-12 5-12 2-6 -4-10 4-9 3-6 5-7 5-9 0-15 -1-10M894 -222l-2 30 2 9 -11 11 -3 23 -6 19 6 12 4 19 -3 8 6 13 11 10 11 12 13 13 21 15 19-4 16 1 5-3M-983 -34l11-5 16 4 8 8 11-1 6 6 -2 16 -1 12 13 17 5 14 7 16 4 16 -5 21 2 15 14 22 9 13 12 27 11 10 18 21 8 14 10 4 11-5 17-1 9-8 5-13 5-12 -3-16 11-12 -4-13 -5-12 8-12 13-10 4-12 -4-22 -7-18 -4-10 2-12 8-16 13-15 14-13 12-12 9-18 10-19 2-8 -13 4 -22 4 -8-7 -2-12 -7-7 -8-7 -3-14 -3-18 0-6 -5-12 -2-13 -2-13 0-11 2-8 -5-3 -13 4 -18-5 -13-6 -12 3 -8 11 -16-4 -10-10 -7-3 -6-2 10-14 7-7 -6-2 -14 2 -22 1 -19 6M925 -222l-7 4 -16 0 -8-4M-710 74l9 22 -3 12 -2 19 -1 22 -8 9 -9-3 -8-19 3-12 -5-19 9-7 8-11 7-13M848 -266l16 24 11 13 12 0 9 6 2-5 13 0 1-9 -2-8M-910 -245l12-9 16-6 6-8 8-1 8 2 8-4 13-3 -2 8 3 9 9 9 -7 12 6-3 6-5 1-6 9 1 -4-5 0-6 -7-4 -1-10 6-7 8-1 1 2 0 8 5 6 5 7 -8 9 1 6 -1 9 0 9 8-6 3-7 4 2 2-13 9-3 10 0 0 4 -4 4 -2 9 1 8 11 3 10 1 12-4 7 2 -6 9 -8 12 -8 10 -2 1 -1 11 -5 9 4 4 3 15 5 9 0 13 6 12 3 13 4 12 1 15 9 2 17-8 17-7 8-4 16-10 10-7 8-8 5-7 9-10 -6-7 -9-7 1-8 -5 4 -10 8 -13 0 2-10 -5 6 -1-8 -2-6 -3-9 0-8 8-1 4 5 3 8 11 8 13-3 4 9 20 3 17-1 10 0 3 5 5 8 8 4 -6 0 6 11 12-3 -1 14 0 16 5 15 2 9 4 16 4 11 6-4 8-9 3-10 5-22 8-6 6-5 12-11 12-7 4-8 11-2 8-5 7 2 2 11 7 10 -1 18 7 1 11-4 4 21 -1 19 -3 11 9 11 2 15 6 8 11 9 3-1 -3-16 -2-10 -6-3 -8-10 -2-10 -4-7 6-14 3-5 6 5 4 5 2 6 8 3 2 9 10-8 12-7 3-13 -1-12 -11-12 -4-10 6-8 8-8 9 1 4 7 3-7 11-5 9-2 11-3 9-9 9-9 7-13 9-12 -1-6 1-8 -4-8 -4-9 8-7 11-5 -5-3 -10 1 -2-5 -3-6 5-2 13-9 6 2 -7 9 7-5 9 0 3 8 5 7 -4 15 6 2 10-4 3-10 -4-11 -3-6 13-8 7-8 7-6 7 3 11-7 12-10 19-18 3-15 6-7 -1-6 -15-5 1-2 22-24 12-5 20 1 13-2 14 2 7-4 8-9 13-1 16-3 -9 18 -22 9 -9 15 0 23 10-10 8-9 11-11 7-11 6-10 9-4 17 3 12-9 17-5 9 0 -6-12 14-5 13 2 14 4 2-6 9-3 -18-5 -24-9 -16-6 -21-1 -18 2 -20 0 -3-6 -19-1 -19-2 -18-4 -18-1 -10 5 -19 0 -13 2 -2-7 -7-5 -16 2 -14-2 -18-1 -10-2 12-7 -17-9 -22 4 -10 4 -18-1 -23 4 -10 5 -3 5 -20-2 -9 5 -15 0 -6-2 -17 9 -11 13 -12-1 -2-9 -33 8 -23 2 -12 0 -28 0 -5 1 -15 5 -18 9 -23 9 -7-2 10-8 -2-6 13 1 26-5 -5-5 -16-4 -12-3 -8-5 -27 5 -31 8 -19 8 -14 8 -19 8 -24 8 -18 6 -18 14 -2 6 9 0 21-8 0 2 -7 9 -5 8 1 4 13-4 11-8 7-6 15-5 4-6 4-6 8-5 13-6 16-5 14-7 9 0 -2 4 -8 4 -19 7 -17 11 0 6 17-3 14 2 -11 4 -19 1 -7 4 -4 6 -16 3 -9 8 -15 7 -9-2 -18 5 -8-2 -8 2 1-5 13-9 10-8 -13 3 -13 10 -8 9 -10 2 -12 3 -12 8 -14 4 -8 5 -11 4M857 -306l-7-1 3 6 -12 2 17 7 13 7 8 10 3 6 -11 0 -21-2 -2 5M-757 -255l10 0 16-5 8 0 4 4 6 3 11-1 9-3 5-7 -5-5 -5-6 -2-5 -3 0 -9 3 -9 2 -1-6 8-4 -5-3 -5 0 -9 6 -4 3 -8 5 -9 8 -4 6 1 5M-634 -288l9-3 9 2 -5 9 -12 5 -7 9 6 6 -5 9 1 9 -5 10 -17 4 -6-4 0-7 9-10 4-1 -4-9 0-7 5-9 2-7 16-6M-261 -194l6-1 6-15 8 3 8-1 3-6 7 1 2-2 9-1 6-2 5-4 2-10 4-7 3-6 -1-10 -6 0 -3 7 -2 8 -7 6 -9 5 -1-2 -5 8 -3 3 -13 0 -9 6 -4 3 -6 5 1 8 -1 4M-200 -257l5-1 11-2 13-8 -4-4 -11-9 -2 2 -3 10 -5 1 -3 5 -1 6M-185 -285l8-3 0-15 7 0 -4-15 4-16 -2 0 -6 10 -1 9 -4 18 -2 12M-320 -140l3 4 7-16 -1-5 -6 5 -3 12M-384 -115l7 2 6-9 -4-3 -7 2 -2 8M-546 -50l2 13 8-8 -5-14 -4-1 -1 10M-463 -34l12 2 14 16 18 19 6 9 8 7 1 17 -8 1 -13-12 -8-13 -10-15 -7-11 -9-10 -4-10M-408 42l4-5 14 3 11 2 11 1 11 5 -1 6 -18-3 -17-3 -14-5 -1-1M-388 -9l3-3 8 2 11-9 8-10 6-4 8-10 12 10 -7 6 -1 16 6 5 -8 5 -5 10 0 11 -9 5 -10-5 -7 0 -9-2 -1-9 -5-6 0-12M-331 35l1-13 -4-10 5-12 2-5 14-1 11-3 -10 7 -14-1 5 9 11 0 -10 5 8 16 -6 4 -6-14 -2 18 -5 0M-268 8l8-6 9 4 5 14 14-11 16 7 22 8 7 9 10 6 1 11 12 14 -10-1 -11-13 -11-2 -4 8 -13 0 -11-6 -5 2 -3-4 6-5 -4-10 -15-6 -9-3 -3 1 -5-7 -6-10M-320 -115l9 0 -2 10 -4 7 1 10 12 7 -8-4 -10-3 2-8 -5-5 3-7 2-7M-317 -43l9-5 11-13 6 16 -4 6 -3 4 -8-5 -11-3M-316 -65l11-6 9-7 -4 16 -11 3 -5-6M-305 63l17-11 -12 5 -5 6M-356 136l2 19 11 25 4 18 3 15 16 5 9-7 18-1 12-10 15-4 12-1 16 7 9 14 1-8 8-6 0 12 6 0 -2 7 9 4 6 11 16 4 14 2 7-8 11-2 0-12 4-12 6-10 2-12 1-12 -3-14 -4-8 -9-12 -7-2 -6-12 -12-9 -3-12 -3-12 -9-4 -2-10 -6-13 -5 14 1 16 -5 12 -8-1 -12-8 -8-7 6-16 -7-2 -16-3 -6 5 -7 5 -3 11 -11-5 -8 1 -5 8 -7 9 -7 8 -5 8 -12 5 -12 2 -9 7 -6 1M-177 252l18 1 1 8 -5 8 -9-6 -5-11M-38 214l9 7 8 8 13 5 -5 10 -3 1 -7 13 -4-2 2-9 -6-4 4-7 -1-10 -10-12M-37 251l9 7 -6 8 -2 5 -7 4 -3 9 -7 4 -13-3 1-5 7-8 11-6 5-7 5-8M828 -309l9-3 11-3M-848 -315l7-1 12-9 -2-4 1-2M830 -331l-7-4 -12-7 -6-3 -7-1 -3-7 -13-6 -7 0 8 9 7 6 9 4 10 2 2 4 10 6 -9 0 8 4 -1 5 11 2 -2 8M813 -322l-12-11 -3-3 -11-4 -2 3 -3 3 4 4 7 9 6 3 7-1 7-3M660 -391l-15-7 2-5 22 1 13 3 9 3 0 5 -9 5 -19-2 -3-3M-589 -463l0 7 6 2 20-4 32-6 -6-6 -15-1 -27 4 -10 4M-491 -428l17 3 5-12 25-11 39-7 4 1 -37 7 -25 10 -9 1 -19 8M-290 -465l23 4 13-6 -14-6 -19 1 -3 7M-449 -470l27-2 26-1 -8-3 -31 3 -14 3M-157 -449l15 7 24-5 -6-3 -21-1 -12 2M-6 -427l10 1 8-3 -12-1 -6 3M509 -136l12-7 13 0 15 8 19 10 -18 2 -4-6 -18-6 -19-1M569 -115l7-8 16 1 10 7 -9 2 -8 4 -16-6M584 -294l7-12 -6-12 20 12 9 12 -8 5 -22-5M-173 34l9-2 8-6 4 2 -6 6 -6 4 -9-2 0-2M-111 58l6 2 0 1 -6 0 0-3M-106 52l5 5 -1 2 -4-4 0-3M-85 125l10 8 5 5 -2 0 -11-9 -2-4M-15 108l7-1 0 6 -7-1 0-4M130 -118l4-2 0-3 -5-2 0 3 1 4M117 -132l3 0 -2-3 -1 1 0 2M-328 53l17-2 -1 3 -15 1 -1-2M-345 53l12-2 0 3 -10 2 -2-3M-358 51l7 1 5 0 0 3 -11-1 -1-3M-287 -11l5 2 -3 6 5 3 -5 4 -3-7 1-8M-284 20l15 1 -2 3 -12-2 -1-2M-295 19l6 1 -2 4 -4-2 0-3M-73 92l4 2 -1 5 -3-3 0-4M559 317l14 0 -6 5 -8-1 0-4M-705 423l38 0 38-1 36-3 16-3 17-2 14-6 14-5 20-1 25 5 22 1 25 6 14 7 11-2 7-5 9-8 23-3 28 0 19-3 21 2 20-2 22 3 21 0 20-1 20 0 20 0 22 3 21 3 22 6 21 2 20 6 13 2 12 5 15 0 3 5 -9 8 -13 7 -6 7 8 4 10 1 11 0 35 1 35 1 35-2 8-4 22-1 28-7 39-5 39-3 36 2 36 1 23-5 21-2 19-1 36 2 25-6 17 2 19-18 2 6 20-16 22-11 38-9 -14 6 -17 8 -14 11 -7 11 -18 15 -15 10 0 4 -7 5 30 4 34 1 22-3 30-7 35-9 34-5 35-8 33-3 24-3" fill="none" stroke="#000" stroke-width="9" stroke-linejoin="round"/>
</g>
<path d="M448.7,343.2 451.1,342.5 453.7,341.6 456.7,340.5 459.8,339.2 462.8,337.8 465.6,336.2 468.2,334.7 470.7,333 473,331.3 475.3,329.6 477.5,327.9 479.6,326.1 481.6,324.3 483.3,322.4 485,320.6 486.5,318.7 487.9,316.8 489.1,315 490.2,313.1 491.1,311.2 491.9,309.3 492.5,307.4 493.1,305.5 493.5,303.6 494,301.7 494.3,299.8 494.5,297.9 494.7,296 494.8,294.1 494.8,292.3 494.7,290.4 494.5,288.5 494.3,286.6 494,284.7 493.5,282.8 493.1,280.9 492.5,279 491.9,277.1 491.1,275.2 490.2,273.3 489.1,271.4 487.9,269.6 486.5,267.7 485,265.8 483.3,264 481.6,262.1 479.6,260.3 477.5,258.5 475.3,256.8 473,255.1 470.7,253.4 468.2,251.7 465.6,250.2 462.8,248.6 459.8,247.2 456.7,245.9 453.7,244.8 451.1,243.9 448.7,243.2 343.9,243.2 341.5,243.9 338.9,244.8 335.9,245.9 332.8,247.2 329.8,248.6 327,250.2 324.4,251.7 321.9,253.4 319.6,255.1 317.3,256.8 315.1,258.5 313,260.3 311,262.1 309.3,264 307.6,265.8 306.1,267.7 304.7,269.6 303.5,271.4 302.4,273.3 301.5,275.2 300.7,277.1 300.1,279 299.5,280.9 299.1,282.8 298.6,284.7 298.3,286.6 298.1,288.5 297.9,290.4 297.8,292.3 297.8,294.1 297.9,296 298.1,297.9 298.3,299.8 298.6,301.7 299.1,303.6 299.5,305.5 300.1,307.4 300.7,309.3 301.5,311.2 302.4,313.1 303.5,315 304.7,316.8 306.1,318.7 307.6,320.6 309.3,322.4 311,324.3 313,326.1 315.1,327.9 317.3,329.6 319.6,331.3 321.9,333 324.4,334.7 327,336.2 329.8,337.8 332.8,339.2 335.9,340.5 338.9,341.6 341.5,342.5 343.9,343.2Z" fill="none" stroke="#000" stroke-width="0.9"/>
<g clip-path="url(#c13)">
<g transform="scale(0.1)" fill-rule="evenodd"><path fill="#fff1dd" d="M4484 3619l49-1 48 12 9 8 1 8 -5 8 -18 9 -6 8 -3 67 7 17 31 16 5 75 14 17 24 3 47-12 10-16 4-42 -4-16 -8-8 -73-27 -11-24 -6-25 2-25 6-6 33-2 49 9 21 32 37 17 15 33 10 6 114 12 8 8 3 16 -11 16 -21 9 -8 9 -4 16 1 50 8 14 33 13 24 23 74 4 0 117 -164 4 -57-3 -50 8 -49-11 -13-11 -10-24 -10-9 -33-8 -6-25 -10-12 -58-9 -73 2 -6-6 -2-25 -8-17 -29-17 -16-66 -13-10 -17 4 -16 27 -17 11 -65 5 -14 29 -19 15 -57-3 -19-12 -3-16 13-17 66-10 12-7 0-24 -34-17 -10-17 -1-50 9-25 24-7 16 7 8 17 5 66 12 6 8-1 11-13 19-58 1-84 4-16 14-5 25 30 66 12 23-12 21-33zM4033 3669l106 0 19 11 4 16 -11 17 -36 12 -19 29 -63 7 -14 10 -6 17 -7 75 -6 8 -107-8 -16-5 -9-20 -2-50 11-16 24-9 8-9 5-58 7-16 13-6 17 3 20 27 21 6 13-6 13-24zM3540 3785l6 3 -6 3zM3351 3828l50-5 13 7 3 16 -16 11 -33-3 -25-8 -3-8zM3196 3861l16 6 6 21 -6 19 -16 8 -17-9 -3-18 6-17zM4016 3873l74 1 15 6 7 16 -5 12 -17 11 -57-6 -17-8 -5-9 -2-16zM3335 3928l16-5 9 5 16 30 25 9 139 3 115-1 90-7 83 3 90-4 82 9 41 0 41-7 57 7 91-7 49 7 164 0 8 4 9 31 39 25 6 33 -4 4 -616-1 -189 5 -295-7 -197 4 -25-7 -16-40 -25-7 -8 1 -6 6 -5 33 -14 15 -16-1 -8-5 -15-42 -10-2 -16 7 -14 28 -11 7 -82 3 0-94 74 0 49 6 16 10 9 21 32 4 7-7 7-33 19-16 156 11 20-12zM4566 4027l25-5 8 8 6 66 4 8 15 8 98 1 50 13 57 1 9 3 16 24 16 11 123 2 0 100 -66 0 -15-4 -9-9 -9-24 -8-8 -16-5 -98 4 -91-4 -49 7 -25-7 -16-35 -27-19 -16-33 -15-8 -24-2 -4-7 0-42 4-4 34-4 10-9zM2941 4120l66 1 19 9 5 16 1 34 -1 16 -8 17 -24 8 -66 1 0-102zM4484 4121l20 0 -1 25 -11 24 -8 5 -8 0 -11-12 -4-25 7-11zM3343 4128l158 2 23 35 33 9 16 14 3 16 -5 42 -6 9 -17 8 -49 3 -16-4 -11-16 0-58 -6-17 -8-7 -16-4 -49 10 -50-8 -10-8 -4-8 2-8zM3984 4126l205 1 38 11 8 8 -28 58 -50 17 -18 25 -8 5 -49 4 -33 14 -16 2 -82 1 -25-5 -15-21 5-58 10-13 29-12 14-25zM3351 4379l42 4 16 11 10 44 -3 16 -7 8 -16 5 -42 0 -16-5 -7-8 -3-16 10-47 8-10zM3196 4382l8 0 8 9 10 55 -10 16 -25 10 -8 9 -4 15 0 67 -88 0 3-75 7-8 25-10 8-8 9-24 7-8 25-10zM4624 4386l20 2 5 8 -9 16 -16 1 -7-9 -1-8zM3967 4429l74 0 14 9 1 16 -8 9 -15 3 -82 1 -17-4 -7-17 4-8zM4222 4437l16-3 12 4 5 8 -2 8 -15 11 -16-3 -8-16zM4525 4432l8-2 15 8 2 12 -8 12 -17 1 -6-9 0-16z"/><path fill="#e2f3fb" d="M2941 3471l776 0 2 67 5 8 13 4 17-2 10-10 2-67 49 0 3 67 6 8 12 4 16-2 10-10 2-67 50 0 0 59 8 16 62 18 32 3 25-3 18-18 3-75 344 0 1 59 4 16 12 8 28 10 12 16 -2 24 -18 40 -16 11 -41-3 -14-6 -17-25 -10-8 -17-3 -16 9 -14 27 -1 92 -10 44 -8 4 -5-56 -11-20 -25-9 -16 1 -17 8 -8 11 -4 17 1 58 11 21 28 21 0 8 -69 21 -13 13 -4 16 11 17 14 8 50 11 16 0 24-19 19-25 55-7 17-10 25-28 8 0 11 20 10 41 6 9 30 17 2 24 -10 8 -25 2 -74-4 -57 3 -49-13 -91 13 -57-12 -33 11 -24 2 -107-9 -90 4 -83-3 -82 8 -115 3 -139-4 -25-5 -8-8 -13-29 -20-5 -16 12 -6 18 -11 12 -24 4 -49-4 -42-12 -9-8 26-15 8-9 8-26 -6-50 -10-13 -16-5 -17 10 -13 33 -11 50 -25 17 -25 61 -8 2 -16-20 -17-5 -131-4 0-493zM4034 3654l-18 9 -24 31 -8 0 -20-23 -13-6 -25-1 -18 7 -7 17 2 58 -6 8 -28 15 -11 19 5 58 6 14 8 6 82 8 33 13 11 17 13 11 74 16 25-18 9-17 0-8 -9-11 -17-8 -65-3 -17-8 -3-28 9-50 8-9 11-3 61-5 9-9 12-23 41-12 6-6 5-17 -13-25 -23-11 -57-7zM3490 3730l-14 8 0 16 7 8 21 9 16 33 20 7 20-7 7-16 -2-17 -7-8 -30-9 -21-21zM3339 3813l-12 10 -9 15 7 16 10 5 66 7 16-5 14-15 1-16 -15-15 -57-6zM4706 3471l287 0 0 456 -66-1 -57-20 -8-10 0-58 8-10 25-11 8-13 0-24 -8-13 -17-7 -65-2 -33-9 -8-6 -14-30 -36-18 -11-24 -13-13 -74-11 -8-9 0-9 8-10 57-4 16-11 5-24 0-109zM4575 3569l16 3 7 8 3 16 -9 8 -17 1 -15-9 -1-16zM4575 3691l8-1 7 40 0 8 -7 7 -9-7zM4616 3766l24-1 41 12 8 8 2 28 -13 33 -38 14 -25-6 -8-16 -1-42 1-16zM4468 3977l57-5 58 6 11 10 1 16 -4 6 -28 11 -21 35 -17 4 -11-6 -14-33 -33-17 -6-16zM3138 4024l16 0 9 8 10 31 23 9 205-5 295 9 189-7 435-2 164 7 11 6 1 24 -31 17 -7 9 -4 16 6 26 16 25 8 0 8-8 25-55 16-4 10 8 15 31 22 19 14 33 13 11 25 3 49-9 82 8 99-2 17 6 11 25 13 13 24 5 66 1 0 281 -143 0 -1-67 -4-16 -9-9 -23-9 -9-8 -8-24 -9-9 -24-9 -8-8 -9-24 -7-8 -17-5 -106 3 -15 10 -18 33 -50-6 -24 7 -12 16 -6 24 -7 9 -8 1 -16-10 -9-24 -16-11 -181-2 -32 3 -50 14 -6 4 -18 24 -17 3 -16-11 -7-16 -10-8 -57-22 -33-1 -24 1 -58 13 -12 9 -21 33 -8 1 -8-2 -18-24 -15-9 -66-3 -41-7 -41 8 -106 2 -17 9 -16 24 -17 3 -16-11 -17-29 -16-7 -49-6 -21-32 -20-12 -58-9 -18 12 -23 41 -41 5 -16-5 -25-43 -24-11 -17 6 -7 7 -10 25 -8 8 -23 9 -9 8 -9 25 -8 8 -23 9 -9 8 -6 25 -1 67 -133 0 0-328 66-1 24-5 16-16 6-33 -2-42 -8-17 -20-6 -82-1 0-44 90-2 12-5 13-20 8 0 16 31 17 8 16 0 17-13 8-32zM3982 4121l-15 9 -16 27 -31 14 -12 17 -9 58 11 21 24 15 99 2 49-16 57-4 12-10 13-26 49-16 37-58 -4-17 -49-14 -66-4zM3329 4130l-6 8 1 16 19 15 50 13 41-13 16 1 8 4 9 22 -1 58 17 18 24 2 50-6 16-9 10-13 4-33 -4-25 -18-17 -34-8 -9-9 -15-27 -16-5 -131 0 -17 1zM4616 4026l16-1 9 5 14 33 10 8 49 15 16 0 42-14 57 4 164-3 0 80 -115-2 -41-31 -65-1 -50-19 -41 6 -57-1 -10-9 -6-33 -1-25z"/><path fill="#ffdcb0" d="M4476 3660l49-3 17 7 6 16 5 74 5 9 30 17 7 66 11 17 10 6 24 3 51-9 13-17 5-42 -3-24 -8-13 -41-15 -41-37 -6-27 4-8 10-6 24 1 33 11 20 27 38 16 11 25 13 14 118 12 6 8 -1 10 -32 21 -5 11 0 74 13 16 25 10 21 24 11 6 74 2 0 99 -164 6 -57-4 -50 6 -29-6 -22-9 -23-34 -32-13 -13-27 -12-10 -49-6 -74-2 -7-8 -10-34 -32-24 -9-58 -13-17 -29 0 -10 9 -13 24 -9 5 -49 3 -20-8 0-24 33-17 20-50 29-17 6-8 4-42 4-8 23-4 12 4 21 16 16 0 25-32zM4098 3679l41-1 12 10 0 8 -12 11 -32 8 -24 31 -50 3 -17 11 -8 20 -8 66 -8 13 -99-3 -15-10 -5-33 2-25 7-8 32-17 7-17 5-41 8-15 8 0 25 26 33 4 18-7 14-25 9-5zM4222 3729l16-4 8 4 5 9 2 50 -7 20 -16 1 -13-13 -2-50zM4041 3879l49 2 10 7 2 8 -5 8 -15 7 -49-6 -11-9 0-8zM4181 3877l57-4 12 7 0 16 -4 8 -16 7 -49-4 -12-11 0-8zM3343 3933l8 0 6 5 19 27 25 6 131 3 205-7 189 0 74 10 82-4 57 4 91-5 49 5 148 1 16 7 17 28 32 17 5 16 -2 8 -11 6 -49 3 -550-1 -197 5 -295-6 -189 3 -17-3 -7-7 -10-33 -7-8 -22-9 -7-8 4-20 16-8 156 0 17-11zM2941 3977l81 3 28 8 5 8 -24 20 -12 30 -10 8 -76 3 0-80zM3089 4027l16-2 6 5 2 16 -8 11 -17-3 -4-16zM4575 4032l8-1 8 7 6 58 9 17 10 5 106 4 50 14 51 2 10 8 14 25 23 11 123 0 0 70 -57 0 -17-5 -16-33 -25-12 -49 1 -49 8 -58-7 -82 11 -24-3 -8-8 -14-33 -25-17 -17-33 -35-12 -5-13 5-19 39-14zM2941 4127l58 1 16 5 7 13 1 25 -3 25 -5 9 -16 7 -66 0 0-85zM3343 4136l66-2 20 4 13 7 33-10 24 1 17 30 16 8 24 6 9 8 2 25 -7 33 -20 10 -49 0 -8-7 -4-11 -1-58 -8-17 -12-12 -16-4 -33 12 -25 1 -37-6 -8-8zM3984 4134l24-4 173 2 24 6 8 8 0 8 -16 46 -114 30 -34 29 -33 3 -82-2 -8-6 -6-16 5-50 34-20zM4476 4132l8-2 10 8 -2 14 -8 9 -8-1 -8-14z"/><path fill="#bcdcf8" d="M2941 3471l382 0 1 117 3 9 16 8 8-3 10-14 1-117 109 0 1 67 3 8 16 9 66 3 33 7 57-8 66 10 41-1 33-8 57 8 49-8 61 13 11 9 17 33 25 17 -1 16 -14 15 -8 1 -63-16 -28-16 -15 8 -2 58 16 42 -5 8 -27 19 -13 23 10 66 12 16 8 5 74 5 14 8 15 16 28 16 49 15 4 11 -14 8 -22 2 -41 0 -42-9 -32-1 -82 8 -91-6 -33 8 -57 5 -57-2 -50 4 -131-5 -25-7 -16-36 -17-7 -24 7 -13 31 -12 10 -44-2 -32-8 -5-8 2-8 14-26 8-28 8-8 41-10 49 13 50 4 24-4 41-18 26-32 56 0 25-7 15-18 10-24 16-13 8-13 0-8 -11-8 -63-5 -49-17 -66 9 -4 4 -2 67 -7 8 -11 2 -17-2 -9-8 -3-67 -4-4 -41 0 -4 13 8 50 -2 16 -19 23 -16 7 -49-11 -17-19 1-16 32-21 9-13 3-25 -4-4 -75 13 -13 8 -18 25 -29 17 -21 32 -32 5 -4 4 10 92 -3 33 -7 8 -29 5 -115-2 0-100 77-3 13-8 17-24 32-5 4-4 -1-25 -12-50 -7-8 -25-10 -24-40 -74-3 0-206zM3589 3621l-12 9 -2 16 15 9 16-2 8-7 -4-16 -12-9zM3733 3630l-12 8 4 16 12 9 17-1 8-12 -2-12 -13-8zM3294 3671l-17 17 -3 25 4 4 41 0 4-4 -4-27 -9-11zM3380 3688l-7 16 3 13 41 0 4-4 -3-17 -6-8 -19-4zM3684 3730l-12 8 0 8 8 12 16 5 12-9 4-16 -11-8zM4213 3471l95 0 -1 109 -9 24 -32 26 -20 32 -41 12 -16 1 -41-23 -25-7 -25-20 -24-13 -8-8 -1-16 14-17 28-9 90-10 11-14 1-67zM4378 3569l57 12 6 7 -1 16 -9 9 -12 3 -41-3 -11-9 -7-16 2-8zM4919 3619l74-2 0 290 -74-1 -41-10 -8-16 2-34 6-8 25-11 10-14 4-17 -4-25 -10-14 -17-8 -65-3 -14-8 -1-8 7-8 24-10 8-8 9-24 9-9 23-9 9-8 8-24zM4131 3744l17-5 9 7 6 50 32 34 2 11 -58 30 -8 1 -33-9 -57-2 -16-5 -5-10 -1-16 6-37 7-13 75-8 14-9zM4624 3775l31 5 19 8 6 8 -4 17 -15 25 -21 14 -16-1 -10-13 1-50zM4369 3869l9-4 8 1 8 14 9 33 35 25 -3 14 -8 4 -41 1 -58-8 -41 7 -16-2 -13-8 -2-8 4-8 19-17 16-4 33 5 8-2zM4123 3919l16-6 45 25 -1 8 -35 9 -25-1 -13-8 -2-8zM4492 3979l33-3 36 4 22 6 4 10 -5 8 -29 17 -13 25 -15 5 -24-38 -29-17 -1-8 5-4zM3146 4032l11 6 7 25 7 8 25 6 49-5 156-2 147 2 148 9 189-9 238 2 197-4 158 10 11 8 0 8 -5 8 -28 17 -10 25 10 50 11 17 25-1 9-8 24-56 8 0 29 48 3 50 10 17 57-7 33-16 16-3 17 7 16 15 16 7 91 2 16 4 25 40 24 9 8 9 9 24 8 8 16 5 66 0 0 100 -66 0 -16-5 -8-8 -9-24 -8-9 -24-9 -8-8 -9-24 -9-9 -23-9 -9-8 -8-24 -8-8 -16-5 -42 0 -57 11 -33 21 -65 15 -16-10 -9-24 -8-8 -17-3 -57 11 -25 32 -33 5 -41-5 -8-8 -9-24 -7-8 -17-3 -16 11 -9 24 -8 9 -24 12 -25 24 -49 15 -25 1 -16-9 -11-26 -14-8 -12 8 -21 24 -17 0 -14-8 -5-8 -9-34 1-33 9-25 19-12 49-3 17-6 11-12 13-30 66-16 8-8 14-46 -2-25 -12-10 -49-10 -58-3 -164 3 -16 12 -17 24 -24 10 -16 16 -15 33 -15 17 -5 16 10 17 24 17 25 33 24 8 8 9 5 16 -1 34 -1 8 -10 10 -66 27 -41-16 -61-5 -29-23 -17-2 -41 26 -106 2 -50 7 -13-10 -15-24 -13-10 -57 4 -62-28 -8-16 0-59 -4-4 -66 1 -57 11 -16 9 -5 25 -4 4 -33-5 -8-8 -12-41 -6-75 -9-8 -62-17 -11-17 2-16 32-21 11-13 10-25 4-31zM3332 4121l-16 17 1 16 10 14 41 16 11 12 -6 50 -1 17 4 4 25-2 15-11 3-16 -5-42 11-13 17-6 9 3 8 16 -6 58 8 17 14 11 24 3 66-12 35-19 6-8 2-42 -4-16 -31-19 -41-12 -15-27 -10-9 -16-3 -140-1zM4270 4230l-8 8 1 9 8 11 16 4 7-8 0-16 -7-7zM4624 4033l13 5 11 34 9 10 13 6 -30 8 -16-7 -9-43zM2941 4077l81 3 10 8 0 8 -17 10 -82 1 0-30zM4763 4078l66 4 164-3 0 48 -115-1 -49-16 -57 3 -20-9 -7-8 2-8zM3228 4317l74 2 16 11 0 16 -8 11 -16 9 -41 0 -16-9 -8-11 -5-25z"/><path fill="#ffa628" d="M4484 3678l33 0 16 8 9 77 8 11 27 14 6 15 3 43 10 17 20 13 24 2 49-5 18-10 10-17 4-50 -4-25 -11-14 -29-11 -10-8 -2-8 8-9 53 17 18 33 19 11 96 6 6 8 -20 16 -5 18 0 58 5 25 9 12 24 14 33 29 82 4 0 83 -74 1 -90 6 -57-4 -50 5 -16-4 -28-13 -29-33 -25-11 -25-34 -57-9 -58 0 -14-5 -15-41 -27-25 -7-58 -11-15 -16-5 -25 1 -17 10 -19 25 -46 0 -1-8 23-17 11-41 8-9 65-17 26-24 32-10 9-8 10-24zM4632 3689l13 7 -5 7 -8-1 -5-6zM3942 3724l58 13 6 9 -9 67 -5 22 -8 12 -83-1 -8-3 -8-13 0-34 8-8 17-6 14-11 10-36zM4230 3747l8 0 0 41 -8-1zM4205 3888l24 0 -1 8 -26 0 0-8zM3343 3949l8 0 17 17 16 8 107 6 435-7 74 14 419 0 16 6 25 27 24 14 4 12 -12 9 -49 5 -1223 0 -18-6 -13-41 -22-25 13-8 23-4 123-2 17-8zM2941 3988l58 0 16 5 4 11 -12 36 -16 6 -58 0 0-58zM4575 4057l8 10 3 37 12 17 18 5 82 3 32 7 16 10 4 17 -28 7 -35 26 -47 11 -19-3 -7-8 -8-25 -27-25 -13-26 -16-11 -22-5 -7-8 4-13 33-9zM2941 4138l50 0 16 7 3 26 -3 21 -17 7 -57 0 0-61zM3992 4142l180 0 20 4 4 8 -7 35 -17 4 -24-21 -23-1 -10 9 -9 16 -40 23 -25 28 -74 2 -28-3 -7-16 2-34 33-24zM3483 4152l8-6 16 25 9 6 39 11 4 16 -11 36 -12 6 -29 1 -8-1 -8-8 -1-58zM4755 4168l31 3 8 9 1 8 -9 8 -23-1 -11-15z"/><path fill="#64b3f3" d="M2941 3471l293 0 3 79 8 12 24 18 3 8 1 42 -4 18 -8 11 -24 16 -25 28 -74 27 -25 29 -16 2 -8-11 -9-29 -9-8 -23-9 -25-40 -24-7 -66 0 0-186zM3384 3471l37 0 1 67 4 16 8 8 49 14 65 3 15 9 -2 16 -37 26 -4 33 -4 4 -74 9 -33-8 -58-2 -20-12 -4-16 41-23 12-19zM4222 3570l24 2 7 8 2 16 -9 13 -24 12 -17 25 -16 8 -20-8 -21-25 -25-12 -8-13 2-8 14-9 66-3zM3639 3579l9 1 14 8 1 12 -8 12 -16 1 -12-9 -3-16zM3770 3579l140 0 32 6 8 11 -8 17 -57-5 -16 6 -8 7 -6 17 -1 25 7 75 -9 14 -16 12 -66 3 -4-4 5-33 40-26 4-24 -1-42 -11-16 -70-18 -10-8 6-10zM3524 3667l79 13 10 8 0 8 -15 10 -59-2 -13-8 -4-8 -2-17zM3688 3670l16 5 9 13 -1 8 -8 7 -21 1 -11-8 1-16zM3639 3771l8 0 13 9 20 32 16 3 16-11 17-29 16-7 17-1 4 4 4 32 8 9 58 10 12 41 12 16 17 7 57 3 14 7 2 8 -8 11 -57 3 -27 20 -14 4 -57 0 -42-14 -16 5 -15 13 -18 5 -49 5 -57-3 -50 6 -147-11 -8-10 -9-30 -8-8 -17-6 -24 6 -8 8 -9 30 -8 10 -24 1 -36-11 3-13 41-44 16-3 41 8 58 0 98-20 8-3 23-25 27-8 49-26 20-24zM3286 3776l8-4 13 8 3 8 -8 13 -8 3 -14-8 -2-8zM4049 3787l41 0 17 5 16 17 29 21 2 8 -4 8 -19 10 -82-1 -16-4 -8-13 8-38 8-11zM4632 3789l15 7 1 8 -8 29 -8 6 -6-9 -2-17 3-17zM3040 3870l16 2 9 16 1 42 -2 8 -8 7 -123 1 0-69 74 0zM4378 3887l16 34 20 17 -4 3 -24 5 -23-8 -2-8 8-34zM3984 3929l32 9 -24 6 -19-6 2-6zM4139 3935l4 3 -11 0zM4279 3938l8-5 9 5 -9 3zM4501 3987l41-3 18 4 8 8 -35 37 -8-1 -33-36zM3220 4079l173-6 147 3 156 15 75-11 114-4 238 2 205-5 117 7 26 8 3 8 -27 25 -9 17 2 58 -5 17 -24 17 -9 24 -16 11 -41 2 -17-4 -8-11 0-25 32-23 0-24 -16-11 -14 2 -10 9 -8 20 -9 5 -16-1 -9-16 4-42 -12-16 -16-8 -107-12 -155 0 -25 10 -24 26 -58 35 -25 28 -24 21 -11 66 11 16 23 9 9 9 4 24 -4 13 -65 0 -58-10 -49 9 -123 1 -25-3 -17-18 -2-42 11-12 58-13 16 0 8 5 17 28 24 5 41-2 16-11 3-8 -3-16 -9-9 -68-8 -6-17 -2-58 -12-17 -77-17 -22-33 -17-7 -164 1 -23 15 -7 16 14 26 38 24 -6 16 -32 13 -33 5 -29 24 -53 10 -8-2 -9-13 -3-53 -5-16 -16-17 -25-11 -8-14 8-13 17-12 15-25zM3687 4121l-11 9 -6 16 10 16 16 3 16-11 1-16 -9-13zM4763 4087l25-3 18 4 12 8 -25 8 -21 1 -13-9zM4854 4095l139-4 0 15 -115-1 -31-9zM4533 4179l10 17 -2 58 -8 10 -16 7 -25 31 -24 2 -12-16 0-34 4-16 47-17 18-40zM4181 4245l8-4 16 4 17 18 24 12 10 13 2 16 0 34 -7 16 -29 17 -22 25 -11 4 -8-1 -9-8 -12-53 1-42zM4665 4270l16 0 8 5 8 13 -1 8 -12 8 -52 11 -15-2 -9-9 -1-11 9-11zM3442 4319l14 2 9 9 1 11 -8 11 -16 2 -13-8 -2-16zM4090 4320l8 2 10 16 -6 16 -12 8 -13-8 -3-16 8-15zM3869 4367l32 5 9 15 -4 9 -13 8 -16-3 -10-13 -2-17z"/><path fill="#fb8600" d="M4476 3769l16 3 8 8 5 24 -4 13 -25-2 -16-11 0-24zM3975 3773l9 1 4 14 -4 19 -9 3 -8-8 -2-14zM4361 3779l28 1 9 8 -10 8 -27 4 -25 9 -5-5 2-16zM4509 3817l33 5 26 32 39 27 25 7 57-3 25-9 30-22 11-24 9-9 24-4 33 3 7 18 4 75 13 25 17 16 57 29 74 2 0 60 -66 0 -98 13 -49-5 -64 1 -16-8 -43-38 -25-13 -18-24 -12-8 -126-14 -6-11 -11-50 2-8 36-26zM3335 3969l16-4 25 13 17 3 98 7 99-6 336-3 25 3 33 19 16 2 419 1 16 5 37 29 -4 9 -41 8 -1215 1 -16-2 -9-8 -6-50 6-7 50-8 65 0zM4632 4138l49 2 12 6 0 8 -28 17 -17 17 -16 6 -8-7 -13-41zM3992 4170l33-3 23 4 8 9 1 16 -8 11 -16 9 -41 0 -15-3 -8-9 -1-8 7-13zM3532 4195l9 1 -1 13 -8 1 -5-6z"/><path fill="#2196f2" d="M2941 3471l273 0 1 75 9 58 -1 34 -7 16 -29 17 -24 30 -25 3 -25-32 -23-9 -9-9 -9-24 -8-8 -24-9 -8-9 -9-24 -8-8 -16-5 -66 0 0-96zM3401 3618l41 0 15 3 8 9 0 16 -13 8 -10 2 -61-10 -3-8 5-8zM4049 3819l41 1 11 10 1 8 -20 6 -33-1 -10-5 0-8zM3598 3829l16 8 17 25 24 10 8 8 12 24 25 17 3 9 -4 8 -44 12 -57-6 -58 11 -49-12 -91-5 1-17 8-3 82-2 72-20 5-8 4-42 9-11zM3737 3869l17 3 7 8 1 16 -8 7 -25 2 -10-9 3-16zM3286 3928l8-1 0 7 -8-1zM4525 3995l12 1 -2 8 -11 0zM3253 4079l293 1 52 12 49 2 7 2 3 8 -26 17 -18 25 -15 5 -41 1 -17-4 -16-27 -25-12 -148-1 -24 4 -45 26 -13 29 -65-1 -17-9 -9-19 12-42 38-13zM3885 4079l66 5 172 1 107-8 106 0 99 8 14 3 6 8 -12 17 -16 12 -91 9 -49-1 -41-17 -107-13 -155 1 -25 7 -66 43 -65 13 -50-5 -20-32 -31-26 3-8 40-10zM3278 4167l24 9 11 12 2 8 -13 9 -16-2 -11-15 -1-17zM3787 4220l8 1 9 17 -4 16 -13 10 -16-10 -3-16 10-16z"/><path fill="#e64b1e" d="M4525 3870l55 10 41 33 27 4 82-2 17-11 16-29 9-4 16 1 11 16 6 66 16 12 57 14 13 8 7 16 -1 26 -11 10 -57 11 -57-8 -50 0 -24-30 -33-15 -24-27 -25-13 -132-19 0-18 16-17 13-24zM3319 3988l32-8 33 9 66 3 41 14 16-2 25-10 41-3 353-2 16 2 25 19 17 6 435 1 16 4 18 17 -5 8 -21 3 -731 3 -484-2 -16-4 -4-8 4-24 32-19 17-4z"/><path fill="#1863bf" d="M3532 3920l33 1 8 9 -1 8 -15 9 -30-1 -10-8 2-8zM3639 3920l16 7 -2 11 -22-1 -5-7zM3237 4087l156-6 57 4 98 1 25 10 3 17 -5 17 -14 10 -11-2 -30-31 -25-6 -90 5 -58-4 -98 24 -17-6 -9-16 2-8zM3869 4087l32-1 48 10 -9 8 -30 15 -25 7 -49-9 -41-1 -18-12 10-9 57-2zM4172 4087l58-6 106-1 71 8 24 8 -3 8 -26 10 -57 7 -50 1 -137-26 7-8z"/><path fill="#b21c1c" d="M4575 3920l16 7 2 11 -27 0 -4-8zM3237 4020l197-2 65 10 58-10 369 0 16 2 33 16 13 2 -292 4 -487-4 1-8zM4821 4019l16 4 5 7 -4 8 -26 0 -4-8z"/><path fill="#9a27b0" d="M3384 4088l27 0 9 8 -45 0zM4222 4087l114-1 43 10 -10 8 -24 6 -58 2 -78-16zM3261 4096l16 0 -16 5 -7-5zM3540 4096l8 4 0 7 -11-3 -3-8z"/><path fill="#e64b1e" d="M4525 3869l58 0 14 11 19 31 32 6 82-2 15-11 18-30 17-4 8 4 10 14 5 58 10 15 16 5 49 3 15 11 6 24 -4 47 -9 10 -16 5 -148-1 -14-11 -19-31 -31-19 -11-24 -15-11 -140-2 -24-7 -9-14 3-16 30-19 19-31zM3245 3969l197-1 23 12 18 30 16 4 15-10 18-31 16-5 378-1 25 6 18 31 23 12 427 1 24 7 8 12 1 10 -13 17 -29 4 -1182 0 -24-1 -17-6 -9-14 4-16 30-19 18-31z"/><path fill="#1863bf" d="M3540 3921l17 3 9 14 -4 16 -14 9 -16-3 -9-14 4-16zM3639 3921l16 3 9 14 -3 16 -14 9 -16-3 -9-14 3-16zM3245 4069l303 0 15 11 4 8 0 58 -10 14 -19 3 -12-9 -19-31 -16-5 -246-3 -14-11 -3-8 3-16zM3787 4069l632-2 24 7 8 12 1 10 -9 14 -24 7 -616 0 -20-4 -13-15 3-18z"/><path fill="#b21c1c" d="M4575 3921l16 3 9 14 -4 16 -13 9 -17-3 -8-14 3-16zM3196 4019l1214-2 33 7 8 12 1 10 -13 17 -29 4 -1190 0 -24-2 -14-11 -3-18 8-12zM4821 4021l16 3 9 14 -3 16 -14 9 -16-3 -9-14 3-16z"/><path fill="#9a27b0" d="M3540 3921l17 3 8 14 -3 16 -14 9 -16-3 -9-14 4-16zM3245 4069l295-1 12 3 10 9 4 16 -9 14 -25 7 -279-1 -16-6 -9-14 3-16zM3885 4071l16 3 9 14 -3 16 -14 9 -16-3 -9-14 3-16zM4181 4069l197-1 12 3 10 9 3 16 -9 14 -16 6 -189 0 -17-6 -9-14 4-16z"/><path fill="#6a1b8a" d="M3393 4071l16 3 9 14 -4 16 -13 9 -17-3 -8-14 3-16zM4230 4069l106 0 14 11 4 16 -9 14 -17 6 -98-1 -14-11 -3-8 3-16z"/></g>
<path transform="translate(396.3,401.7) scale(0.1)" d="M56 -414l11-9 24-5 18 2 28 4 17 2 21 4 22-6 24 3 30 3 31 5 18-3 31 4 7-6 22 2 16-5 25 16 -10 3 -2 8 -10 11 0 19 14 12 24 6 29 6 11 14 15 6 -9-17 4-12 -15-12 -6-11 -11-11 18 1 23 7 12 13 15-4 0-5 31 22 26 12 18 11 -6 12 -22 2 -11 5 15 5 7 12 21 6 -21 7 -18 4 4 12 -14 8 -2 12 1 10 7 11 -7 4 -8 8 -7 11 8 18 6 16 -4 5 -11-14 -6-13 -11-2 -16-3 -7 7 -8-1 -16-2 -13 12 0 17 1 17 12 20 9 5 16-2 3-15 16-3 2 18 -3 16 13 0 12 6 4 19 1 9 10 9 13-3 11 6 1 3 -3 5 -11-1 -3-5 -14 0 -15-11 -1-7 -11-12 -19-5 -18-13 -13 2 -20-8 -20-8 -12-11 0-11 -8-11 -15-14 -13-14 -13-19 -11-4 7 11 9 9 7 13 7 12 5 10 -14-13 -12-19 -12-14 -10-14 -9-9 -11-4 -9-12 -8-9 -6-11 -6-13 -5-26 -8-13 7-4 -11-6 -14-6 -5-9 -15-11 -16-15 -16-9 -20-7 -18-1 -16-3 -16 7 -8 13 -17 6 -18 6 -11 3 19-12 10-12 -20 0 -13-11 -5-8 4-7 13-7 -21-1 -8-5 15-5 -9-11M376 -461l2-11 17-5 42-4 45-2 45 6 33 12 29 18 17 15 7 10 -12 9 -5 13 -14 5 17 28 -28-6 -29-17 -25-16 -22-16 -32-20 -35-9 -22 0 -30-10M483 -403l5 19 -10 3 -27-11 -23 0 6-11 3-5 -36-14 -30-2 -25-15 29-1 21 6 34 10 26 10 27 11M247 -416l31 0 34-3 -5-8 -27-10 -27 0 -15 5 9 16M342 -454l22-2 -1-9 19-10 3-4 -45-2 -44 4 8 5 38 18M211 -431l20 7 16-5 -10-10 -21-4 -5 12M326 -444l45 0 -8-7 -39-3 2 10M227 -449l49 2 -8-5 -44 0 3 3M299 -461l25-2 -16-10 -21 1 12 11M316 -434l17 2 5-7 -24-3 2 8M559 -50l10-15 13-6 7-6 4 9 17 3 22 0 13 0 9 12 18 16 22 3 11 9 6 16 8 15 22 10 25 1 15 13 11 7 -2 19 -12 15 -13 13 -4 24 -9 16 -8 16 -17 3 -25 15 -7 16 -16 15 -20 19 -14 9 -14 3 -1 6 -7 11 -25 5 -7 11 -14 1 -3 9 -12 16 -16 9 2 9 -20 15 -10 10 0 5 3 11 -11 3 -12-3 -6-11 4-18 12-18 16-22 10-15 9-22 12-15 11-19 7-24 10-19 7-31 0-10 -9-9 -17-18 -7-16 -9-25 -8-12 5-12 2-6 -4-10 4-9 3-6 5-7 5-9 0-15 -1-10M894 -222l-2 30 2 9 -11 11 -3 23 -6 19 6 12 4 19 -3 8 6 13 11 10 11 12 13 13 21 15 19-4 16 1 5-3M-983 -34l11-5 16 4 8 8 11-1 6 6 -2 16 -1 12 13 17 5 14 7 16 4 16 -5 21 2 15 14 22 9 13 12 27 11 10 18 21 8 14 10 4 11-5 17-1 9-8 5-13 5-12 -3-16 11-12 -4-13 -5-12 8-12 13-10 4-12 -4-22 -7-18 -4-10 2-12 8-16 13-15 14-13 12-12 9-18 10-19 2-8 -13 4 -22 4 -8-7 -2-12 -7-7 -8-7 -3-14 -3-18 0-6 -5-12 -2-13 -2-13 0-11 2-8 -5-3 -13 4 -18-5 -13-6 -12 3 -8 11 -16-4 -10-10 -7-3 -6-2 10-14 7-7 -6-2 -14 2 -22 1 -19 6M925 -222l-7 4 -16 0 -8-4M-710 74l9 22 -3 12 -2 19 -1 22 -8 9 -9-3 -8-19 3-12 -5-19 9-7 8-11 7-13M848 -266l16 24 11 13 12 0 9 6 2-5 13 0 1-9 -2-8M-910 -245l12-9 16-6 6-8 8-1 8 2 8-4 13-3 -2 8 3 9 9 9 -7 12 6-3 6-5 1-6 9 1 -4-5 0-6 -7-4 -1-10 6-7 8-1 1 2 0 8 5 6 5 7 -8 9 1 6 -1 9 0 9 8-6 3-7 4 2 2-13 9-3 10 0 0 4 -4 4 -2 9 1 8 11 3 10 1 12-4 7 2 -6 9 -8 12 -8 10 -2 1 -1 11 -5 9 4 4 3 15 5 9 0 13 6 12 3 13 4 12 1 15 9 2 17-8 17-7 8-4 16-10 10-7 8-8 5-7 9-10 -6-7 -9-7 1-8 -5 4 -10 8 -13 0 2-10 -5 6 -1-8 -2-6 -3-9 0-8 8-1 4 5 3 8 11 8 13-3 4 9 20 3 17-1 10 0 3 5 5 8 8 4 -6 0 6 11 12-3 -1 14 0 16 5 15 2 9 4 16 4 11 6-4 8-9 3-10 5-22 8-6 6-5 12-11 12-7 4-8 11-2 8-5 7 2 2 11 7 10 -1 18 7 1 11-4 4 21 -1 19 -3 11 9 11 2 15 6 8 11 9 3-1 -3-16 -2-10 -6-3 -8-10 -2-10 -4-7 6-14 3-5 6 5 4 5 2 6 8 3 2 9 10-8 12-7 3-13 -1-12 -11-12 -4-10 6-8 8-8 9 1 4 7 3-7 11-5 9-2 11-3 9-9 9-9 7-13 9-12 -1-6 1-8 -4-8 -4-9 8-7 11-5 -5-3 -10 1 -2-5 -3-6 5-2 13-9 6 2 -7 9 7-5 9 0 3 8 5 7 -4 15 6 2 10-4 3-10 -4-11 -3-6 13-8 7-8 7-6 7 3 11-7 12-10 19-18 3-15 6-7 -1-6 -15-5 1-2 22-24 12-5 20 1 13-2 14 2 7-4 8-9 13-1 16-3 -9 18 -22 9 -9 15 0 23 10-10 8-9 11-11 7-11 6-10 9-4 17 3 12-9 17-5 9 0 -6-12 14-5 13 2 14 4 2-6 9-3 -18-5 -24-9 -16-6 -21-1 -18 2 -20 0 -3-6 -19-1 -19-2 -18-4 -18-1 -10 5 -19 0 -13 2 -2-7 -7-5 -16 2 -14-2 -18-1 -10-2 12-7 -17-9 -22 4 -10 4 -18-1 -23 4 -10 5 -3 5 -20-2 -9 5 -15 0 -6-2 -17 9 -11 13 -12-1 -2-9 -33 8 -23 2 -12 0 -28 0 -5 1 -15 5 -18 9 -23 9 -7-2 10-8 -2-6 13 1 26-5 -5-5 -16-4 -12-3 -8-5 -27 5 -31 8 -19 8 -14 8 -19 8 -24 8 -18 6 -18 14 -2 6 9 0 21-8 0 2 -7 9 -5 8 1 4 13-4 11-8 7-6 15-5 4-6 4-6 8-5 13-6 16-5 14-7 9 0 -2 4 -8 4 -19 7 -17 11 0 6 17-3 14 2 -11 4 -19 1 -7 4 -4 6 -16 3 -9 8 -15 7 -9-2 -18 5 -8-2 -8 2 1-5 13-9 10-8 -13 3 -13 10 -8 9 -10 2 -12 3 -12 8 -14 4 -8 5 -11 4M857 -306l-7-1 3 6 -12 2 17 7 13 7 8 10 3 6 -11 0 -21-2 -2 5M-757 -255l10 0 16-5 8 0 4 4 6 3 11-1 9-3 5-7 -5-5 -5-6 -2-5 -3 0 -9 3 -9 2 -1-6 8-4 -5-3 -5 0 -9 6 -4 3 -8 5 -9 8 -4 6 1 5M-634 -288l9-3 9 2 -5 9 -12 5 -7 9 6 6 -5 9 1 9 -5 10 -17 4 -6-4 0-7 9-10 4-1 -4-9 0-7 5-9 2-7 16-6M-261 -194l6-1 6-15 8 3 8-1 3-6 7 1 2-2 9-1 6-2 5-4 2-10 4-7 3-6 -1-10 -6 0 -3 7 -2 8 -7 6 -9 5 -1-2 -5 8 -3 3 -13 0 -9 6 -4 3 -6 5 1 8 -1 4M-200 -257l5-1 11-2 13-8 -4-4 -11-9 -2 2 -3 10 -5 1 -3 5 -1 6M-185 -285l8-3 0-15 7 0 -4-15 4-16 -2 0 -6 10 -1 9 -4 18 -2 12M-320 -140l3 4 7-16 -1-5 -6 5 -3 12M-384 -115l7 2 6-9 -4-3 -7 2 -2 8M-546 -50l2 13 8-8 -5-14 -4-1 -1 10M-463 -34l12 2 14 16 18 19 6 9 8 7 1 17 -8 1 -13-12 -8-13 -10-15 -7-11 -9-10 -4-10M-408 42l4-5 14 3 11 2 11 1 11 5 -1 6 -18-3 -17-3 -14-5 -1-1M-388 -9l3-3 8 2 11-9 8-10 6-4 8-10 12 10 -7 6 -1 16 6 5 -8 5 -5 10 0 11 -9 5 -10-5 -7 0 -9-2 -1-9 -5-6 0-12M-331 35l1-13 -4-10 5-12 2-5 14-1 11-3 -10 7 -14-1 5 9 11 0 -10 5 8 16 -6 4 -6-14 -2 18 -5 0M-268 8l8-6 9 4 5 14 14-11 16 7 22 8 7 9 10 6 1 11 12 14 -10-1 -11-13 -11-2 -4 8 -13 0 -11-6 -5 2 -3-4 6-5 -4-10 -15-6 -9-3 -3 1 -5-7 -6-10M-320 -115l9 0 -2 10 -4 7 1 10 12 7 -8-4 -10-3 2-8 -5-5 3-7 2-7M-317 -43l9-5 11-13 6 16 -4 6 -3 4 -8-5 -11-3M-316 -65l11-6 9-7 -4 16 -11 3 -5-6M-305 63l17-11 -12 5 -5 6M-356 136l2 19 11 25 4 18 3 15 16 5 9-7 18-1 12-10 15-4 12-1 16 7 9 14 1-8 8-6 0 12 6 0 -2 7 9 4 6 11 16 4 14 2 7-8 11-2 0-12 4-12 6-10 2-12 1-12 -3-14 -4-8 -9-12 -7-2 -6-12 -12-9 -3-12 -3-12 -9-4 -2-10 -6-13 -5 14 1 16 -5 12 -8-1 -12-8 -8-7 6-16 -7-2 -16-3 -6 5 -7 5 -3 11 -11-5 -8 1 -5 8 -7 9 -7 8 -5 8 -12 5 -12 2 -9 7 -6 1M-177 252l18 1 1 8 -5 8 -9-6 -5-11M-38 214l9 7 8 8 13 5 -5 10 -3 1 -7 13 -4-2 2-9 -6-4 4-7 -1-10 -10-12M-37 251l9 7 -6 8 -2 5 -7 4 -3 9 -7 4 -13-3 1-5 7-8 11-6 5-7 5-8M828 -309l9-3 11-3M-848 -315l7-1 12-9 -2-4 1-2M830 -331l-7-4 -12-7 -6-3 -7-1 -3-7 -13-6 -7 0 8 9 7 6 9 4 10 2 2 4 10 6 -9 0 8 4 -1 5 11 2 -2 8M813 -322l-12-11 -3-3 -11-4 -2 3 -3 3 4 4 7 9 6 3 7-1 7-3M660 -391l-15-7 2-5 22 1 13 3 9 3 0 5 -9 5 -19-2 -3-3M-589 -463l0 7 6 2 20-4 32-6 -6-6 -15-1 -27 4 -10 4M-491 -428l17 3 5-12 25-11 39-7 4 1 -37 7 -25 10 -9 1 -19 8M-290 -465l23 4 13-6 -14-6 -19 1 -3 7M-449 -470l27-2 26-1 -8-3 -31 3 -14 3M-157 -449l15 7 24-5 -6-3 -21-1 -12 2M-6 -427l10 1 8-3 -12-1 -6 3M509 -136l12-7 13 0 15 8 19 10 -18 2 -4-6 -18-6 -19-1M569 -115l7-8 16 1 10 7 -9 2 -8 4 -16-6M584 -294l7-12 -6-12 20 12 9 12 -8 5 -22-5M-173 34l9-2 8-6 4 2 -6 6 -6 4 -9-2 0-2M-111 58l6 2 0 1 -6 0 0-3M-106 52l5 5 -1 2 -4-4 0-3M-85 125l10 8 5 5 -2 0 -11-9 -2-4M-15 108l7-1 0 6 -7-1 0-4M130 -118l4-2 0-3 -5-2 0 3 1 4M117 -132l3 0 -2-3 -1 1 0 2M-328 53l17-2 -1 3 -15 1 -1-2M-345 53l12-2 0 3 -10 2 -2-3M-358 51l7 1 5 0 0 3 -11-1 -1-3M-287 -11l5 2 -3 6 5 3 -5 4 -3-7 1-8M-284 20l15 1 -2 3 -12-2 -1-2M-295 19l6 1 -2 4 -4-2 0-3M-73 92l4 2 -1 5 -3-3 0-4M559 317l14 0 -6 5 -8-1 0-4M-705 423l38 0 38-1 36-3 16-3 17-2 14-6 14-5 20-1 25 5 22 1 25 6 14 7 11-2 7-5 9-8 23-3 28 0 19-3 21 2 20-2 22 3 21 0 20-1 20 0 20 0 22 3 21 3 22 6 21 2 20 6 13 2 12 5 15 0 3 5 -9 8 -13 7 -6 7 8 4 10 1 11 0 35 1 35 1 35-2 8-4 22-1 28-7 39-5 39-3 36 2 36 1 23-5 21-2 19-1 36 2 25-6 17 2 19-18 2 6 20-16 22-11 38-9 -14 6 -17 8 -14 11 -7 11 -18 15 -15 10 0 4 -7 5 30 4 34 1 22-3 30-7 35-9 34-5 35-8 33-3 24-3" fill="none" stroke="#000" stroke-width="9" stroke-linejoin="round"/>
</g>
<path d="M448.7,451.7 451.1,451 453.7,450.1 456.7,449 459.8,447.7 462.8,446.3 465.6,444.7 468.2,443.2 470.7,441.5 473,439.8 475.3,438.1 477.5,436.4 479.6,434.6 481.6,432.8 483.3,430.9 485,429.1 486.5,427.2 487.9,425.3 489.1,423.5 490.2,421.6 491.1,419.7 491.9,417.8 492.5,415.9 493.1,414 493.5,412.1 494,410.2 494.3,408.3 494.5,406.4 494.7,404.5 494.8,402.6 494.8,400.8 494.7,398.9 494.5,397 494.3,395.1 494,393.2 493.5,391.3 493.1,389.4 492.5,387.5 491.9,385.6 491.1,383.7 490.2,381.8 489.1,379.9 487.9,378.1 486.5,376.2 485,374.3 483.3,372.5 481.6,370.6 479.6,368.8 477.5,367 475.3,365.3 473,363.6 470.7,361.9 468.2,360.2 465.6,358.7 462.8,357.1 459.8,355.7 456.7,354.4 453.7,353.3 451.1,352.4 448.7,351.7 343.9,351.7 341.5,352.4 338.9,353.3 335.9,354.4 332.8,355.7 329.8,357.1 327,358.7 324.4,360.2 321.9,361.9 319.6,363.6 317.3,365.3 315.1,367 313,368.8 311,370.6 309.3,372.5 307.6,374.3 306.1,376.2 304.7,378.1 303.5,379.9 302.4,381.8 301.5,383.7 300.7,385.6 300.1,387.5 299.5,389.4 299.1,391.3 298.6,393.2 298.3,395.1 298.1,397 297.9,398.9 297.8,400.8 297.8,402.6 297.9,404.5 298.1,406.4 298.3,408.3 298.6,410.2 299.1,412.1 299.5,414 300.1,415.9 300.7,417.8 301.5,419.7 302.4,421.6 303.5,423.5 304.7,425.3 306.1,427.2 307.6,429.1 309.3,430.9 311,432.8 313,434.6 315.1,436.4 317.3,438.1 319.6,439.8 321.9,441.5 324.4,443.2 327,444.7 329.8,446.3 332.8,447.7 335.9,449 338.9,450.1 341.5,451 343.9,451.7Z" fill="none" stroke="#000" stroke-width="0.9"/>
<text x="191.6" y="12.8" font-size="9.75" text-anchor="middle">Surface albedo feedbacks</text>
<text x="394.5" y="12.8" font-size="9.75" text-anchor="middle">Cloud feedbacks</text>
<text x="28.6" y="81.5" font-size="16.5">−7.5C</text>
<text x="20.0" y="188.0" font-size="16.5">−12.5C</text>
<text x="19.5" y="298.9" font-size="16.5">−27.5C</text>
<text x="20.6" y="408.1" font-size="16.5">−32.5C</text>
<text transform="translate(14.1,238.2) rotate(-90)" font-size="10.9" text-anchor="middle">Global mean temperature anomaly</text>
<line x1="293.9" y1="21.0" x2="293.9" y2="456.3" stroke="#8a8a8a" stroke-width="1.6" stroke-dasharray="4.9 3.706"/>
<rect x="121.00" y="463.1" width="20.68" height="17.7" fill="#3f0057"/>
<rect x="141.38" y="463.1" width="20.68" height="17.7" fill="#6a1b8a"/>
<rect x="161.75" y="463.1" width="20.68" height="17.7" fill="#9a27b0"/>
<rect x="182.13" y="463.1" width="20.68" height="17.7" fill="#1863bf"/>
<rect x="202.51" y="463.1" width="20.68" height="17.7" fill="#2196f2"/>
<rect x="222.88" y="463.1" width="20.68" height="17.7" fill="#64b3f3"/>
<rect x="243.26" y="463.1" width="20.68" height="17.7" fill="#bcdcf8"/>
<rect x="263.64" y="463.1" width="20.68" height="17.7" fill="#e2f3fb"/>
<rect x="284.01" y="463.1" width="20.68" height="17.7" fill="#ffffff"/>
<rect x="304.39" y="463.1" width="20.68" height="17.7" fill="#fff1dd"/>
<rect x="324.76" y="463.1" width="20.68" height="17.7" fill="#ffdcb0"/>
<rect x="345.14" y="463.1" width="20.68" height="17.7" fill="#ffa628"/>
<rect x="365.52" y="463.1" width="20.68" height="17.7" fill="#fb8600"/>
<rect x="385.89" y="463.1" width="20.68" height="17.7" fill="#e64b1e"/>
<rect x="406.27" y="463.1" width="20.68" height="17.7" fill="#b21c1c"/>
<rect x="426.65" y="463.1" width="20.68" height="17.7" fill="#8b0a0a"/>
<rect x="447.02" y="463.1" width="20.68" height="17.7" fill="#570000"/>
<rect x="121.0" y="463.1" width="346.4" height="17.7" fill="none" stroke="#000" stroke-width="0.8"/>
<line x1="121.00" y1="480.8" x2="121.00" y2="483.7" stroke="#000" stroke-width="0.8"/>
<text transform="translate(121.00,498.82) rotate(-45)" font-size="8.0" text-anchor="middle" dy="3.04">−48.00</text>
<line x1="141.38" y1="480.8" x2="141.38" y2="483.7" stroke="#000" stroke-width="0.8"/>
<text transform="translate(141.38,498.82) rotate(-45)" font-size="8.0" text-anchor="middle" dy="3.04">−24.00</text>
<line x1="161.75" y1="480.8" x2="161.75" y2="483.7" stroke="#000" stroke-width="0.8"/>
<text transform="translate(161.75,498.82) rotate(-45)" font-size="8.0" text-anchor="middle" dy="3.04">−12.00</text>
<line x1="182.13" y1="480.8" x2="182.13" y2="483.7" stroke="#000" stroke-width="0.8"/>
<text transform="translate(182.13,497.02) rotate(-45)" font-size="8.0" text-anchor="middle" dy="3.04">−6.00</text>
<line x1="202.51" y1="480.8" x2="202.51" y2="483.7" stroke="#000" stroke-width="0.8"/>
<text transform="translate(202.51,497.02) rotate(-45)" font-size="8.0" text-anchor="middle" dy="3.04">−3.00</text>
<line x1="222.88" y1="480.8" x2="222.88" y2="483.7" stroke="#000" stroke-width="0.8"/>
<text transform="translate(222.88,497.02) rotate(-45)" font-size="8.0" text-anchor="middle" dy="3.04">−1.50</text>
<line x1="243.26" y1="480.8" x2="243.26" y2="483.7" stroke="#000" stroke-width="0.8"/>
<text transform="translate(243.26,497.02) rotate(-45)" font-size="8.0" text-anchor="middle" dy="3.04">−0.75</text>
<line x1="263.64" y1="480.8" x2="263.64" y2="483.7" stroke="#000" stroke-width="0.8"/>
<text transform="translate(263.64,497.02) rotate(-45)" font-size="8.0" text-anchor="middle" dy="3.04">−0.38</text>
<line x1="284.01" y1="480.8" x2="284.01" y2="483.7" stroke="#000" stroke-width="0.8"/>
<text transform="translate(284.01,497.02) rotate(-45)" font-size="8.0" text-anchor="middle" dy="3.04">−0.19</text>
<line x1="304.39" y1="480.8" x2="304.39" y2="483.7" stroke="#000" stroke-width="0.8"/>
<text transform="translate(304.39,494.65) rotate(-45)" font-size="8.0" text-anchor="middle" dy="3.04">0.19</text>
<line x1="324.76" y1="480.8" x2="324.76" y2="483.7" stroke="#000" stroke-width="0.8"/>
<text transform="translate(324.76,494.65) rotate(-45)" font-size="8.0" text-anchor="middle" dy="3.04">0.38</text>
<line x1="345.14" y1="480.8" x2="345.14" y2="483.7" stroke="#000" stroke-width="0.8"/>
<text transform="translate(345.14,494.65) rotate(-45)" font-size="8.0" text-anchor="middle" dy="3.04">0.75</text>
<line x1="365.52" y1="480.8" x2="365.52" y2="483.7" stroke="#000" stroke-width="0.8"/>
<text transform="translate(365.52,494.65) rotate(-45)" font-size="8.0" text-anchor="middle" dy="3.04">1.50</text>
<line x1="385.89" y1="480.8" x2="385.89" y2="483.7" stroke="#000" stroke-width="0.8"/>
<text transform="translate(385.89,494.65) rotate(-45)" font-size="8.0" text-anchor="middle" dy="3.04">3.00</text>
<line x1="406.27" y1="480.8" x2="406.27" y2="483.7" stroke="#000" stroke-width="0.8"/>
<text transform="translate(406.27,494.65) rotate(-45)" font-size="8.0" text-anchor="middle" dy="3.04">6.00</text>
<line x1="426.65" y1="480.8" x2="426.65" y2="483.7" stroke="#000" stroke-width="0.8"/>
<text transform="translate(426.65,496.45) rotate(-45)" font-size="8.0" text-anchor="middle" dy="3.04">12.00</text>
<line x1="447.02" y1="480.8" x2="447.02" y2="483.7" stroke="#000" stroke-width="0.8"/>
<text transform="translate(447.02,496.45) rotate(-45)" font-size="8.0" text-anchor="middle" dy="3.04">24.00</text>
<line x1="467.40" y1="480.8" x2="467.40" y2="483.7" stroke="#000" stroke-width="0.8"/>
<text transform="translate(467.40,496.45) rotate(-45)" font-size="8.0" text-anchor="middle" dy="3.04">48.00</text>
<text x="294.2" y="524.1" font-size="7.8" text-anchor="middle">Feedback parameter (Wm<tspan font-size="5.6" dy="-3.2">−2</tspan><tspan dy="3.2">C</tspan><tspan font-size="5.6" dy="-3.2">−1</tspan><tspan dy="3.2">)</tspan></text>
</svg></body></html>
